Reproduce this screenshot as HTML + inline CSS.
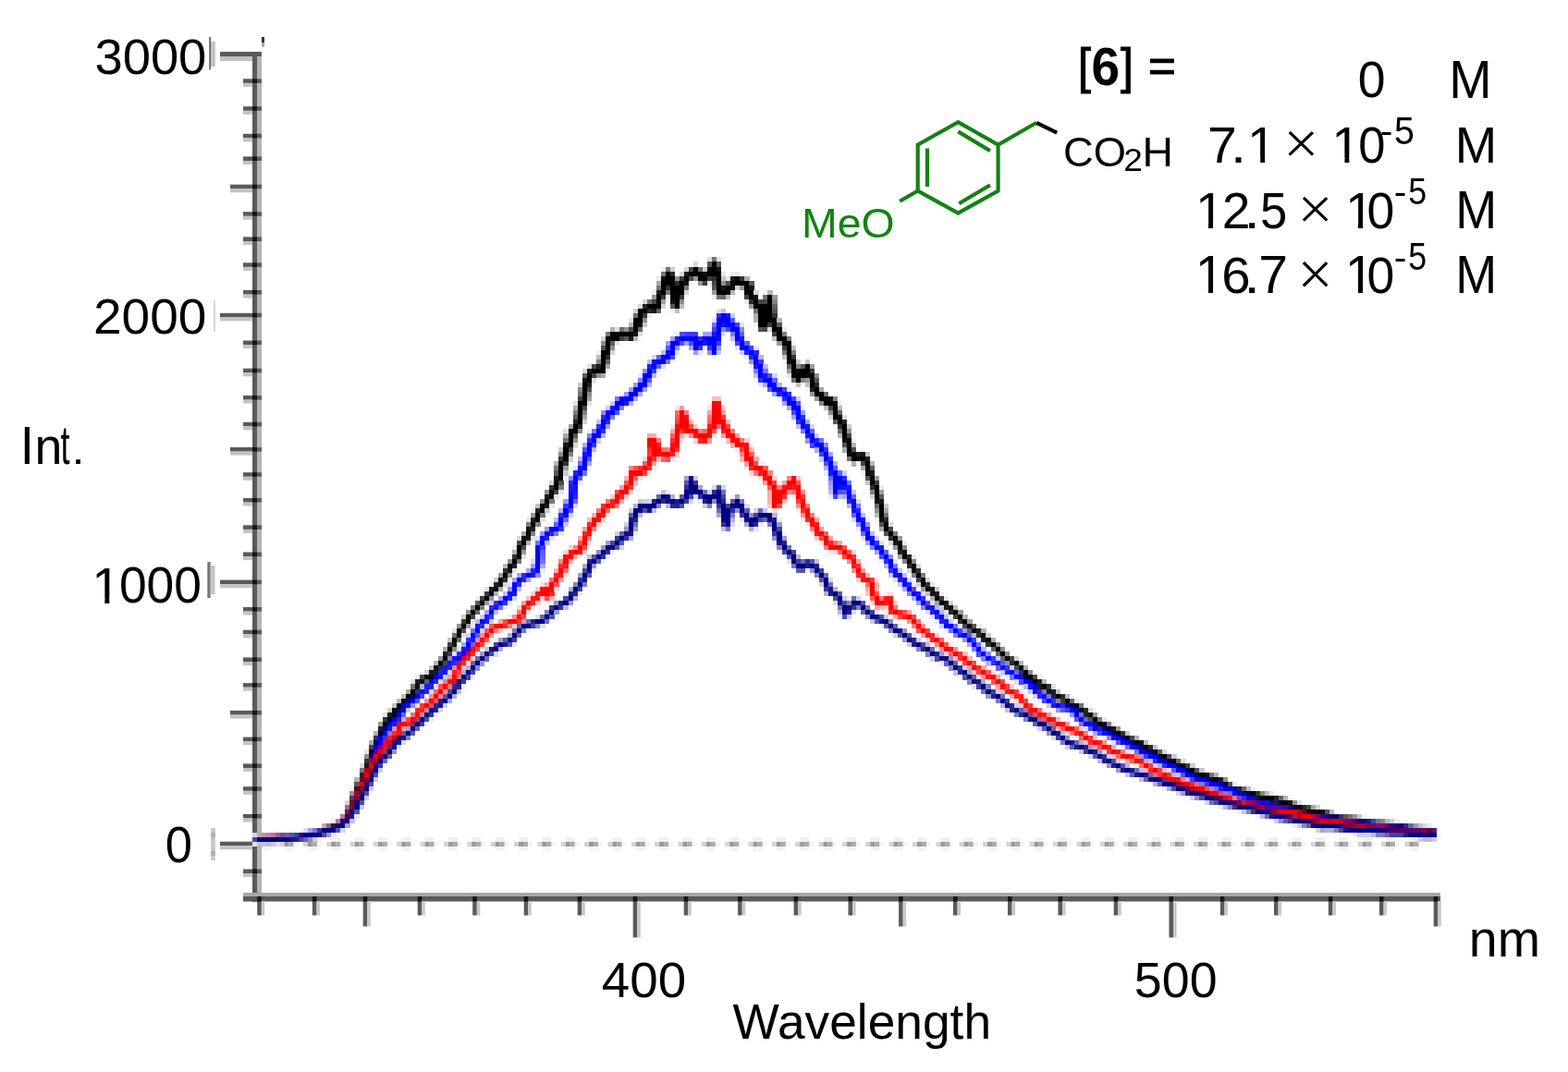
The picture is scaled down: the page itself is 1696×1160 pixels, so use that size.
<!DOCTYPE html>
<html><head><meta charset="utf-8"><style>html,body{margin:0;padding:0;background:#fff;}svg{display:block;}</style></head>
<body>
<svg width="1696" height="1160" viewBox="0 0 1696 1160" font-family="'Liberation Sans', Arial, sans-serif">
<rect width="1696" height="1160" fill="#fff"/>
<rect x="282.15" y="906" width="10" height="5" fill="#efefef"/>
<rect x="282.15" y="916" width="10" height="5" fill="#f4f4f4"/>
<rect x="277.15" y="911" width="5" height="5" fill="#d4d4d4"/>
<rect x="292.15" y="911" width="5" height="5" fill="#f5f5f5"/>
<rect x="282.15" y="911" width="5" height="5" fill="#999999"/>
<rect x="287.15" y="911" width="5" height="5" fill="#ababab"/>
<rect x="307.50" y="906" width="10" height="5" fill="#efefef"/>
<rect x="307.50" y="916" width="10" height="5" fill="#f4f4f4"/>
<rect x="302.50" y="911" width="5" height="5" fill="#d4d4d4"/>
<rect x="317.50" y="911" width="5" height="5" fill="#f5f5f5"/>
<rect x="307.50" y="911" width="5" height="5" fill="#999999"/>
<rect x="312.50" y="911" width="5" height="5" fill="#ababab"/>
<rect x="332.85" y="906" width="10" height="5" fill="#efefef"/>
<rect x="332.85" y="916" width="10" height="5" fill="#f4f4f4"/>
<rect x="327.85" y="911" width="5" height="5" fill="#d4d4d4"/>
<rect x="342.85" y="911" width="5" height="5" fill="#f5f5f5"/>
<rect x="332.85" y="911" width="5" height="5" fill="#999999"/>
<rect x="337.85" y="911" width="5" height="5" fill="#ababab"/>
<rect x="358.20" y="906" width="10" height="5" fill="#efefef"/>
<rect x="358.20" y="916" width="10" height="5" fill="#f4f4f4"/>
<rect x="353.20" y="911" width="5" height="5" fill="#d4d4d4"/>
<rect x="368.20" y="911" width="5" height="5" fill="#f5f5f5"/>
<rect x="358.20" y="911" width="5" height="5" fill="#999999"/>
<rect x="363.20" y="911" width="5" height="5" fill="#ababab"/>
<rect x="383.55" y="906" width="10" height="5" fill="#efefef"/>
<rect x="383.55" y="916" width="10" height="5" fill="#f4f4f4"/>
<rect x="378.55" y="911" width="5" height="5" fill="#d4d4d4"/>
<rect x="393.55" y="911" width="5" height="5" fill="#f5f5f5"/>
<rect x="383.55" y="911" width="5" height="5" fill="#999999"/>
<rect x="388.55" y="911" width="5" height="5" fill="#ababab"/>
<rect x="408.90" y="906" width="10" height="5" fill="#efefef"/>
<rect x="408.90" y="916" width="10" height="5" fill="#f4f4f4"/>
<rect x="403.90" y="911" width="5" height="5" fill="#d4d4d4"/>
<rect x="418.90" y="911" width="5" height="5" fill="#f5f5f5"/>
<rect x="408.90" y="911" width="5" height="5" fill="#999999"/>
<rect x="413.90" y="911" width="5" height="5" fill="#ababab"/>
<rect x="434.25" y="906" width="10" height="5" fill="#efefef"/>
<rect x="434.25" y="916" width="10" height="5" fill="#f4f4f4"/>
<rect x="429.25" y="911" width="5" height="5" fill="#d4d4d4"/>
<rect x="444.25" y="911" width="5" height="5" fill="#f5f5f5"/>
<rect x="434.25" y="911" width="5" height="5" fill="#999999"/>
<rect x="439.25" y="911" width="5" height="5" fill="#ababab"/>
<rect x="459.60" y="906" width="10" height="5" fill="#efefef"/>
<rect x="459.60" y="916" width="10" height="5" fill="#f4f4f4"/>
<rect x="454.60" y="911" width="5" height="5" fill="#d4d4d4"/>
<rect x="469.60" y="911" width="5" height="5" fill="#f5f5f5"/>
<rect x="459.60" y="911" width="5" height="5" fill="#999999"/>
<rect x="464.60" y="911" width="5" height="5" fill="#ababab"/>
<rect x="484.95" y="906" width="10" height="5" fill="#efefef"/>
<rect x="484.95" y="916" width="10" height="5" fill="#f4f4f4"/>
<rect x="479.95" y="911" width="5" height="5" fill="#d4d4d4"/>
<rect x="494.95" y="911" width="5" height="5" fill="#f5f5f5"/>
<rect x="484.95" y="911" width="5" height="5" fill="#999999"/>
<rect x="489.95" y="911" width="5" height="5" fill="#ababab"/>
<rect x="510.30" y="906" width="10" height="5" fill="#efefef"/>
<rect x="510.30" y="916" width="10" height="5" fill="#f4f4f4"/>
<rect x="505.30" y="911" width="5" height="5" fill="#d4d4d4"/>
<rect x="520.30" y="911" width="5" height="5" fill="#f5f5f5"/>
<rect x="510.30" y="911" width="5" height="5" fill="#999999"/>
<rect x="515.30" y="911" width="5" height="5" fill="#ababab"/>
<rect x="535.65" y="906" width="10" height="5" fill="#efefef"/>
<rect x="535.65" y="916" width="10" height="5" fill="#f4f4f4"/>
<rect x="530.65" y="911" width="5" height="5" fill="#d4d4d4"/>
<rect x="545.65" y="911" width="5" height="5" fill="#f5f5f5"/>
<rect x="535.65" y="911" width="5" height="5" fill="#999999"/>
<rect x="540.65" y="911" width="5" height="5" fill="#ababab"/>
<rect x="561.00" y="906" width="10" height="5" fill="#efefef"/>
<rect x="561.00" y="916" width="10" height="5" fill="#f4f4f4"/>
<rect x="556.00" y="911" width="5" height="5" fill="#d4d4d4"/>
<rect x="571.00" y="911" width="5" height="5" fill="#f5f5f5"/>
<rect x="561.00" y="911" width="5" height="5" fill="#999999"/>
<rect x="566.00" y="911" width="5" height="5" fill="#ababab"/>
<rect x="586.35" y="906" width="10" height="5" fill="#efefef"/>
<rect x="586.35" y="916" width="10" height="5" fill="#f4f4f4"/>
<rect x="581.35" y="911" width="5" height="5" fill="#d4d4d4"/>
<rect x="596.35" y="911" width="5" height="5" fill="#f5f5f5"/>
<rect x="586.35" y="911" width="5" height="5" fill="#999999"/>
<rect x="591.35" y="911" width="5" height="5" fill="#ababab"/>
<rect x="611.70" y="906" width="10" height="5" fill="#efefef"/>
<rect x="611.70" y="916" width="10" height="5" fill="#f4f4f4"/>
<rect x="606.70" y="911" width="5" height="5" fill="#d4d4d4"/>
<rect x="621.70" y="911" width="5" height="5" fill="#f5f5f5"/>
<rect x="611.70" y="911" width="5" height="5" fill="#999999"/>
<rect x="616.70" y="911" width="5" height="5" fill="#ababab"/>
<rect x="637.05" y="906" width="10" height="5" fill="#efefef"/>
<rect x="637.05" y="916" width="10" height="5" fill="#f4f4f4"/>
<rect x="632.05" y="911" width="5" height="5" fill="#d4d4d4"/>
<rect x="647.05" y="911" width="5" height="5" fill="#f5f5f5"/>
<rect x="637.05" y="911" width="5" height="5" fill="#999999"/>
<rect x="642.05" y="911" width="5" height="5" fill="#ababab"/>
<rect x="662.40" y="906" width="10" height="5" fill="#efefef"/>
<rect x="662.40" y="916" width="10" height="5" fill="#f4f4f4"/>
<rect x="657.40" y="911" width="5" height="5" fill="#d4d4d4"/>
<rect x="672.40" y="911" width="5" height="5" fill="#f5f5f5"/>
<rect x="662.40" y="911" width="5" height="5" fill="#999999"/>
<rect x="667.40" y="911" width="5" height="5" fill="#ababab"/>
<rect x="687.75" y="906" width="10" height="5" fill="#efefef"/>
<rect x="687.75" y="916" width="10" height="5" fill="#f4f4f4"/>
<rect x="682.75" y="911" width="5" height="5" fill="#d4d4d4"/>
<rect x="697.75" y="911" width="5" height="5" fill="#f5f5f5"/>
<rect x="687.75" y="911" width="5" height="5" fill="#999999"/>
<rect x="692.75" y="911" width="5" height="5" fill="#ababab"/>
<rect x="713.10" y="906" width="10" height="5" fill="#efefef"/>
<rect x="713.10" y="916" width="10" height="5" fill="#f4f4f4"/>
<rect x="708.10" y="911" width="5" height="5" fill="#d4d4d4"/>
<rect x="723.10" y="911" width="5" height="5" fill="#f5f5f5"/>
<rect x="713.10" y="911" width="5" height="5" fill="#999999"/>
<rect x="718.10" y="911" width="5" height="5" fill="#ababab"/>
<rect x="738.45" y="906" width="10" height="5" fill="#efefef"/>
<rect x="738.45" y="916" width="10" height="5" fill="#f4f4f4"/>
<rect x="733.45" y="911" width="5" height="5" fill="#d4d4d4"/>
<rect x="748.45" y="911" width="5" height="5" fill="#f5f5f5"/>
<rect x="738.45" y="911" width="5" height="5" fill="#999999"/>
<rect x="743.45" y="911" width="5" height="5" fill="#ababab"/>
<rect x="763.80" y="906" width="10" height="5" fill="#efefef"/>
<rect x="763.80" y="916" width="10" height="5" fill="#f4f4f4"/>
<rect x="758.80" y="911" width="5" height="5" fill="#d4d4d4"/>
<rect x="773.80" y="911" width="5" height="5" fill="#f5f5f5"/>
<rect x="763.80" y="911" width="5" height="5" fill="#999999"/>
<rect x="768.80" y="911" width="5" height="5" fill="#ababab"/>
<rect x="789.15" y="906" width="10" height="5" fill="#efefef"/>
<rect x="789.15" y="916" width="10" height="5" fill="#f4f4f4"/>
<rect x="784.15" y="911" width="5" height="5" fill="#d4d4d4"/>
<rect x="799.15" y="911" width="5" height="5" fill="#f5f5f5"/>
<rect x="789.15" y="911" width="5" height="5" fill="#999999"/>
<rect x="794.15" y="911" width="5" height="5" fill="#ababab"/>
<rect x="814.50" y="906" width="10" height="5" fill="#efefef"/>
<rect x="814.50" y="916" width="10" height="5" fill="#f4f4f4"/>
<rect x="809.50" y="911" width="5" height="5" fill="#d4d4d4"/>
<rect x="824.50" y="911" width="5" height="5" fill="#f5f5f5"/>
<rect x="814.50" y="911" width="5" height="5" fill="#999999"/>
<rect x="819.50" y="911" width="5" height="5" fill="#ababab"/>
<rect x="839.85" y="906" width="10" height="5" fill="#efefef"/>
<rect x="839.85" y="916" width="10" height="5" fill="#f4f4f4"/>
<rect x="834.85" y="911" width="5" height="5" fill="#d4d4d4"/>
<rect x="849.85" y="911" width="5" height="5" fill="#f5f5f5"/>
<rect x="839.85" y="911" width="5" height="5" fill="#999999"/>
<rect x="844.85" y="911" width="5" height="5" fill="#ababab"/>
<rect x="865.20" y="906" width="10" height="5" fill="#efefef"/>
<rect x="865.20" y="916" width="10" height="5" fill="#f4f4f4"/>
<rect x="860.20" y="911" width="5" height="5" fill="#d4d4d4"/>
<rect x="875.20" y="911" width="5" height="5" fill="#f5f5f5"/>
<rect x="865.20" y="911" width="5" height="5" fill="#999999"/>
<rect x="870.20" y="911" width="5" height="5" fill="#ababab"/>
<rect x="890.55" y="906" width="10" height="5" fill="#efefef"/>
<rect x="890.55" y="916" width="10" height="5" fill="#f4f4f4"/>
<rect x="885.55" y="911" width="5" height="5" fill="#d4d4d4"/>
<rect x="900.55" y="911" width="5" height="5" fill="#f5f5f5"/>
<rect x="890.55" y="911" width="5" height="5" fill="#999999"/>
<rect x="895.55" y="911" width="5" height="5" fill="#ababab"/>
<rect x="915.90" y="906" width="10" height="5" fill="#efefef"/>
<rect x="915.90" y="916" width="10" height="5" fill="#f4f4f4"/>
<rect x="910.90" y="911" width="5" height="5" fill="#d4d4d4"/>
<rect x="925.90" y="911" width="5" height="5" fill="#f5f5f5"/>
<rect x="915.90" y="911" width="5" height="5" fill="#999999"/>
<rect x="920.90" y="911" width="5" height="5" fill="#ababab"/>
<rect x="941.25" y="906" width="10" height="5" fill="#efefef"/>
<rect x="941.25" y="916" width="10" height="5" fill="#f4f4f4"/>
<rect x="936.25" y="911" width="5" height="5" fill="#d4d4d4"/>
<rect x="951.25" y="911" width="5" height="5" fill="#f5f5f5"/>
<rect x="941.25" y="911" width="5" height="5" fill="#999999"/>
<rect x="946.25" y="911" width="5" height="5" fill="#ababab"/>
<rect x="966.60" y="906" width="10" height="5" fill="#efefef"/>
<rect x="966.60" y="916" width="10" height="5" fill="#f4f4f4"/>
<rect x="961.60" y="911" width="5" height="5" fill="#d4d4d4"/>
<rect x="976.60" y="911" width="5" height="5" fill="#f5f5f5"/>
<rect x="966.60" y="911" width="5" height="5" fill="#999999"/>
<rect x="971.60" y="911" width="5" height="5" fill="#ababab"/>
<rect x="991.95" y="906" width="10" height="5" fill="#efefef"/>
<rect x="991.95" y="916" width="10" height="5" fill="#f4f4f4"/>
<rect x="986.95" y="911" width="5" height="5" fill="#d4d4d4"/>
<rect x="1001.95" y="911" width="5" height="5" fill="#f5f5f5"/>
<rect x="991.95" y="911" width="5" height="5" fill="#999999"/>
<rect x="996.95" y="911" width="5" height="5" fill="#ababab"/>
<rect x="1017.30" y="906" width="10" height="5" fill="#efefef"/>
<rect x="1017.30" y="916" width="10" height="5" fill="#f4f4f4"/>
<rect x="1012.30" y="911" width="5" height="5" fill="#d4d4d4"/>
<rect x="1027.30" y="911" width="5" height="5" fill="#f5f5f5"/>
<rect x="1017.30" y="911" width="5" height="5" fill="#999999"/>
<rect x="1022.30" y="911" width="5" height="5" fill="#ababab"/>
<rect x="1042.65" y="906" width="10" height="5" fill="#efefef"/>
<rect x="1042.65" y="916" width="10" height="5" fill="#f4f4f4"/>
<rect x="1037.65" y="911" width="5" height="5" fill="#d4d4d4"/>
<rect x="1052.65" y="911" width="5" height="5" fill="#f5f5f5"/>
<rect x="1042.65" y="911" width="5" height="5" fill="#999999"/>
<rect x="1047.65" y="911" width="5" height="5" fill="#ababab"/>
<rect x="1068.00" y="906" width="10" height="5" fill="#efefef"/>
<rect x="1068.00" y="916" width="10" height="5" fill="#f4f4f4"/>
<rect x="1063.00" y="911" width="5" height="5" fill="#d4d4d4"/>
<rect x="1078.00" y="911" width="5" height="5" fill="#f5f5f5"/>
<rect x="1068.00" y="911" width="5" height="5" fill="#999999"/>
<rect x="1073.00" y="911" width="5" height="5" fill="#ababab"/>
<rect x="1093.35" y="906" width="10" height="5" fill="#efefef"/>
<rect x="1093.35" y="916" width="10" height="5" fill="#f4f4f4"/>
<rect x="1088.35" y="911" width="5" height="5" fill="#d4d4d4"/>
<rect x="1103.35" y="911" width="5" height="5" fill="#f5f5f5"/>
<rect x="1093.35" y="911" width="5" height="5" fill="#999999"/>
<rect x="1098.35" y="911" width="5" height="5" fill="#ababab"/>
<rect x="1118.70" y="906" width="10" height="5" fill="#efefef"/>
<rect x="1118.70" y="916" width="10" height="5" fill="#f4f4f4"/>
<rect x="1113.70" y="911" width="5" height="5" fill="#d4d4d4"/>
<rect x="1128.70" y="911" width="5" height="5" fill="#f5f5f5"/>
<rect x="1118.70" y="911" width="5" height="5" fill="#999999"/>
<rect x="1123.70" y="911" width="5" height="5" fill="#ababab"/>
<rect x="1144.05" y="906" width="10" height="5" fill="#efefef"/>
<rect x="1144.05" y="916" width="10" height="5" fill="#f4f4f4"/>
<rect x="1139.05" y="911" width="5" height="5" fill="#d4d4d4"/>
<rect x="1154.05" y="911" width="5" height="5" fill="#f5f5f5"/>
<rect x="1144.05" y="911" width="5" height="5" fill="#999999"/>
<rect x="1149.05" y="911" width="5" height="5" fill="#ababab"/>
<rect x="1169.40" y="906" width="10" height="5" fill="#efefef"/>
<rect x="1169.40" y="916" width="10" height="5" fill="#f4f4f4"/>
<rect x="1164.40" y="911" width="5" height="5" fill="#d4d4d4"/>
<rect x="1179.40" y="911" width="5" height="5" fill="#f5f5f5"/>
<rect x="1169.40" y="911" width="5" height="5" fill="#999999"/>
<rect x="1174.40" y="911" width="5" height="5" fill="#ababab"/>
<rect x="1194.75" y="906" width="10" height="5" fill="#efefef"/>
<rect x="1194.75" y="916" width="10" height="5" fill="#f4f4f4"/>
<rect x="1189.75" y="911" width="5" height="5" fill="#d4d4d4"/>
<rect x="1204.75" y="911" width="5" height="5" fill="#f5f5f5"/>
<rect x="1194.75" y="911" width="5" height="5" fill="#999999"/>
<rect x="1199.75" y="911" width="5" height="5" fill="#ababab"/>
<rect x="1220.10" y="906" width="10" height="5" fill="#efefef"/>
<rect x="1220.10" y="916" width="10" height="5" fill="#f4f4f4"/>
<rect x="1215.10" y="911" width="5" height="5" fill="#d4d4d4"/>
<rect x="1230.10" y="911" width="5" height="5" fill="#f5f5f5"/>
<rect x="1220.10" y="911" width="5" height="5" fill="#999999"/>
<rect x="1225.10" y="911" width="5" height="5" fill="#ababab"/>
<rect x="1245.45" y="906" width="10" height="5" fill="#efefef"/>
<rect x="1245.45" y="916" width="10" height="5" fill="#f4f4f4"/>
<rect x="1240.45" y="911" width="5" height="5" fill="#d4d4d4"/>
<rect x="1255.45" y="911" width="5" height="5" fill="#f5f5f5"/>
<rect x="1245.45" y="911" width="5" height="5" fill="#999999"/>
<rect x="1250.45" y="911" width="5" height="5" fill="#ababab"/>
<rect x="1270.80" y="906" width="10" height="5" fill="#efefef"/>
<rect x="1270.80" y="916" width="10" height="5" fill="#f4f4f4"/>
<rect x="1265.80" y="911" width="5" height="5" fill="#d4d4d4"/>
<rect x="1280.80" y="911" width="5" height="5" fill="#f5f5f5"/>
<rect x="1270.80" y="911" width="5" height="5" fill="#999999"/>
<rect x="1275.80" y="911" width="5" height="5" fill="#ababab"/>
<rect x="1296.15" y="906" width="10" height="5" fill="#efefef"/>
<rect x="1296.15" y="916" width="10" height="5" fill="#f4f4f4"/>
<rect x="1291.15" y="911" width="5" height="5" fill="#d4d4d4"/>
<rect x="1306.15" y="911" width="5" height="5" fill="#f5f5f5"/>
<rect x="1296.15" y="911" width="5" height="5" fill="#999999"/>
<rect x="1301.15" y="911" width="5" height="5" fill="#ababab"/>
<rect x="1321.50" y="906" width="10" height="5" fill="#efefef"/>
<rect x="1321.50" y="916" width="10" height="5" fill="#f4f4f4"/>
<rect x="1316.50" y="911" width="5" height="5" fill="#d4d4d4"/>
<rect x="1331.50" y="911" width="5" height="5" fill="#f5f5f5"/>
<rect x="1321.50" y="911" width="5" height="5" fill="#999999"/>
<rect x="1326.50" y="911" width="5" height="5" fill="#ababab"/>
<rect x="1346.85" y="906" width="10" height="5" fill="#efefef"/>
<rect x="1346.85" y="916" width="10" height="5" fill="#f4f4f4"/>
<rect x="1341.85" y="911" width="5" height="5" fill="#d4d4d4"/>
<rect x="1356.85" y="911" width="5" height="5" fill="#f5f5f5"/>
<rect x="1346.85" y="911" width="5" height="5" fill="#999999"/>
<rect x="1351.85" y="911" width="5" height="5" fill="#ababab"/>
<rect x="1372.20" y="906" width="10" height="5" fill="#efefef"/>
<rect x="1372.20" y="916" width="10" height="5" fill="#f4f4f4"/>
<rect x="1367.20" y="911" width="5" height="5" fill="#d4d4d4"/>
<rect x="1382.20" y="911" width="5" height="5" fill="#f5f5f5"/>
<rect x="1372.20" y="911" width="5" height="5" fill="#999999"/>
<rect x="1377.20" y="911" width="5" height="5" fill="#ababab"/>
<rect x="1397.55" y="906" width="10" height="5" fill="#efefef"/>
<rect x="1397.55" y="916" width="10" height="5" fill="#f4f4f4"/>
<rect x="1392.55" y="911" width="5" height="5" fill="#d4d4d4"/>
<rect x="1407.55" y="911" width="5" height="5" fill="#f5f5f5"/>
<rect x="1397.55" y="911" width="5" height="5" fill="#999999"/>
<rect x="1402.55" y="911" width="5" height="5" fill="#ababab"/>
<rect x="1422.90" y="906" width="10" height="5" fill="#efefef"/>
<rect x="1422.90" y="916" width="10" height="5" fill="#f4f4f4"/>
<rect x="1417.90" y="911" width="5" height="5" fill="#d4d4d4"/>
<rect x="1432.90" y="911" width="5" height="5" fill="#f5f5f5"/>
<rect x="1422.90" y="911" width="5" height="5" fill="#999999"/>
<rect x="1427.90" y="911" width="5" height="5" fill="#ababab"/>
<rect x="1448.25" y="906" width="10" height="5" fill="#efefef"/>
<rect x="1448.25" y="916" width="10" height="5" fill="#f4f4f4"/>
<rect x="1443.25" y="911" width="5" height="5" fill="#d4d4d4"/>
<rect x="1458.25" y="911" width="5" height="5" fill="#f5f5f5"/>
<rect x="1448.25" y="911" width="5" height="5" fill="#999999"/>
<rect x="1453.25" y="911" width="5" height="5" fill="#ababab"/>
<rect x="1473.60" y="906" width="10" height="5" fill="#efefef"/>
<rect x="1473.60" y="916" width="10" height="5" fill="#f4f4f4"/>
<rect x="1468.60" y="911" width="5" height="5" fill="#d4d4d4"/>
<rect x="1483.60" y="911" width="5" height="5" fill="#f5f5f5"/>
<rect x="1473.60" y="911" width="5" height="5" fill="#999999"/>
<rect x="1478.60" y="911" width="5" height="5" fill="#ababab"/>
<rect x="1498.95" y="906" width="10" height="5" fill="#efefef"/>
<rect x="1498.95" y="916" width="10" height="5" fill="#f4f4f4"/>
<rect x="1493.95" y="911" width="5" height="5" fill="#d4d4d4"/>
<rect x="1508.95" y="911" width="5" height="5" fill="#f5f5f5"/>
<rect x="1498.95" y="911" width="5" height="5" fill="#999999"/>
<rect x="1503.95" y="911" width="5" height="5" fill="#ababab"/>
<rect x="1524.30" y="906" width="10" height="5" fill="#efefef"/>
<rect x="1524.30" y="916" width="10" height="5" fill="#f4f4f4"/>
<rect x="1519.30" y="911" width="5" height="5" fill="#d4d4d4"/>
<rect x="1534.30" y="911" width="5" height="5" fill="#f5f5f5"/>
<rect x="1524.30" y="911" width="5" height="5" fill="#999999"/>
<rect x="1529.30" y="911" width="5" height="5" fill="#ababab"/>
<rect x="273" y="56" width="5" height="920" fill="#5a5a5a"/>
<rect x="278" y="61" width="5" height="905" fill="#b4b4b4"/>
<rect x="238" y="56" width="45" height="5" fill="#5a5a5a"/>
<rect x="238" y="61" width="35" height="5" fill="#c0c0c0"/>
<rect x="283" y="40" width="3" height="6" fill="#333"/><rect x="283" y="46" width="3" height="5" fill="#aaa"/>
<rect x="263" y="85.3" width="20" height="4.6" fill="#5a5a5a"/>
<rect x="263" y="89.9" width="10" height="4" fill="#c4c4c4"/>
<rect x="273" y="85.3" width="5" height="4.6" fill="#151515"/>
<rect x="263" y="115.2" width="20" height="4.6" fill="#5a5a5a"/>
<rect x="263" y="119.8" width="10" height="4" fill="#c4c4c4"/>
<rect x="273" y="115.2" width="5" height="4.6" fill="#151515"/>
<rect x="263" y="144.8" width="20" height="4.6" fill="#5a5a5a"/>
<rect x="263" y="149.4" width="10" height="4" fill="#c4c4c4"/>
<rect x="273" y="144.8" width="5" height="4.6" fill="#151515"/>
<rect x="263" y="169.4" width="20" height="4.6" fill="#5a5a5a"/>
<rect x="263" y="174.0" width="10" height="4" fill="#c4c4c4"/>
<rect x="273" y="169.4" width="5" height="4.6" fill="#151515"/>
<rect x="249" y="199.7" width="34" height="4.6" fill="#5a5a5a"/>
<rect x="249" y="204.3" width="24" height="4" fill="#c4c4c4"/>
<rect x="273" y="199.7" width="5" height="4.6" fill="#151515"/>
<rect x="263" y="229.2" width="20" height="4.6" fill="#5a5a5a"/>
<rect x="263" y="233.8" width="10" height="4" fill="#c4c4c4"/>
<rect x="273" y="229.2" width="5" height="4.6" fill="#151515"/>
<rect x="263" y="256.4" width="20" height="4.6" fill="#5a5a5a"/>
<rect x="263" y="261.0" width="10" height="4" fill="#c4c4c4"/>
<rect x="273" y="256.4" width="5" height="4.6" fill="#151515"/>
<rect x="263" y="284.3" width="20" height="4.6" fill="#5a5a5a"/>
<rect x="263" y="288.9" width="10" height="4" fill="#c4c4c4"/>
<rect x="273" y="284.3" width="5" height="4.6" fill="#151515"/>
<rect x="263" y="314.0" width="20" height="4.6" fill="#5a5a5a"/>
<rect x="263" y="318.6" width="10" height="4" fill="#c4c4c4"/>
<rect x="273" y="314.0" width="5" height="4.6" fill="#151515"/>
<rect x="238" y="338.8" width="45" height="4.6" fill="#5a5a5a"/>
<rect x="238" y="343.4" width="35" height="4" fill="#c4c4c4"/>
<rect x="273" y="338.8" width="5" height="4.6" fill="#151515"/>
<rect x="263" y="368.5" width="20" height="4.6" fill="#5a5a5a"/>
<rect x="263" y="373.1" width="10" height="4" fill="#c4c4c4"/>
<rect x="273" y="368.5" width="5" height="4.6" fill="#151515"/>
<rect x="263" y="398.7" width="20" height="4.6" fill="#5a5a5a"/>
<rect x="263" y="403.3" width="10" height="4" fill="#c4c4c4"/>
<rect x="273" y="398.7" width="5" height="4.6" fill="#151515"/>
<rect x="263" y="428.0" width="20" height="4.6" fill="#5a5a5a"/>
<rect x="263" y="432.6" width="10" height="4" fill="#c4c4c4"/>
<rect x="273" y="428.0" width="5" height="4.6" fill="#151515"/>
<rect x="263" y="456.8" width="20" height="4.6" fill="#5a5a5a"/>
<rect x="263" y="461.4" width="10" height="4" fill="#c4c4c4"/>
<rect x="273" y="456.8" width="5" height="4.6" fill="#151515"/>
<rect x="249" y="484.0" width="34" height="4.6" fill="#5a5a5a"/>
<rect x="249" y="488.6" width="24" height="4" fill="#c4c4c4"/>
<rect x="273" y="484.0" width="5" height="4.6" fill="#151515"/>
<rect x="263" y="511.2" width="20" height="4.6" fill="#5a5a5a"/>
<rect x="263" y="515.8" width="10" height="4" fill="#c4c4c4"/>
<rect x="273" y="511.2" width="5" height="4.6" fill="#151515"/>
<rect x="263" y="539.0" width="20" height="4.6" fill="#5a5a5a"/>
<rect x="263" y="543.6" width="10" height="4" fill="#c4c4c4"/>
<rect x="273" y="539.0" width="5" height="4.6" fill="#151515"/>
<rect x="263" y="568.3" width="20" height="4.6" fill="#5a5a5a"/>
<rect x="263" y="572.9" width="10" height="4" fill="#c4c4c4"/>
<rect x="273" y="568.3" width="5" height="4.6" fill="#151515"/>
<rect x="263" y="597.5" width="20" height="4.6" fill="#5a5a5a"/>
<rect x="263" y="602.1" width="10" height="4" fill="#c4c4c4"/>
<rect x="273" y="597.5" width="5" height="4.6" fill="#151515"/>
<rect x="238" y="627.6" width="45" height="4.6" fill="#5a5a5a"/>
<rect x="238" y="632.2" width="35" height="4" fill="#c4c4c4"/>
<rect x="273" y="627.6" width="5" height="4.6" fill="#151515"/>
<rect x="263" y="657.0" width="20" height="4.6" fill="#5a5a5a"/>
<rect x="263" y="661.6" width="10" height="4" fill="#c4c4c4"/>
<rect x="273" y="657.0" width="5" height="4.6" fill="#151515"/>
<rect x="263" y="681.7" width="20" height="4.6" fill="#5a5a5a"/>
<rect x="263" y="686.3" width="10" height="4" fill="#c4c4c4"/>
<rect x="273" y="681.7" width="5" height="4.6" fill="#151515"/>
<rect x="263" y="711.4" width="20" height="4.6" fill="#5a5a5a"/>
<rect x="263" y="716.0" width="10" height="4" fill="#c4c4c4"/>
<rect x="273" y="711.4" width="5" height="4.6" fill="#151515"/>
<rect x="263" y="739.1" width="20" height="4.6" fill="#5a5a5a"/>
<rect x="263" y="743.7" width="10" height="4" fill="#c4c4c4"/>
<rect x="273" y="739.1" width="5" height="4.6" fill="#151515"/>
<rect x="249" y="768.9" width="34" height="4.6" fill="#5a5a5a"/>
<rect x="249" y="773.5" width="24" height="4" fill="#c4c4c4"/>
<rect x="273" y="768.9" width="5" height="4.6" fill="#151515"/>
<rect x="263" y="797.6" width="20" height="4.6" fill="#5a5a5a"/>
<rect x="263" y="802.2" width="10" height="4" fill="#c4c4c4"/>
<rect x="273" y="797.6" width="5" height="4.6" fill="#151515"/>
<rect x="263" y="826.4" width="20" height="4.6" fill="#5a5a5a"/>
<rect x="263" y="831.0" width="10" height="4" fill="#c4c4c4"/>
<rect x="273" y="826.4" width="5" height="4.6" fill="#151515"/>
<rect x="263" y="851.2" width="20" height="4.6" fill="#5a5a5a"/>
<rect x="263" y="855.8" width="10" height="4" fill="#c4c4c4"/>
<rect x="273" y="851.2" width="5" height="4.6" fill="#151515"/>
<rect x="263" y="880.9" width="20" height="4.6" fill="#5a5a5a"/>
<rect x="263" y="885.5" width="10" height="4" fill="#c4c4c4"/>
<rect x="273" y="880.9" width="5" height="4.6" fill="#151515"/>
<rect x="238" y="910.7" width="45" height="4.6" fill="#5a5a5a"/>
<rect x="238" y="915.3" width="35" height="4" fill="#c4c4c4"/>
<rect x="273" y="910.7" width="5" height="4.6" fill="#151515"/>
<rect x="263" y="940.5" width="20" height="4.6" fill="#5a5a5a"/>
<rect x="263" y="945.1" width="10" height="4" fill="#c4c4c4"/>
<rect x="273" y="940.5" width="5" height="4.6" fill="#151515"/>
<rect x="226.2" y="40" width="1.8" height="35.5" fill="#6a6a6a"/><rect x="228" y="45" width="4.8" height="27" fill="#c4c4c4"/>
<rect x="231.1" y="324.5" width="1.7" height="34" fill="#d0d0d0"/>
<rect x="224.3" y="608" width="3.4" height="39" fill="#777"/><rect x="227.7" y="612" width="4.8" height="31" fill="#c4c4c4"/>
<rect x="228.1" y="896" width="4.7" height="35" fill="#c8c8c8"/><rect x="228.1" y="901" width="4.7" height="5" fill="#b0b0b0"/><rect x="228.1" y="921" width="4.7" height="5" fill="#b0b0b0"/>
<rect x="263" y="966" width="1295" height="4" fill="#a8a8a8"/>
<rect x="263" y="970" width="1295" height="5.5" fill="#5a5a5a"/>
<rect x="278.2" y="970" width="4.6" height="20.5" fill="#5a5a5a"/>
<rect x="282.8" y="975" width="3.5" height="15.5" fill="#c8c8c8"/>
<rect x="278.2" y="970" width="4.6" height="5.5" fill="#151515"/>
<rect x="337.9" y="970" width="4.6" height="20.5" fill="#5a5a5a"/>
<rect x="342.5" y="975" width="3.5" height="15.5" fill="#c8c8c8"/>
<rect x="337.9" y="970" width="4.6" height="5.5" fill="#151515"/>
<rect x="392.7" y="970" width="4.6" height="32.5" fill="#5a5a5a"/>
<rect x="397.3" y="975" width="3.5" height="27.5" fill="#c8c8c8"/>
<rect x="392.7" y="970" width="4.6" height="5.5" fill="#151515"/>
<rect x="451.7" y="970" width="4.6" height="20.5" fill="#5a5a5a"/>
<rect x="456.3" y="975" width="3.5" height="15.5" fill="#c8c8c8"/>
<rect x="451.7" y="970" width="4.6" height="5.5" fill="#151515"/>
<rect x="511.2" y="970" width="4.6" height="20.5" fill="#5a5a5a"/>
<rect x="515.8" y="975" width="3.5" height="15.5" fill="#c8c8c8"/>
<rect x="511.2" y="970" width="4.6" height="5.5" fill="#151515"/>
<rect x="566.7" y="970" width="4.6" height="20.5" fill="#5a5a5a"/>
<rect x="571.3" y="975" width="3.5" height="15.5" fill="#c8c8c8"/>
<rect x="566.7" y="970" width="4.6" height="5.5" fill="#151515"/>
<rect x="624.7" y="970" width="4.6" height="20.5" fill="#5a5a5a"/>
<rect x="629.3" y="975" width="3.5" height="15.5" fill="#c8c8c8"/>
<rect x="624.7" y="970" width="4.6" height="5.5" fill="#151515"/>
<rect x="684.7" y="970" width="4.6" height="44.5" fill="#5a5a5a"/>
<rect x="689.3" y="975" width="3.5" height="39.5" fill="#c8c8c8"/>
<rect x="684.7" y="970" width="4.6" height="5.5" fill="#151515"/>
<rect x="739.7" y="970" width="4.6" height="20.5" fill="#5a5a5a"/>
<rect x="744.3" y="975" width="3.5" height="15.5" fill="#c8c8c8"/>
<rect x="739.7" y="970" width="4.6" height="5.5" fill="#151515"/>
<rect x="798.1" y="970" width="4.6" height="20.5" fill="#5a5a5a"/>
<rect x="802.7" y="975" width="3.5" height="15.5" fill="#c8c8c8"/>
<rect x="798.1" y="970" width="4.6" height="5.5" fill="#151515"/>
<rect x="858.6" y="970" width="4.6" height="20.5" fill="#5a5a5a"/>
<rect x="863.2" y="975" width="3.5" height="15.5" fill="#c8c8c8"/>
<rect x="858.6" y="970" width="4.6" height="5.5" fill="#151515"/>
<rect x="917.5" y="970" width="4.6" height="20.5" fill="#5a5a5a"/>
<rect x="922.1" y="975" width="3.5" height="15.5" fill="#c8c8c8"/>
<rect x="917.5" y="970" width="4.6" height="5.5" fill="#151515"/>
<rect x="972.1" y="970" width="4.6" height="32.5" fill="#5a5a5a"/>
<rect x="976.7" y="975" width="3.5" height="27.5" fill="#c8c8c8"/>
<rect x="972.1" y="970" width="4.6" height="5.5" fill="#151515"/>
<rect x="1031.0" y="970" width="4.6" height="20.5" fill="#5a5a5a"/>
<rect x="1035.6" y="975" width="3.5" height="15.5" fill="#c8c8c8"/>
<rect x="1031.0" y="970" width="4.6" height="5.5" fill="#151515"/>
<rect x="1090.0" y="970" width="4.6" height="20.5" fill="#5a5a5a"/>
<rect x="1094.6" y="975" width="3.5" height="15.5" fill="#c8c8c8"/>
<rect x="1090.0" y="970" width="4.6" height="5.5" fill="#151515"/>
<rect x="1144.5" y="970" width="4.6" height="20.5" fill="#5a5a5a"/>
<rect x="1149.1" y="975" width="3.5" height="15.5" fill="#c8c8c8"/>
<rect x="1144.5" y="970" width="4.6" height="5.5" fill="#151515"/>
<rect x="1204.7" y="970" width="4.6" height="20.5" fill="#5a5a5a"/>
<rect x="1209.3" y="975" width="3.5" height="15.5" fill="#c8c8c8"/>
<rect x="1204.7" y="970" width="4.6" height="5.5" fill="#151515"/>
<rect x="1264.5" y="970" width="4.6" height="44.5" fill="#5a5a5a"/>
<rect x="1269.1" y="975" width="3.5" height="39.5" fill="#c8c8c8"/>
<rect x="1264.5" y="970" width="4.6" height="5.5" fill="#151515"/>
<rect x="1319.9" y="970" width="4.6" height="20.5" fill="#5a5a5a"/>
<rect x="1324.5" y="975" width="3.5" height="15.5" fill="#c8c8c8"/>
<rect x="1319.9" y="970" width="4.6" height="5.5" fill="#151515"/>
<rect x="1378.0" y="970" width="4.6" height="20.5" fill="#5a5a5a"/>
<rect x="1382.6" y="975" width="3.5" height="15.5" fill="#c8c8c8"/>
<rect x="1378.0" y="970" width="4.6" height="5.5" fill="#151515"/>
<rect x="1436.9" y="970" width="4.6" height="20.5" fill="#5a5a5a"/>
<rect x="1441.5" y="975" width="3.5" height="15.5" fill="#c8c8c8"/>
<rect x="1436.9" y="970" width="4.6" height="5.5" fill="#151515"/>
<rect x="1492.0" y="970" width="4.6" height="20.5" fill="#5a5a5a"/>
<rect x="1496.6" y="975" width="3.5" height="15.5" fill="#c8c8c8"/>
<rect x="1492.0" y="970" width="4.6" height="5.5" fill="#151515"/>
<rect x="1550.7" y="970" width="4.6" height="32.5" fill="#5a5a5a"/>
<rect x="1555.3" y="975" width="3.5" height="27.5" fill="#c8c8c8"/>
<rect x="1550.7" y="970" width="4.6" height="5.5" fill="#151515"/>
<g shape-rendering="crispEdges">
<rect x="765.16" y="278.47" width="5.17" height="5.17" fill="#dedede"/>
<rect x="770.18" y="278.47" width="5.17" height="5.17" fill="#717171"/>
<rect x="775.20" y="278.47" width="5.17" height="5.17" fill="#e4e4e4"/>
<rect x="750.09" y="283.49" width="5.17" height="5.17" fill="#d7d7d7"/>
<rect x="765.16" y="283.49" width="5.17" height="5.17" fill="#555555"/>
<rect x="770.18" y="283.49" width="5.17" height="5.17" fill="#000000"/>
<rect x="775.20" y="283.49" width="5.17" height="5.17" fill="#5d5d5d"/>
<rect x="714.94" y="288.51" width="5.17" height="5.17" fill="#eeeeee"/>
<rect x="719.96" y="288.51" width="5.17" height="5.17" fill="#737373"/>
<rect x="724.98" y="288.51" width="5.17" height="5.17" fill="#d1d1d1"/>
<rect x="740.05" y="288.51" width="5.17" height="5.17" fill="#d7d7d7"/>
<rect x="745.07" y="288.51" width="5.17" height="5.17" fill="#474747"/>
<rect x="750.09" y="288.51" width="5.17" height="5.17" fill="#000000"/>
<rect x="755.11" y="288.51" width="5.17" height="5.17" fill="#696969"/>
<rect x="760.13" y="288.51" width="5.17" height="5.17" fill="#cecece"/>
<rect x="765.16" y="288.51" width="5.17" height="5.17" fill="#060606"/>
<rect x="770.18" y="288.51" width="5.17" height="5.17" fill="#000000"/>
<rect x="775.20" y="288.51" width="5.17" height="5.17" fill="#111111"/>
<rect x="714.94" y="293.53" width="5.17" height="5.17" fill="#787878"/>
<rect x="719.96" y="293.53" width="5.17" height="5.17" fill="#000000"/>
<rect x="724.98" y="293.53" width="5.17" height="5.17" fill="#2b2b2b"/>
<rect x="735.02" y="293.53" width="5.17" height="5.17" fill="#d7d7d7"/>
<rect x="740.05" y="293.53" width="5.17" height="5.17" fill="#1d1d1d"/>
<rect x="745.07" y="293.53" width="5.17" height="5.17" fill="#000000"/>
<rect x="750.09" y="293.53" width="5.17" height="5.17" fill="#000000"/>
<rect x="755.11" y="293.53" width="5.17" height="5.17" fill="#000000"/>
<rect x="760.13" y="293.53" width="5.17" height="5.17" fill="#0e0e0e"/>
<rect x="765.16" y="293.53" width="5.17" height="5.17" fill="#000000"/>
<rect x="770.18" y="293.53" width="5.17" height="5.17" fill="#000000"/>
<rect x="775.20" y="293.53" width="5.17" height="5.17" fill="#000000"/>
<rect x="780.22" y="293.53" width="5.17" height="5.17" fill="#e8e8e8"/>
<rect x="790.27" y="293.53" width="5.17" height="5.17" fill="#ebebeb"/>
<rect x="795.29" y="293.53" width="5.17" height="5.17" fill="#e9e9e9"/>
<rect x="709.91" y="298.56" width="5.17" height="5.17" fill="#eaeaea"/>
<rect x="714.94" y="298.56" width="5.17" height="5.17" fill="#0d0d0d"/>
<rect x="719.96" y="298.56" width="5.17" height="5.17" fill="#000000"/>
<rect x="724.98" y="298.56" width="5.17" height="5.17" fill="#000000"/>
<rect x="730.00" y="298.56" width="5.17" height="5.17" fill="#939393"/>
<rect x="735.02" y="298.56" width="5.17" height="5.17" fill="#3b3b3b"/>
<rect x="740.05" y="298.56" width="5.17" height="5.17" fill="#000000"/>
<rect x="745.07" y="298.56" width="5.17" height="5.17" fill="#4c4c4c"/>
<rect x="750.09" y="298.56" width="5.17" height="5.17" fill="#969696"/>
<rect x="755.11" y="298.56" width="5.17" height="5.17" fill="#020202"/>
<rect x="760.13" y="298.56" width="5.17" height="5.17" fill="#000000"/>
<rect x="765.16" y="298.56" width="5.17" height="5.17" fill="#3b3b3b"/>
<rect x="770.18" y="298.56" width="5.17" height="5.17" fill="#2c2c2c"/>
<rect x="775.20" y="298.56" width="5.17" height="5.17" fill="#000000"/>
<rect x="780.22" y="298.56" width="5.17" height="5.17" fill="#c7c7c7"/>
<rect x="785.24" y="298.56" width="5.17" height="5.17" fill="#e9e9e9"/>
<rect x="790.27" y="298.56" width="5.17" height="5.17" fill="#181818"/>
<rect x="795.29" y="298.56" width="5.17" height="5.17" fill="#060606"/>
<rect x="800.31" y="298.56" width="5.17" height="5.17" fill="#343434"/>
<rect x="805.33" y="298.56" width="5.17" height="5.17" fill="#afafaf"/>
<rect x="709.91" y="303.58" width="5.17" height="5.17" fill="#a7a7a7"/>
<rect x="714.94" y="303.58" width="5.17" height="5.17" fill="#000000"/>
<rect x="719.96" y="303.58" width="5.17" height="5.17" fill="#000000"/>
<rect x="724.98" y="303.58" width="5.17" height="5.17" fill="#000000"/>
<rect x="730.00" y="303.58" width="5.17" height="5.17" fill="#2b2b2b"/>
<rect x="735.02" y="303.58" width="5.17" height="5.17" fill="#000000"/>
<rect x="740.05" y="303.58" width="5.17" height="5.17" fill="#121212"/>
<rect x="745.07" y="303.58" width="5.17" height="5.17" fill="#f5f5f5"/>
<rect x="755.11" y="303.58" width="5.17" height="5.17" fill="#8f8f8f"/>
<rect x="760.13" y="303.58" width="5.17" height="5.17" fill="#3d3d3d"/>
<rect x="765.16" y="303.58" width="5.17" height="5.17" fill="#e8e8e8"/>
<rect x="770.18" y="303.58" width="5.17" height="5.17" fill="#474747"/>
<rect x="775.20" y="303.58" width="5.17" height="5.17" fill="#000000"/>
<rect x="780.22" y="303.58" width="5.17" height="5.17" fill="#8c8c8c"/>
<rect x="785.24" y="303.58" width="5.17" height="5.17" fill="#4d4d4d"/>
<rect x="790.27" y="303.58" width="5.17" height="5.17" fill="#000000"/>
<rect x="795.29" y="303.58" width="5.17" height="5.17" fill="#010101"/>
<rect x="800.31" y="303.58" width="5.17" height="5.17" fill="#000000"/>
<rect x="805.33" y="303.58" width="5.17" height="5.17" fill="#000000"/>
<rect x="810.35" y="303.58" width="5.17" height="5.17" fill="#565656"/>
<rect x="709.91" y="308.60" width="5.17" height="5.17" fill="#777777"/>
<rect x="714.94" y="308.60" width="5.17" height="5.17" fill="#000000"/>
<rect x="719.96" y="308.60" width="5.17" height="5.17" fill="#2f2f2f"/>
<rect x="724.98" y="308.60" width="5.17" height="5.17" fill="#000000"/>
<rect x="730.00" y="308.60" width="5.17" height="5.17" fill="#000000"/>
<rect x="735.02" y="308.60" width="5.17" height="5.17" fill="#000000"/>
<rect x="740.05" y="308.60" width="5.17" height="5.17" fill="#787878"/>
<rect x="770.18" y="308.60" width="5.17" height="5.17" fill="#575757"/>
<rect x="775.20" y="308.60" width="5.17" height="5.17" fill="#000000"/>
<rect x="780.22" y="308.60" width="5.17" height="5.17" fill="#161616"/>
<rect x="785.24" y="308.60" width="5.17" height="5.17" fill="#000000"/>
<rect x="790.27" y="308.60" width="5.17" height="5.17" fill="#111111"/>
<rect x="795.29" y="308.60" width="5.17" height="5.17" fill="#d5d5d5"/>
<rect x="800.31" y="308.60" width="5.17" height="5.17" fill="#979797"/>
<rect x="805.33" y="308.60" width="5.17" height="5.17" fill="#000000"/>
<rect x="810.35" y="308.60" width="5.17" height="5.17" fill="#191919"/>
<rect x="704.89" y="313.62" width="5.17" height="5.17" fill="#f0f0f0"/>
<rect x="709.91" y="313.62" width="5.17" height="5.17" fill="#1a1a1a"/>
<rect x="714.94" y="313.62" width="5.17" height="5.17" fill="#000000"/>
<rect x="719.96" y="313.62" width="5.17" height="5.17" fill="#7d7d7d"/>
<rect x="724.98" y="313.62" width="5.17" height="5.17" fill="#000000"/>
<rect x="730.00" y="313.62" width="5.17" height="5.17" fill="#000000"/>
<rect x="735.02" y="313.62" width="5.17" height="5.17" fill="#000000"/>
<rect x="740.05" y="313.62" width="5.17" height="5.17" fill="#d5d5d5"/>
<rect x="770.18" y="313.62" width="5.17" height="5.17" fill="#9b9b9b"/>
<rect x="775.20" y="313.62" width="5.17" height="5.17" fill="#000000"/>
<rect x="780.22" y="313.62" width="5.17" height="5.17" fill="#000000"/>
<rect x="785.24" y="313.62" width="5.17" height="5.17" fill="#090909"/>
<rect x="790.27" y="313.62" width="5.17" height="5.17" fill="#b7b7b7"/>
<rect x="805.33" y="313.62" width="5.17" height="5.17" fill="#0d0d0d"/>
<rect x="810.35" y="313.62" width="5.17" height="5.17" fill="#010101"/>
<rect x="815.38" y="313.62" width="5.17" height="5.17" fill="#d6d6d6"/>
<rect x="825.42" y="313.62" width="5.17" height="5.17" fill="#f3f3f3"/>
<rect x="830.44" y="313.62" width="5.17" height="5.17" fill="#b5b5b5"/>
<rect x="704.89" y="318.64" width="5.17" height="5.17" fill="#969696"/>
<rect x="709.91" y="318.64" width="5.17" height="5.17" fill="#000000"/>
<rect x="714.94" y="318.64" width="5.17" height="5.17" fill="#393939"/>
<rect x="719.96" y="318.64" width="5.17" height="5.17" fill="#eeeeee"/>
<rect x="724.98" y="318.64" width="5.17" height="5.17" fill="#000000"/>
<rect x="730.00" y="318.64" width="5.17" height="5.17" fill="#000000"/>
<rect x="735.02" y="318.64" width="5.17" height="5.17" fill="#363636"/>
<rect x="770.18" y="318.64" width="5.17" height="5.17" fill="#eeeeee"/>
<rect x="775.20" y="318.64" width="5.17" height="5.17" fill="#717171"/>
<rect x="780.22" y="318.64" width="5.17" height="5.17" fill="#666666"/>
<rect x="785.24" y="318.64" width="5.17" height="5.17" fill="#bcbcbc"/>
<rect x="805.33" y="318.64" width="5.17" height="5.17" fill="#404040"/>
<rect x="810.35" y="318.64" width="5.17" height="5.17" fill="#000000"/>
<rect x="815.38" y="318.64" width="5.17" height="5.17" fill="#141414"/>
<rect x="820.40" y="318.64" width="5.17" height="5.17" fill="#f7f7f7"/>
<rect x="825.42" y="318.64" width="5.17" height="5.17" fill="#717171"/>
<rect x="830.44" y="318.64" width="5.17" height="5.17" fill="#000000"/>
<rect x="835.46" y="318.64" width="5.17" height="5.17" fill="#9a9a9a"/>
<rect x="694.85" y="323.67" width="5.17" height="5.17" fill="#d7d7d7"/>
<rect x="699.87" y="323.67" width="5.17" height="5.17" fill="#737373"/>
<rect x="704.89" y="323.67" width="5.17" height="5.17" fill="#454545"/>
<rect x="709.91" y="323.67" width="5.17" height="5.17" fill="#000000"/>
<rect x="714.94" y="323.67" width="5.17" height="5.17" fill="#a1a1a1"/>
<rect x="724.98" y="323.67" width="5.17" height="5.17" fill="#141414"/>
<rect x="730.00" y="323.67" width="5.17" height="5.17" fill="#000000"/>
<rect x="735.02" y="323.67" width="5.17" height="5.17" fill="#8c8c8c"/>
<rect x="805.33" y="323.67" width="5.17" height="5.17" fill="#e9e9e9"/>
<rect x="810.35" y="323.67" width="5.17" height="5.17" fill="#2d2d2d"/>
<rect x="815.38" y="323.67" width="5.17" height="5.17" fill="#000000"/>
<rect x="820.40" y="323.67" width="5.17" height="5.17" fill="#474747"/>
<rect x="825.42" y="323.67" width="5.17" height="5.17" fill="#474747"/>
<rect x="830.44" y="323.67" width="5.17" height="5.17" fill="#000000"/>
<rect x="835.46" y="323.67" width="5.17" height="5.17" fill="#858585"/>
<rect x="689.83" y="328.69" width="5.17" height="5.17" fill="#dadada"/>
<rect x="694.85" y="328.69" width="5.17" height="5.17" fill="#262626"/>
<rect x="699.87" y="328.69" width="5.17" height="5.17" fill="#000000"/>
<rect x="704.89" y="328.69" width="5.17" height="5.17" fill="#000000"/>
<rect x="709.91" y="328.69" width="5.17" height="5.17" fill="#030303"/>
<rect x="714.94" y="328.69" width="5.17" height="5.17" fill="#d7d7d7"/>
<rect x="724.98" y="328.69" width="5.17" height="5.17" fill="#555555"/>
<rect x="730.00" y="328.69" width="5.17" height="5.17" fill="#000000"/>
<rect x="735.02" y="328.69" width="5.17" height="5.17" fill="#b8b8b8"/>
<rect x="810.35" y="328.69" width="5.17" height="5.17" fill="#979797"/>
<rect x="815.38" y="328.69" width="5.17" height="5.17" fill="#000000"/>
<rect x="820.40" y="328.69" width="5.17" height="5.17" fill="#000000"/>
<rect x="825.42" y="328.69" width="5.17" height="5.17" fill="#040404"/>
<rect x="830.44" y="328.69" width="5.17" height="5.17" fill="#000000"/>
<rect x="835.46" y="328.69" width="5.17" height="5.17" fill="#636363"/>
<rect x="684.80" y="333.71" width="5.17" height="5.17" fill="#cfcfcf"/>
<rect x="689.83" y="333.71" width="5.17" height="5.17" fill="#040404"/>
<rect x="694.85" y="333.71" width="5.17" height="5.17" fill="#000000"/>
<rect x="699.87" y="333.71" width="5.17" height="5.17" fill="#292929"/>
<rect x="704.89" y="333.71" width="5.17" height="5.17" fill="#141414"/>
<rect x="709.91" y="333.71" width="5.17" height="5.17" fill="#606060"/>
<rect x="724.98" y="333.71" width="5.17" height="5.17" fill="#f1f1f1"/>
<rect x="730.00" y="333.71" width="5.17" height="5.17" fill="#c2c2c2"/>
<rect x="775.20" y="333.71" width="5.17" height="5.17" fill="#e0e0ff"/>
<rect x="780.22" y="333.71" width="5.17" height="5.17" fill="#bebeff"/>
<rect x="815.38" y="333.71" width="5.17" height="5.17" fill="#717171"/>
<rect x="820.40" y="333.71" width="5.17" height="5.17" fill="#000000"/>
<rect x="825.42" y="333.71" width="5.17" height="5.17" fill="#000000"/>
<rect x="830.44" y="333.71" width="5.17" height="5.17" fill="#000000"/>
<rect x="835.46" y="333.71" width="5.17" height="5.17" fill="#555555"/>
<rect x="684.80" y="338.73" width="5.17" height="5.17" fill="#6e6e6e"/>
<rect x="689.83" y="338.73" width="5.17" height="5.17" fill="#000000"/>
<rect x="694.85" y="338.73" width="5.17" height="5.17" fill="#3b3b3b"/>
<rect x="699.87" y="338.73" width="5.17" height="5.17" fill="#eaeaea"/>
<rect x="775.20" y="338.73" width="5.17" height="5.17" fill="#2f2fff"/>
<rect x="780.22" y="338.73" width="5.17" height="5.17" fill="#0000ff"/>
<rect x="785.24" y="338.73" width="5.17" height="5.17" fill="#1414ff"/>
<rect x="790.27" y="338.73" width="5.17" height="5.17" fill="#ccccff"/>
<rect x="815.38" y="338.73" width="5.17" height="5.17" fill="#adadad"/>
<rect x="820.40" y="338.73" width="5.17" height="5.17" fill="#000000"/>
<rect x="825.42" y="338.73" width="5.17" height="5.17" fill="#000000"/>
<rect x="830.44" y="338.73" width="5.17" height="5.17" fill="#000000"/>
<rect x="835.46" y="338.73" width="5.17" height="5.17" fill="#323232"/>
<rect x="679.78" y="343.75" width="5.17" height="5.17" fill="#e6e6e6"/>
<rect x="684.80" y="343.75" width="5.17" height="5.17" fill="#010101"/>
<rect x="689.83" y="343.75" width="5.17" height="5.17" fill="#000000"/>
<rect x="694.85" y="343.75" width="5.17" height="5.17" fill="#8c8c8c"/>
<rect x="770.18" y="343.75" width="5.17" height="5.17" fill="#e3e3ff"/>
<rect x="775.20" y="343.75" width="5.17" height="5.17" fill="#0303ff"/>
<rect x="780.22" y="343.75" width="5.17" height="5.17" fill="#0000ff"/>
<rect x="785.24" y="343.75" width="5.17" height="5.17" fill="#0000ff"/>
<rect x="790.27" y="343.75" width="5.17" height="5.17" fill="#5959ff"/>
<rect x="815.38" y="343.75" width="5.17" height="5.17" fill="#b5b5b5"/>
<rect x="820.40" y="343.75" width="5.17" height="5.17" fill="#000000"/>
<rect x="825.42" y="343.75" width="5.17" height="5.17" fill="#000000"/>
<rect x="830.44" y="343.75" width="5.17" height="5.17" fill="#000000"/>
<rect x="835.46" y="343.75" width="5.17" height="5.17" fill="#000000"/>
<rect x="840.49" y="343.75" width="5.17" height="5.17" fill="#b8b8b8"/>
<rect x="679.78" y="348.78" width="5.17" height="5.17" fill="#b4b4b4"/>
<rect x="684.80" y="348.78" width="5.17" height="5.17" fill="#000000"/>
<rect x="689.83" y="348.78" width="5.17" height="5.17" fill="#0a0a0a"/>
<rect x="694.85" y="348.78" width="5.17" height="5.17" fill="#c9c9c9"/>
<rect x="770.18" y="348.78" width="5.17" height="5.17" fill="#6e6eff"/>
<rect x="775.20" y="348.78" width="5.17" height="5.17" fill="#0000ff"/>
<rect x="780.22" y="348.78" width="5.17" height="5.17" fill="#0f0fff"/>
<rect x="785.24" y="348.78" width="5.17" height="5.17" fill="#0101ff"/>
<rect x="790.27" y="348.78" width="5.17" height="5.17" fill="#0606ff"/>
<rect x="795.29" y="348.78" width="5.17" height="5.17" fill="#4040ff"/>
<rect x="800.31" y="348.78" width="5.17" height="5.17" fill="#ddddff"/>
<rect x="815.38" y="348.78" width="5.17" height="5.17" fill="#f4f4f4"/>
<rect x="820.40" y="348.78" width="5.17" height="5.17" fill="#010101"/>
<rect x="825.42" y="348.78" width="5.17" height="5.17" fill="#000000"/>
<rect x="830.44" y="348.78" width="5.17" height="5.17" fill="#3b3b3b"/>
<rect x="835.46" y="348.78" width="5.17" height="5.17" fill="#000000"/>
<rect x="840.49" y="348.78" width="5.17" height="5.17" fill="#5a5a5a"/>
<rect x="659.69" y="353.80" width="5.17" height="5.17" fill="#b1b1b1"/>
<rect x="664.72" y="353.80" width="5.17" height="5.17" fill="#e0e0e0"/>
<rect x="669.74" y="353.80" width="5.17" height="5.17" fill="#707070"/>
<rect x="674.76" y="353.80" width="5.17" height="5.17" fill="#969696"/>
<rect x="679.78" y="353.80" width="5.17" height="5.17" fill="#4b4b4b"/>
<rect x="684.80" y="353.80" width="5.17" height="5.17" fill="#000000"/>
<rect x="689.83" y="353.80" width="5.17" height="5.17" fill="#656565"/>
<rect x="770.18" y="353.80" width="5.17" height="5.17" fill="#4242ff"/>
<rect x="775.20" y="353.80" width="5.17" height="5.17" fill="#0000ff"/>
<rect x="780.22" y="353.80" width="5.17" height="5.17" fill="#8484ff"/>
<rect x="785.24" y="353.80" width="5.17" height="5.17" fill="#4545ff"/>
<rect x="790.27" y="353.80" width="5.17" height="5.17" fill="#0000ff"/>
<rect x="795.29" y="353.80" width="5.17" height="5.17" fill="#0000ff"/>
<rect x="800.31" y="353.80" width="5.17" height="5.17" fill="#8888ff"/>
<rect x="820.40" y="353.80" width="5.17" height="5.17" fill="#545454"/>
<rect x="825.42" y="353.80" width="5.17" height="5.17" fill="#4a4a4a"/>
<rect x="830.44" y="353.80" width="5.17" height="5.17" fill="#d9d9d9"/>
<rect x="835.46" y="353.80" width="5.17" height="5.17" fill="#010101"/>
<rect x="840.49" y="353.80" width="5.17" height="5.17" fill="#080808"/>
<rect x="845.51" y="353.80" width="5.17" height="5.17" fill="#eeeeee"/>
<rect x="654.67" y="358.82" width="5.17" height="5.17" fill="#737373"/>
<rect x="659.69" y="358.82" width="5.17" height="5.17" fill="#000000"/>
<rect x="664.72" y="358.82" width="5.17" height="5.17" fill="#000000"/>
<rect x="669.74" y="358.82" width="5.17" height="5.17" fill="#000000"/>
<rect x="674.76" y="358.82" width="5.17" height="5.17" fill="#000000"/>
<rect x="679.78" y="358.82" width="5.17" height="5.17" fill="#000000"/>
<rect x="684.80" y="358.82" width="5.17" height="5.17" fill="#121212"/>
<rect x="689.83" y="358.82" width="5.17" height="5.17" fill="#dcdcdc"/>
<rect x="730.00" y="358.82" width="5.17" height="5.17" fill="#ededff"/>
<rect x="735.02" y="358.82" width="5.17" height="5.17" fill="#4e4eff"/>
<rect x="740.05" y="358.82" width="5.17" height="5.17" fill="#3d3dff"/>
<rect x="745.07" y="358.82" width="5.17" height="5.17" fill="#3737ff"/>
<rect x="750.09" y="358.82" width="5.17" height="5.17" fill="#3d3dff"/>
<rect x="755.11" y="358.82" width="5.17" height="5.17" fill="#f6f6ff"/>
<rect x="760.13" y="358.82" width="5.17" height="5.17" fill="#a0a0ff"/>
<rect x="765.16" y="358.82" width="5.17" height="5.17" fill="#a0a0ff"/>
<rect x="770.18" y="358.82" width="5.17" height="5.17" fill="#1616ff"/>
<rect x="775.20" y="358.82" width="5.17" height="5.17" fill="#0000ff"/>
<rect x="780.22" y="358.82" width="5.17" height="5.17" fill="#d8d8ff"/>
<rect x="790.27" y="358.82" width="5.17" height="5.17" fill="#7c7cff"/>
<rect x="795.29" y="358.82" width="5.17" height="5.17" fill="#0000ff"/>
<rect x="800.31" y="358.82" width="5.17" height="5.17" fill="#5e5eff"/>
<rect x="835.46" y="358.82" width="5.17" height="5.17" fill="#424242"/>
<rect x="840.49" y="358.82" width="5.17" height="5.17" fill="#000000"/>
<rect x="845.51" y="358.82" width="5.17" height="5.17" fill="#7d7d7d"/>
<rect x="649.65" y="363.84" width="5.17" height="5.17" fill="#d6d6d6"/>
<rect x="654.67" y="363.84" width="5.17" height="5.17" fill="#040404"/>
<rect x="659.69" y="363.84" width="5.17" height="5.17" fill="#020202"/>
<rect x="664.72" y="363.84" width="5.17" height="5.17" fill="#000000"/>
<rect x="669.74" y="363.84" width="5.17" height="5.17" fill="#3f3f3f"/>
<rect x="674.76" y="363.84" width="5.17" height="5.17" fill="#565656"/>
<rect x="679.78" y="363.84" width="5.17" height="5.17" fill="#181818"/>
<rect x="684.80" y="363.84" width="5.17" height="5.17" fill="#b5b5b5"/>
<rect x="724.98" y="363.84" width="5.17" height="5.17" fill="#9f9fff"/>
<rect x="730.00" y="363.84" width="5.17" height="5.17" fill="#1919ff"/>
<rect x="735.02" y="363.84" width="5.17" height="5.17" fill="#0000ff"/>
<rect x="740.05" y="363.84" width="5.17" height="5.17" fill="#0000ff"/>
<rect x="745.07" y="363.84" width="5.17" height="5.17" fill="#0000ff"/>
<rect x="750.09" y="363.84" width="5.17" height="5.17" fill="#0000ff"/>
<rect x="755.11" y="363.84" width="5.17" height="5.17" fill="#2a2aff"/>
<rect x="760.13" y="363.84" width="5.17" height="5.17" fill="#0000ff"/>
<rect x="765.16" y="363.84" width="5.17" height="5.17" fill="#0000ff"/>
<rect x="770.18" y="363.84" width="5.17" height="5.17" fill="#0000ff"/>
<rect x="775.20" y="363.84" width="5.17" height="5.17" fill="#0909ff"/>
<rect x="790.27" y="363.84" width="5.17" height="5.17" fill="#bbbbff"/>
<rect x="795.29" y="363.84" width="5.17" height="5.17" fill="#0000ff"/>
<rect x="800.31" y="363.84" width="5.17" height="5.17" fill="#1717ff"/>
<rect x="805.33" y="363.84" width="5.17" height="5.17" fill="#ebebff"/>
<rect x="835.46" y="363.84" width="5.17" height="5.17" fill="#c1c1c1"/>
<rect x="840.49" y="363.84" width="5.17" height="5.17" fill="#000000"/>
<rect x="845.51" y="363.84" width="5.17" height="5.17" fill="#000000"/>
<rect x="850.53" y="363.84" width="5.17" height="5.17" fill="#787878"/>
<rect x="649.65" y="368.86" width="5.17" height="5.17" fill="#8d8d8d"/>
<rect x="654.67" y="368.86" width="5.17" height="5.17" fill="#000000"/>
<rect x="659.69" y="368.86" width="5.17" height="5.17" fill="#5e5e5e"/>
<rect x="664.72" y="368.86" width="5.17" height="5.17" fill="#e6e6e6"/>
<rect x="719.96" y="368.86" width="5.17" height="5.17" fill="#a0a0ff"/>
<rect x="724.98" y="368.86" width="5.17" height="5.17" fill="#0000ff"/>
<rect x="730.00" y="368.86" width="5.17" height="5.17" fill="#0101ff"/>
<rect x="735.02" y="368.86" width="5.17" height="5.17" fill="#4d4dff"/>
<rect x="740.05" y="368.86" width="5.17" height="5.17" fill="#a3a3ff"/>
<rect x="745.07" y="368.86" width="5.17" height="5.17" fill="#4949ff"/>
<rect x="750.09" y="368.86" width="5.17" height="5.17" fill="#0000ff"/>
<rect x="755.11" y="368.86" width="5.17" height="5.17" fill="#0000ff"/>
<rect x="760.13" y="368.86" width="5.17" height="5.17" fill="#1717ff"/>
<rect x="765.16" y="368.86" width="5.17" height="5.17" fill="#0101ff"/>
<rect x="770.18" y="368.86" width="5.17" height="5.17" fill="#0000ff"/>
<rect x="775.20" y="368.86" width="5.17" height="5.17" fill="#3c3cff"/>
<rect x="790.27" y="368.86" width="5.17" height="5.17" fill="#f6f6ff"/>
<rect x="795.29" y="368.86" width="5.17" height="5.17" fill="#3e3eff"/>
<rect x="800.31" y="368.86" width="5.17" height="5.17" fill="#0000ff"/>
<rect x="805.33" y="368.86" width="5.17" height="5.17" fill="#5a5aff"/>
<rect x="840.49" y="368.86" width="5.17" height="5.17" fill="#979797"/>
<rect x="845.51" y="368.86" width="5.17" height="5.17" fill="#050505"/>
<rect x="850.53" y="368.86" width="5.17" height="5.17" fill="#050505"/>
<rect x="855.55" y="368.86" width="5.17" height="5.17" fill="#f6f6f6"/>
<rect x="649.65" y="373.89" width="5.17" height="5.17" fill="#525252"/>
<rect x="654.67" y="373.89" width="5.17" height="5.17" fill="#000000"/>
<rect x="659.69" y="373.89" width="5.17" height="5.17" fill="#8f8f8f"/>
<rect x="719.96" y="373.89" width="5.17" height="5.17" fill="#5959ff"/>
<rect x="724.98" y="373.89" width="5.17" height="5.17" fill="#0000ff"/>
<rect x="730.00" y="373.89" width="5.17" height="5.17" fill="#8f8fff"/>
<rect x="745.07" y="373.89" width="5.17" height="5.17" fill="#a1a1ff"/>
<rect x="750.09" y="373.89" width="5.17" height="5.17" fill="#0000ff"/>
<rect x="755.11" y="373.89" width="5.17" height="5.17" fill="#2f2fff"/>
<rect x="760.13" y="373.89" width="5.17" height="5.17" fill="#e9e9ff"/>
<rect x="765.16" y="373.89" width="5.17" height="5.17" fill="#3232ff"/>
<rect x="770.18" y="373.89" width="5.17" height="5.17" fill="#0000ff"/>
<rect x="775.20" y="373.89" width="5.17" height="5.17" fill="#8b8bff"/>
<rect x="795.29" y="373.89" width="5.17" height="5.17" fill="#dedeff"/>
<rect x="800.31" y="373.89" width="5.17" height="5.17" fill="#0606ff"/>
<rect x="805.33" y="373.89" width="5.17" height="5.17" fill="#0000ff"/>
<rect x="810.35" y="373.89" width="5.17" height="5.17" fill="#3f3fff"/>
<rect x="815.38" y="373.89" width="5.17" height="5.17" fill="#e9e9ff"/>
<rect x="845.51" y="373.89" width="5.17" height="5.17" fill="#3e3e3e"/>
<rect x="850.53" y="373.89" width="5.17" height="5.17" fill="#000000"/>
<rect x="855.55" y="373.89" width="5.17" height="5.17" fill="#bfbfbf"/>
<rect x="644.63" y="378.91" width="5.17" height="5.17" fill="#f2f2f2"/>
<rect x="649.65" y="378.91" width="5.17" height="5.17" fill="#030303"/>
<rect x="654.67" y="378.91" width="5.17" height="5.17" fill="#030303"/>
<rect x="659.69" y="378.91" width="5.17" height="5.17" fill="#d3d3d3"/>
<rect x="714.94" y="378.91" width="5.17" height="5.17" fill="#b8b8ff"/>
<rect x="719.96" y="378.91" width="5.17" height="5.17" fill="#0c0cff"/>
<rect x="724.98" y="378.91" width="5.17" height="5.17" fill="#0000ff"/>
<rect x="730.00" y="378.91" width="5.17" height="5.17" fill="#dfdfff"/>
<rect x="750.09" y="378.91" width="5.17" height="5.17" fill="#9999ff"/>
<rect x="755.11" y="378.91" width="5.17" height="5.17" fill="#e6e6ff"/>
<rect x="765.16" y="378.91" width="5.17" height="5.17" fill="#8a8aff"/>
<rect x="770.18" y="378.91" width="5.17" height="5.17" fill="#0606ff"/>
<rect x="775.20" y="378.91" width="5.17" height="5.17" fill="#c4c4ff"/>
<rect x="800.31" y="378.91" width="5.17" height="5.17" fill="#cbcbff"/>
<rect x="805.33" y="378.91" width="5.17" height="5.17" fill="#1f1fff"/>
<rect x="810.35" y="378.91" width="5.17" height="5.17" fill="#0000ff"/>
<rect x="815.38" y="378.91" width="5.17" height="5.17" fill="#2323ff"/>
<rect x="845.51" y="378.91" width="5.17" height="5.17" fill="#737373"/>
<rect x="850.53" y="378.91" width="5.17" height="5.17" fill="#000000"/>
<rect x="855.55" y="378.91" width="5.17" height="5.17" fill="#7a7a7a"/>
<rect x="644.63" y="383.93" width="5.17" height="5.17" fill="#bdbdbd"/>
<rect x="649.65" y="383.93" width="5.17" height="5.17" fill="#000000"/>
<rect x="654.67" y="383.93" width="5.17" height="5.17" fill="#292929"/>
<rect x="704.89" y="383.93" width="5.17" height="5.17" fill="#d4d4ff"/>
<rect x="709.91" y="383.93" width="5.17" height="5.17" fill="#5e5eff"/>
<rect x="714.94" y="383.93" width="5.17" height="5.17" fill="#0808ff"/>
<rect x="719.96" y="383.93" width="5.17" height="5.17" fill="#0000ff"/>
<rect x="724.98" y="383.93" width="5.17" height="5.17" fill="#4545ff"/>
<rect x="805.33" y="383.93" width="5.17" height="5.17" fill="#ebebff"/>
<rect x="810.35" y="383.93" width="5.17" height="5.17" fill="#2626ff"/>
<rect x="815.38" y="383.93" width="5.17" height="5.17" fill="#0000ff"/>
<rect x="820.40" y="383.93" width="5.17" height="5.17" fill="#b2b2ff"/>
<rect x="845.51" y="383.93" width="5.17" height="5.17" fill="#c1c1c1"/>
<rect x="850.53" y="383.93" width="5.17" height="5.17" fill="#000000"/>
<rect x="855.55" y="383.93" width="5.17" height="5.17" fill="#303030"/>
<rect x="644.63" y="388.95" width="5.17" height="5.17" fill="#868686"/>
<rect x="649.65" y="388.95" width="5.17" height="5.17" fill="#000000"/>
<rect x="654.67" y="388.95" width="5.17" height="5.17" fill="#626262"/>
<rect x="699.87" y="388.95" width="5.17" height="5.17" fill="#bbbbff"/>
<rect x="704.89" y="388.95" width="5.17" height="5.17" fill="#0e0eff"/>
<rect x="709.91" y="388.95" width="5.17" height="5.17" fill="#0000ff"/>
<rect x="714.94" y="388.95" width="5.17" height="5.17" fill="#0000ff"/>
<rect x="719.96" y="388.95" width="5.17" height="5.17" fill="#7575ff"/>
<rect x="810.35" y="388.95" width="5.17" height="5.17" fill="#9191ff"/>
<rect x="815.38" y="388.95" width="5.17" height="5.17" fill="#0000ff"/>
<rect x="820.40" y="388.95" width="5.17" height="5.17" fill="#3b3bff"/>
<rect x="845.51" y="388.95" width="5.17" height="5.17" fill="#f4f4f4"/>
<rect x="850.53" y="388.95" width="5.17" height="5.17" fill="#111111"/>
<rect x="855.55" y="388.95" width="5.17" height="5.17" fill="#000000"/>
<rect x="860.57" y="388.95" width="5.17" height="5.17" fill="#cccccc"/>
<rect x="865.60" y="388.95" width="5.17" height="5.17" fill="#f7f7f7"/>
<rect x="870.62" y="388.95" width="5.17" height="5.17" fill="#c0c0c0"/>
<rect x="634.58" y="393.97" width="5.17" height="5.17" fill="#e0e0e0"/>
<rect x="639.61" y="393.97" width="5.17" height="5.17" fill="#454545"/>
<rect x="644.63" y="393.97" width="5.17" height="5.17" fill="#1b1b1b"/>
<rect x="649.65" y="393.97" width="5.17" height="5.17" fill="#000000"/>
<rect x="654.67" y="393.97" width="5.17" height="5.17" fill="#a8a8a8"/>
<rect x="699.87" y="393.97" width="5.17" height="5.17" fill="#2121ff"/>
<rect x="704.89" y="393.97" width="5.17" height="5.17" fill="#0000ff"/>
<rect x="709.91" y="393.97" width="5.17" height="5.17" fill="#5c5cff"/>
<rect x="714.94" y="393.97" width="5.17" height="5.17" fill="#dedeff"/>
<rect x="810.35" y="393.97" width="5.17" height="5.17" fill="#eeeeff"/>
<rect x="815.38" y="393.97" width="5.17" height="5.17" fill="#1818ff"/>
<rect x="820.40" y="393.97" width="5.17" height="5.17" fill="#0000ff"/>
<rect x="825.42" y="393.97" width="5.17" height="5.17" fill="#bbbbff"/>
<rect x="850.53" y="393.97" width="5.17" height="5.17" fill="#636363"/>
<rect x="855.55" y="393.97" width="5.17" height="5.17" fill="#000000"/>
<rect x="860.57" y="393.97" width="5.17" height="5.17" fill="#818181"/>
<rect x="865.60" y="393.97" width="5.17" height="5.17" fill="#525252"/>
<rect x="870.62" y="393.97" width="5.17" height="5.17" fill="#000000"/>
<rect x="875.64" y="393.97" width="5.17" height="5.17" fill="#9f9f9f"/>
<rect x="629.56" y="399.00" width="5.17" height="5.17" fill="#d7d7d7"/>
<rect x="634.58" y="399.00" width="5.17" height="5.17" fill="#1c1c1c"/>
<rect x="639.61" y="399.00" width="5.17" height="5.17" fill="#000000"/>
<rect x="644.63" y="399.00" width="5.17" height="5.17" fill="#000000"/>
<rect x="649.65" y="399.00" width="5.17" height="5.17" fill="#040404"/>
<rect x="654.67" y="399.00" width="5.17" height="5.17" fill="#f4f4f4"/>
<rect x="694.85" y="399.00" width="5.17" height="5.17" fill="#8d8dff"/>
<rect x="699.87" y="399.00" width="5.17" height="5.17" fill="#0000ff"/>
<rect x="704.89" y="399.00" width="5.17" height="5.17" fill="#3939ff"/>
<rect x="815.38" y="399.00" width="5.17" height="5.17" fill="#7e7eff"/>
<rect x="820.40" y="399.00" width="5.17" height="5.17" fill="#0000ff"/>
<rect x="825.42" y="399.00" width="5.17" height="5.17" fill="#7777ff"/>
<rect x="850.53" y="399.00" width="5.17" height="5.17" fill="#9b9b9b"/>
<rect x="855.55" y="399.00" width="5.17" height="5.17" fill="#000000"/>
<rect x="860.57" y="399.00" width="5.17" height="5.17" fill="#0b0b0b"/>
<rect x="865.60" y="399.00" width="5.17" height="5.17" fill="#000000"/>
<rect x="870.62" y="399.00" width="5.17" height="5.17" fill="#000000"/>
<rect x="875.64" y="399.00" width="5.17" height="5.17" fill="#393939"/>
<rect x="629.56" y="404.02" width="5.17" height="5.17" fill="#5c5c5c"/>
<rect x="634.58" y="404.02" width="5.17" height="5.17" fill="#000000"/>
<rect x="639.61" y="404.02" width="5.17" height="5.17" fill="#424242"/>
<rect x="644.63" y="404.02" width="5.17" height="5.17" fill="#8f8f8f"/>
<rect x="649.65" y="404.02" width="5.17" height="5.17" fill="#a9a9a9"/>
<rect x="689.83" y="404.02" width="5.17" height="5.17" fill="#e9e9ff"/>
<rect x="694.85" y="404.02" width="5.17" height="5.17" fill="#0404ff"/>
<rect x="699.87" y="404.02" width="5.17" height="5.17" fill="#0202ff"/>
<rect x="704.89" y="404.02" width="5.17" height="5.17" fill="#b8b8ff"/>
<rect x="815.38" y="404.02" width="5.17" height="5.17" fill="#bbbbff"/>
<rect x="820.40" y="404.02" width="5.17" height="5.17" fill="#0000ff"/>
<rect x="825.42" y="404.02" width="5.17" height="5.17" fill="#1111ff"/>
<rect x="830.44" y="404.02" width="5.17" height="5.17" fill="#4949ff"/>
<rect x="835.46" y="404.02" width="5.17" height="5.17" fill="#d3d3ff"/>
<rect x="850.53" y="404.02" width="5.17" height="5.17" fill="#e6e6e6"/>
<rect x="855.55" y="404.02" width="5.17" height="5.17" fill="#040404"/>
<rect x="860.57" y="404.02" width="5.17" height="5.17" fill="#000000"/>
<rect x="865.60" y="404.02" width="5.17" height="5.17" fill="#060606"/>
<rect x="870.62" y="404.02" width="5.17" height="5.17" fill="#0d0d0d"/>
<rect x="875.64" y="404.02" width="5.17" height="5.17" fill="#000000"/>
<rect x="880.66" y="404.02" width="5.17" height="5.17" fill="#8c8c8c"/>
<rect x="629.56" y="409.04" width="5.17" height="5.17" fill="#111111"/>
<rect x="634.58" y="409.04" width="5.17" height="5.17" fill="#000000"/>
<rect x="639.61" y="409.04" width="5.17" height="5.17" fill="#dfdfdf"/>
<rect x="689.83" y="409.04" width="5.17" height="5.17" fill="#8383ff"/>
<rect x="694.85" y="409.04" width="5.17" height="5.17" fill="#0000ff"/>
<rect x="699.87" y="409.04" width="5.17" height="5.17" fill="#5454ff"/>
<rect x="820.40" y="409.04" width="5.17" height="5.17" fill="#3333ff"/>
<rect x="825.42" y="409.04" width="5.17" height="5.17" fill="#0000ff"/>
<rect x="830.44" y="409.04" width="5.17" height="5.17" fill="#0000ff"/>
<rect x="835.46" y="409.04" width="5.17" height="5.17" fill="#5e5eff"/>
<rect x="855.55" y="409.04" width="5.17" height="5.17" fill="#696969"/>
<rect x="860.57" y="409.04" width="5.17" height="5.17" fill="#000000"/>
<rect x="865.60" y="409.04" width="5.17" height="5.17" fill="#868686"/>
<rect x="870.62" y="409.04" width="5.17" height="5.17" fill="#999999"/>
<rect x="875.64" y="409.04" width="5.17" height="5.17" fill="#000000"/>
<rect x="880.66" y="409.04" width="5.17" height="5.17" fill="#555555"/>
<rect x="624.54" y="414.06" width="5.17" height="5.17" fill="#cdcdcd"/>
<rect x="629.56" y="414.06" width="5.17" height="5.17" fill="#000000"/>
<rect x="634.58" y="414.06" width="5.17" height="5.17" fill="#212121"/>
<rect x="684.80" y="414.06" width="5.17" height="5.17" fill="#9696ff"/>
<rect x="689.83" y="414.06" width="5.17" height="5.17" fill="#0202ff"/>
<rect x="694.85" y="414.06" width="5.17" height="5.17" fill="#0202ff"/>
<rect x="699.87" y="414.06" width="5.17" height="5.17" fill="#b1b1ff"/>
<rect x="820.40" y="414.06" width="5.17" height="5.17" fill="#ededff"/>
<rect x="825.42" y="414.06" width="5.17" height="5.17" fill="#aaaaff"/>
<rect x="830.44" y="414.06" width="5.17" height="5.17" fill="#0000ff"/>
<rect x="835.46" y="414.06" width="5.17" height="5.17" fill="#0b0bff"/>
<rect x="840.49" y="414.06" width="5.17" height="5.17" fill="#aeaeff"/>
<rect x="855.55" y="414.06" width="5.17" height="5.17" fill="#f7f7f7"/>
<rect x="860.57" y="414.06" width="5.17" height="5.17" fill="#bebebe"/>
<rect x="870.62" y="414.06" width="5.17" height="5.17" fill="#c1c1c1"/>
<rect x="875.64" y="414.06" width="5.17" height="5.17" fill="#000000"/>
<rect x="880.66" y="414.06" width="5.17" height="5.17" fill="#2b2b2b"/>
<rect x="624.54" y="419.08" width="5.17" height="5.17" fill="#8a8a8a"/>
<rect x="629.56" y="419.08" width="5.17" height="5.17" fill="#000000"/>
<rect x="634.58" y="419.08" width="5.17" height="5.17" fill="#4a4a4a"/>
<rect x="679.78" y="419.08" width="5.17" height="5.17" fill="#9c9cff"/>
<rect x="684.80" y="419.08" width="5.17" height="5.17" fill="#0202ff"/>
<rect x="689.83" y="419.08" width="5.17" height="5.17" fill="#0202ff"/>
<rect x="694.85" y="419.08" width="5.17" height="5.17" fill="#9d9dff"/>
<rect x="830.44" y="419.08" width="5.17" height="5.17" fill="#5656ff"/>
<rect x="835.46" y="419.08" width="5.17" height="5.17" fill="#0000ff"/>
<rect x="840.49" y="419.08" width="5.17" height="5.17" fill="#0000ff"/>
<rect x="845.51" y="419.08" width="5.17" height="5.17" fill="#4242ff"/>
<rect x="850.53" y="419.08" width="5.17" height="5.17" fill="#e9e9ff"/>
<rect x="870.62" y="419.08" width="5.17" height="5.17" fill="#f3f3f3"/>
<rect x="875.64" y="419.08" width="5.17" height="5.17" fill="#1b1b1b"/>
<rect x="880.66" y="419.08" width="5.17" height="5.17" fill="#000000"/>
<rect x="885.68" y="419.08" width="5.17" height="5.17" fill="#a5a5a5"/>
<rect x="624.54" y="424.11" width="5.17" height="5.17" fill="#727272"/>
<rect x="629.56" y="424.11" width="5.17" height="5.17" fill="#000000"/>
<rect x="634.58" y="424.11" width="5.17" height="5.17" fill="#888888"/>
<rect x="669.74" y="424.11" width="5.17" height="5.17" fill="#f2f2ff"/>
<rect x="674.76" y="424.11" width="5.17" height="5.17" fill="#9393ff"/>
<rect x="679.78" y="424.11" width="5.17" height="5.17" fill="#0101ff"/>
<rect x="684.80" y="424.11" width="5.17" height="5.17" fill="#0404ff"/>
<rect x="689.83" y="424.11" width="5.17" height="5.17" fill="#a2a2ff"/>
<rect x="835.46" y="424.11" width="5.17" height="5.17" fill="#a0a0ff"/>
<rect x="840.49" y="424.11" width="5.17" height="5.17" fill="#1e1eff"/>
<rect x="845.51" y="424.11" width="5.17" height="5.17" fill="#0000ff"/>
<rect x="850.53" y="424.11" width="5.17" height="5.17" fill="#2828ff"/>
<rect x="875.64" y="424.11" width="5.17" height="5.17" fill="#949494"/>
<rect x="880.66" y="424.11" width="5.17" height="5.17" fill="#000000"/>
<rect x="885.68" y="424.11" width="5.17" height="5.17" fill="#000000"/>
<rect x="890.71" y="424.11" width="5.17" height="5.17" fill="#6d6d6d"/>
<rect x="624.54" y="429.13" width="5.17" height="5.17" fill="#404040"/>
<rect x="629.56" y="429.13" width="5.17" height="5.17" fill="#000000"/>
<rect x="634.58" y="429.13" width="5.17" height="5.17" fill="#a1a1a1"/>
<rect x="664.72" y="429.13" width="5.17" height="5.17" fill="#7575ff"/>
<rect x="669.74" y="429.13" width="5.17" height="5.17" fill="#0000ff"/>
<rect x="674.76" y="429.13" width="5.17" height="5.17" fill="#0000ff"/>
<rect x="679.78" y="429.13" width="5.17" height="5.17" fill="#0404ff"/>
<rect x="684.80" y="429.13" width="5.17" height="5.17" fill="#a8a8ff"/>
<rect x="770.18" y="429.13" width="5.17" height="5.17" fill="#ffb9b9"/>
<rect x="775.20" y="429.13" width="5.17" height="5.17" fill="#ffbfbf"/>
<rect x="840.49" y="429.13" width="5.17" height="5.17" fill="#f0f0ff"/>
<rect x="845.51" y="429.13" width="5.17" height="5.17" fill="#2727ff"/>
<rect x="850.53" y="429.13" width="5.17" height="5.17" fill="#0000ff"/>
<rect x="855.55" y="429.13" width="5.17" height="5.17" fill="#4040ff"/>
<rect x="860.57" y="429.13" width="5.17" height="5.17" fill="#cfcfff"/>
<rect x="880.66" y="429.13" width="5.17" height="5.17" fill="#979797"/>
<rect x="885.68" y="429.13" width="5.17" height="5.17" fill="#080808"/>
<rect x="890.71" y="429.13" width="5.17" height="5.17" fill="#010101"/>
<rect x="895.73" y="429.13" width="5.17" height="5.17" fill="#111111"/>
<rect x="900.75" y="429.13" width="5.17" height="5.17" fill="#858585"/>
<rect x="619.52" y="434.15" width="5.17" height="5.17" fill="#e0e0e0"/>
<rect x="624.54" y="434.15" width="5.17" height="5.17" fill="#000000"/>
<rect x="629.56" y="434.15" width="5.17" height="5.17" fill="#0a0a0a"/>
<rect x="634.58" y="434.15" width="5.17" height="5.17" fill="#e3e3e3"/>
<rect x="659.69" y="434.15" width="5.17" height="5.17" fill="#c7c7ff"/>
<rect x="664.72" y="434.15" width="5.17" height="5.17" fill="#0303ff"/>
<rect x="669.74" y="434.15" width="5.17" height="5.17" fill="#0303ff"/>
<rect x="674.76" y="434.15" width="5.17" height="5.17" fill="#1818ff"/>
<rect x="679.78" y="434.15" width="5.17" height="5.17" fill="#aaaaff"/>
<rect x="765.16" y="434.15" width="5.17" height="5.17" fill="#fff7f7"/>
<rect x="770.18" y="434.15" width="5.17" height="5.17" fill="#ff0404"/>
<rect x="775.20" y="434.15" width="5.17" height="5.17" fill="#ff0808"/>
<rect x="845.51" y="434.15" width="5.17" height="5.17" fill="#a5a5ff"/>
<rect x="850.53" y="434.15" width="5.17" height="5.17" fill="#0000ff"/>
<rect x="855.55" y="434.15" width="5.17" height="5.17" fill="#0000ff"/>
<rect x="860.57" y="434.15" width="5.17" height="5.17" fill="#5454ff"/>
<rect x="885.68" y="434.15" width="5.17" height="5.17" fill="#848484"/>
<rect x="890.71" y="434.15" width="5.17" height="5.17" fill="#000000"/>
<rect x="895.73" y="434.15" width="5.17" height="5.17" fill="#000000"/>
<rect x="900.75" y="434.15" width="5.17" height="5.17" fill="#0b0b0b"/>
<rect x="905.77" y="434.15" width="5.17" height="5.17" fill="#ededed"/>
<rect x="619.52" y="439.17" width="5.17" height="5.17" fill="#acacac"/>
<rect x="624.54" y="439.17" width="5.17" height="5.17" fill="#000000"/>
<rect x="629.56" y="439.17" width="5.17" height="5.17" fill="#4a4a4a"/>
<rect x="654.67" y="439.17" width="5.17" height="5.17" fill="#ccccff"/>
<rect x="659.69" y="439.17" width="5.17" height="5.17" fill="#1717ff"/>
<rect x="664.72" y="439.17" width="5.17" height="5.17" fill="#0000ff"/>
<rect x="669.74" y="439.17" width="5.17" height="5.17" fill="#7b7bff"/>
<rect x="730.00" y="439.17" width="5.17" height="5.17" fill="#ffe7e7"/>
<rect x="735.02" y="439.17" width="5.17" height="5.17" fill="#ff9a9a"/>
<rect x="765.16" y="439.17" width="5.17" height="5.17" fill="#ffe0e0"/>
<rect x="770.18" y="439.17" width="5.17" height="5.17" fill="#ff0000"/>
<rect x="775.20" y="439.17" width="5.17" height="5.17" fill="#ff0000"/>
<rect x="780.22" y="439.17" width="5.17" height="5.17" fill="#ffd0d0"/>
<rect x="850.53" y="439.17" width="5.17" height="5.17" fill="#a6a6ff"/>
<rect x="855.55" y="439.17" width="5.17" height="5.17" fill="#0303ff"/>
<rect x="860.57" y="439.17" width="5.17" height="5.17" fill="#0808ff"/>
<rect x="865.60" y="439.17" width="5.17" height="5.17" fill="#f4f4ff"/>
<rect x="890.71" y="439.17" width="5.17" height="5.17" fill="#c0c0c0"/>
<rect x="895.73" y="439.17" width="5.17" height="5.17" fill="#444444"/>
<rect x="900.75" y="439.17" width="5.17" height="5.17" fill="#000000"/>
<rect x="905.77" y="439.17" width="5.17" height="5.17" fill="#b8b8b8"/>
<rect x="619.52" y="444.19" width="5.17" height="5.17" fill="#7e7e7e"/>
<rect x="624.54" y="444.19" width="5.17" height="5.17" fill="#000000"/>
<rect x="629.56" y="444.19" width="5.17" height="5.17" fill="#7e7e7e"/>
<rect x="649.65" y="444.19" width="5.17" height="5.17" fill="#8c8cff"/>
<rect x="654.67" y="444.19" width="5.17" height="5.17" fill="#0404ff"/>
<rect x="659.69" y="444.19" width="5.17" height="5.17" fill="#0000ff"/>
<rect x="664.72" y="444.19" width="5.17" height="5.17" fill="#5454ff"/>
<rect x="730.00" y="444.19" width="5.17" height="5.17" fill="#ff6a6a"/>
<rect x="735.02" y="444.19" width="5.17" height="5.17" fill="#ff0000"/>
<rect x="740.05" y="444.19" width="5.17" height="5.17" fill="#ff7777"/>
<rect x="765.16" y="444.19" width="5.17" height="5.17" fill="#ff9d9d"/>
<rect x="770.18" y="444.19" width="5.17" height="5.17" fill="#ff0000"/>
<rect x="775.20" y="444.19" width="5.17" height="5.17" fill="#ff0000"/>
<rect x="780.22" y="444.19" width="5.17" height="5.17" fill="#ff9d9d"/>
<rect x="855.55" y="444.19" width="5.17" height="5.17" fill="#4848ff"/>
<rect x="860.57" y="444.19" width="5.17" height="5.17" fill="#0000ff"/>
<rect x="865.60" y="444.19" width="5.17" height="5.17" fill="#9f9fff"/>
<rect x="895.73" y="444.19" width="5.17" height="5.17" fill="#898989"/>
<rect x="900.75" y="444.19" width="5.17" height="5.17" fill="#000000"/>
<rect x="905.77" y="444.19" width="5.17" height="5.17" fill="#656565"/>
<rect x="619.52" y="449.22" width="5.17" height="5.17" fill="#575757"/>
<rect x="624.54" y="449.22" width="5.17" height="5.17" fill="#000000"/>
<rect x="629.56" y="449.22" width="5.17" height="5.17" fill="#a9a9a9"/>
<rect x="649.65" y="449.22" width="5.17" height="5.17" fill="#2525ff"/>
<rect x="654.67" y="449.22" width="5.17" height="5.17" fill="#0000ff"/>
<rect x="659.69" y="449.22" width="5.17" height="5.17" fill="#7777ff"/>
<rect x="730.00" y="449.22" width="5.17" height="5.17" fill="#ff5151"/>
<rect x="735.02" y="449.22" width="5.17" height="5.17" fill="#ff0000"/>
<rect x="740.05" y="449.22" width="5.17" height="5.17" fill="#ff1010"/>
<rect x="765.16" y="449.22" width="5.17" height="5.17" fill="#ff7171"/>
<rect x="770.18" y="449.22" width="5.17" height="5.17" fill="#ff0000"/>
<rect x="775.20" y="449.22" width="5.17" height="5.17" fill="#ff0000"/>
<rect x="780.22" y="449.22" width="5.17" height="5.17" fill="#ff3737"/>
<rect x="855.55" y="449.22" width="5.17" height="5.17" fill="#a3a3ff"/>
<rect x="860.57" y="449.22" width="5.17" height="5.17" fill="#0000ff"/>
<rect x="865.60" y="449.22" width="5.17" height="5.17" fill="#2a2aff"/>
<rect x="870.62" y="449.22" width="5.17" height="5.17" fill="#f6f6ff"/>
<rect x="895.73" y="449.22" width="5.17" height="5.17" fill="#dddddd"/>
<rect x="900.75" y="449.22" width="5.17" height="5.17" fill="#010101"/>
<rect x="905.77" y="449.22" width="5.17" height="5.17" fill="#0d0d0d"/>
<rect x="910.79" y="449.22" width="5.17" height="5.17" fill="#dedede"/>
<rect x="619.52" y="454.24" width="5.17" height="5.17" fill="#252525"/>
<rect x="624.54" y="454.24" width="5.17" height="5.17" fill="#000000"/>
<rect x="629.56" y="454.24" width="5.17" height="5.17" fill="#d2d2d2"/>
<rect x="644.63" y="454.24" width="5.17" height="5.17" fill="#c1c1ff"/>
<rect x="649.65" y="454.24" width="5.17" height="5.17" fill="#0000ff"/>
<rect x="654.67" y="454.24" width="5.17" height="5.17" fill="#2424ff"/>
<rect x="730.00" y="454.24" width="5.17" height="5.17" fill="#ff4040"/>
<rect x="735.02" y="454.24" width="5.17" height="5.17" fill="#ff0000"/>
<rect x="740.05" y="454.24" width="5.17" height="5.17" fill="#ff0000"/>
<rect x="745.07" y="454.24" width="5.17" height="5.17" fill="#ffbdbd"/>
<rect x="765.16" y="454.24" width="5.17" height="5.17" fill="#ff5f5f"/>
<rect x="770.18" y="454.24" width="5.17" height="5.17" fill="#ff0000"/>
<rect x="775.20" y="454.24" width="5.17" height="5.17" fill="#ff0303"/>
<rect x="780.22" y="454.24" width="5.17" height="5.17" fill="#ff0000"/>
<rect x="785.24" y="454.24" width="5.17" height="5.17" fill="#ffb2b2"/>
<rect x="855.55" y="454.24" width="5.17" height="5.17" fill="#f5f5ff"/>
<rect x="860.57" y="454.24" width="5.17" height="5.17" fill="#2d2dff"/>
<rect x="865.60" y="454.24" width="5.17" height="5.17" fill="#0000ff"/>
<rect x="870.62" y="454.24" width="5.17" height="5.17" fill="#a0a0ff"/>
<rect x="900.75" y="454.24" width="5.17" height="5.17" fill="#5a5a5a"/>
<rect x="905.77" y="454.24" width="5.17" height="5.17" fill="#000000"/>
<rect x="910.79" y="454.24" width="5.17" height="5.17" fill="#262626"/>
<rect x="614.50" y="459.26" width="5.17" height="5.17" fill="#a0a0a0"/>
<rect x="619.52" y="459.26" width="5.17" height="5.17" fill="#000000"/>
<rect x="624.54" y="459.26" width="5.17" height="5.17" fill="#252525"/>
<rect x="644.63" y="459.26" width="5.17" height="5.17" fill="#3030ff"/>
<rect x="649.65" y="459.26" width="5.17" height="5.17" fill="#0000ff"/>
<rect x="654.67" y="459.26" width="5.17" height="5.17" fill="#9898ff"/>
<rect x="724.98" y="459.26" width="5.17" height="5.17" fill="#ffebeb"/>
<rect x="730.00" y="459.26" width="5.17" height="5.17" fill="#ff0c0c"/>
<rect x="735.02" y="459.26" width="5.17" height="5.17" fill="#ff0000"/>
<rect x="740.05" y="459.26" width="5.17" height="5.17" fill="#ff0000"/>
<rect x="745.07" y="459.26" width="5.17" height="5.17" fill="#ff4747"/>
<rect x="750.09" y="459.26" width="5.17" height="5.17" fill="#ffc8c8"/>
<rect x="760.13" y="459.26" width="5.17" height="5.17" fill="#fff2f2"/>
<rect x="765.16" y="459.26" width="5.17" height="5.17" fill="#ff1b1b"/>
<rect x="770.18" y="459.26" width="5.17" height="5.17" fill="#ff0000"/>
<rect x="775.20" y="459.26" width="5.17" height="5.17" fill="#ff6969"/>
<rect x="780.22" y="459.26" width="5.17" height="5.17" fill="#ff0000"/>
<rect x="785.24" y="459.26" width="5.17" height="5.17" fill="#ff3f3f"/>
<rect x="860.57" y="459.26" width="5.17" height="5.17" fill="#bcbcff"/>
<rect x="865.60" y="459.26" width="5.17" height="5.17" fill="#0000ff"/>
<rect x="870.62" y="459.26" width="5.17" height="5.17" fill="#1111ff"/>
<rect x="875.64" y="459.26" width="5.17" height="5.17" fill="#d4d4ff"/>
<rect x="900.75" y="459.26" width="5.17" height="5.17" fill="#f5f5f5"/>
<rect x="905.77" y="459.26" width="5.17" height="5.17" fill="#2b2b2b"/>
<rect x="910.79" y="459.26" width="5.17" height="5.17" fill="#000000"/>
<rect x="915.82" y="459.26" width="5.17" height="5.17" fill="#cacaca"/>
<rect x="609.47" y="464.28" width="5.17" height="5.17" fill="#e2e2e2"/>
<rect x="614.50" y="464.28" width="5.17" height="5.17" fill="#040404"/>
<rect x="619.52" y="464.28" width="5.17" height="5.17" fill="#000000"/>
<rect x="624.54" y="464.28" width="5.17" height="5.17" fill="#8c8c8c"/>
<rect x="634.58" y="464.28" width="5.17" height="5.17" fill="#f3f3ff"/>
<rect x="639.61" y="464.28" width="5.17" height="5.17" fill="#7272ff"/>
<rect x="644.63" y="464.28" width="5.17" height="5.17" fill="#0000ff"/>
<rect x="649.65" y="464.28" width="5.17" height="5.17" fill="#3232ff"/>
<rect x="724.98" y="464.28" width="5.17" height="5.17" fill="#ffaaaa"/>
<rect x="730.00" y="464.28" width="5.17" height="5.17" fill="#ff0000"/>
<rect x="735.02" y="464.28" width="5.17" height="5.17" fill="#ff3737"/>
<rect x="740.05" y="464.28" width="5.17" height="5.17" fill="#ff0404"/>
<rect x="745.07" y="464.28" width="5.17" height="5.17" fill="#ff0000"/>
<rect x="750.09" y="464.28" width="5.17" height="5.17" fill="#ff0000"/>
<rect x="755.11" y="464.28" width="5.17" height="5.17" fill="#ff7474"/>
<rect x="760.13" y="464.28" width="5.17" height="5.17" fill="#ff6767"/>
<rect x="765.16" y="464.28" width="5.17" height="5.17" fill="#ff0000"/>
<rect x="770.18" y="464.28" width="5.17" height="5.17" fill="#ff4b4b"/>
<rect x="780.22" y="464.28" width="5.17" height="5.17" fill="#ff1818"/>
<rect x="785.24" y="464.28" width="5.17" height="5.17" fill="#ff0101"/>
<rect x="790.27" y="464.28" width="5.17" height="5.17" fill="#ff7777"/>
<rect x="865.60" y="464.28" width="5.17" height="5.17" fill="#7777ff"/>
<rect x="870.62" y="464.28" width="5.17" height="5.17" fill="#0000ff"/>
<rect x="875.64" y="464.28" width="5.17" height="5.17" fill="#5f5fff"/>
<rect x="905.77" y="464.28" width="5.17" height="5.17" fill="#6e6e6e"/>
<rect x="910.79" y="464.28" width="5.17" height="5.17" fill="#000000"/>
<rect x="915.82" y="464.28" width="5.17" height="5.17" fill="#939393"/>
<rect x="609.47" y="469.30" width="5.17" height="5.17" fill="#a6a6a6"/>
<rect x="614.50" y="469.30" width="5.17" height="5.17" fill="#000000"/>
<rect x="619.52" y="469.30" width="5.17" height="5.17" fill="#575757"/>
<rect x="634.58" y="469.30" width="5.17" height="5.17" fill="#8282ff"/>
<rect x="639.61" y="469.30" width="5.17" height="5.17" fill="#0000ff"/>
<rect x="644.63" y="469.30" width="5.17" height="5.17" fill="#0707ff"/>
<rect x="649.65" y="469.30" width="5.17" height="5.17" fill="#b5b5ff"/>
<rect x="699.87" y="469.30" width="5.17" height="5.17" fill="#ffa7a7"/>
<rect x="704.89" y="469.30" width="5.17" height="5.17" fill="#ffb3b3"/>
<rect x="724.98" y="469.30" width="5.17" height="5.17" fill="#ff5e5e"/>
<rect x="730.00" y="469.30" width="5.17" height="5.17" fill="#ff0000"/>
<rect x="735.02" y="469.30" width="5.17" height="5.17" fill="#ffa2a2"/>
<rect x="740.05" y="469.30" width="5.17" height="5.17" fill="#ffdddd"/>
<rect x="745.07" y="469.30" width="5.17" height="5.17" fill="#ff8d8d"/>
<rect x="750.09" y="469.30" width="5.17" height="5.17" fill="#ff1616"/>
<rect x="755.11" y="469.30" width="5.17" height="5.17" fill="#ff0000"/>
<rect x="760.13" y="469.30" width="5.17" height="5.17" fill="#ff0000"/>
<rect x="765.16" y="469.30" width="5.17" height="5.17" fill="#ff0d0d"/>
<rect x="770.18" y="469.30" width="5.17" height="5.17" fill="#ffe2e2"/>
<rect x="780.22" y="469.30" width="5.17" height="5.17" fill="#ff9a9a"/>
<rect x="785.24" y="469.30" width="5.17" height="5.17" fill="#ff0b0b"/>
<rect x="790.27" y="469.30" width="5.17" height="5.17" fill="#ff0101"/>
<rect x="795.29" y="469.30" width="5.17" height="5.17" fill="#ff9c9c"/>
<rect x="870.62" y="469.30" width="5.17" height="5.17" fill="#1919ff"/>
<rect x="875.64" y="469.30" width="5.17" height="5.17" fill="#0303ff"/>
<rect x="880.66" y="469.30" width="5.17" height="5.17" fill="#d3d3ff"/>
<rect x="905.77" y="469.30" width="5.17" height="5.17" fill="#b5b5b5"/>
<rect x="910.79" y="469.30" width="5.17" height="5.17" fill="#000000"/>
<rect x="915.82" y="469.30" width="5.17" height="5.17" fill="#474747"/>
<rect x="609.47" y="474.33" width="5.17" height="5.17" fill="#707070"/>
<rect x="614.50" y="474.33" width="5.17" height="5.17" fill="#000000"/>
<rect x="619.52" y="474.33" width="5.17" height="5.17" fill="#909090"/>
<rect x="634.58" y="474.33" width="5.17" height="5.17" fill="#2d2dff"/>
<rect x="639.61" y="474.33" width="5.17" height="5.17" fill="#0101ff"/>
<rect x="644.63" y="474.33" width="5.17" height="5.17" fill="#cacaff"/>
<rect x="699.87" y="474.33" width="5.17" height="5.17" fill="#ff0101"/>
<rect x="704.89" y="474.33" width="5.17" height="5.17" fill="#ff0000"/>
<rect x="709.91" y="474.33" width="5.17" height="5.17" fill="#ff7e7e"/>
<rect x="724.98" y="474.33" width="5.17" height="5.17" fill="#ff2d2d"/>
<rect x="730.00" y="474.33" width="5.17" height="5.17" fill="#ff0000"/>
<rect x="735.02" y="474.33" width="5.17" height="5.17" fill="#ffe2e2"/>
<rect x="750.09" y="474.33" width="5.17" height="5.17" fill="#ffcbcb"/>
<rect x="755.11" y="474.33" width="5.17" height="5.17" fill="#ff2424"/>
<rect x="760.13" y="474.33" width="5.17" height="5.17" fill="#ff1a1a"/>
<rect x="765.16" y="474.33" width="5.17" height="5.17" fill="#ff9191"/>
<rect x="785.24" y="474.33" width="5.17" height="5.17" fill="#ffbaba"/>
<rect x="790.27" y="474.33" width="5.17" height="5.17" fill="#ff0505"/>
<rect x="795.29" y="474.33" width="5.17" height="5.17" fill="#ff0404"/>
<rect x="800.31" y="474.33" width="5.17" height="5.17" fill="#ff7070"/>
<rect x="805.33" y="474.33" width="5.17" height="5.17" fill="#ffd2d2"/>
<rect x="870.62" y="474.33" width="5.17" height="5.17" fill="#9090ff"/>
<rect x="875.64" y="474.33" width="5.17" height="5.17" fill="#0000ff"/>
<rect x="880.66" y="474.33" width="5.17" height="5.17" fill="#2626ff"/>
<rect x="885.68" y="474.33" width="5.17" height="5.17" fill="#7171ff"/>
<rect x="890.71" y="474.33" width="5.17" height="5.17" fill="#f0f0ff"/>
<rect x="910.79" y="474.33" width="5.17" height="5.17" fill="#0f0f0f"/>
<rect x="915.82" y="474.33" width="5.17" height="5.17" fill="#080808"/>
<rect x="920.84" y="474.33" width="5.17" height="5.17" fill="#f6f6f6"/>
<rect x="609.47" y="479.35" width="5.17" height="5.17" fill="#181818"/>
<rect x="614.50" y="479.35" width="5.17" height="5.17" fill="#010101"/>
<rect x="619.52" y="479.35" width="5.17" height="5.17" fill="#d9d9d9"/>
<rect x="629.56" y="479.35" width="5.17" height="5.17" fill="#ababff"/>
<rect x="634.58" y="479.35" width="5.17" height="5.17" fill="#0000ff"/>
<rect x="639.61" y="479.35" width="5.17" height="5.17" fill="#2e2eff"/>
<rect x="699.87" y="479.35" width="5.17" height="5.17" fill="#ff0808"/>
<rect x="704.89" y="479.35" width="5.17" height="5.17" fill="#ff0000"/>
<rect x="709.91" y="479.35" width="5.17" height="5.17" fill="#ff1616"/>
<rect x="724.98" y="479.35" width="5.17" height="5.17" fill="#ff0d0d"/>
<rect x="730.00" y="479.35" width="5.17" height="5.17" fill="#ff0606"/>
<rect x="790.27" y="479.35" width="5.17" height="5.17" fill="#ffa1a1"/>
<rect x="795.29" y="479.35" width="5.17" height="5.17" fill="#ff0404"/>
<rect x="800.31" y="479.35" width="5.17" height="5.17" fill="#ff0000"/>
<rect x="805.33" y="479.35" width="5.17" height="5.17" fill="#ff0808"/>
<rect x="810.35" y="479.35" width="5.17" height="5.17" fill="#fff1f1"/>
<rect x="875.64" y="479.35" width="5.17" height="5.17" fill="#4444ff"/>
<rect x="880.66" y="479.35" width="5.17" height="5.17" fill="#0000ff"/>
<rect x="885.68" y="479.35" width="5.17" height="5.17" fill="#0000ff"/>
<rect x="890.71" y="479.35" width="5.17" height="5.17" fill="#8c8cff"/>
<rect x="910.79" y="479.35" width="5.17" height="5.17" fill="#515151"/>
<rect x="915.82" y="479.35" width="5.17" height="5.17" fill="#000000"/>
<rect x="920.84" y="479.35" width="5.17" height="5.17" fill="#b2b2b2"/>
<rect x="604.45" y="484.37" width="5.17" height="5.17" fill="#cdcdcd"/>
<rect x="609.47" y="484.37" width="5.17" height="5.17" fill="#000000"/>
<rect x="614.50" y="484.37" width="5.17" height="5.17" fill="#414141"/>
<rect x="629.56" y="484.37" width="5.17" height="5.17" fill="#4f4fff"/>
<rect x="634.58" y="484.37" width="5.17" height="5.17" fill="#0000ff"/>
<rect x="639.61" y="484.37" width="5.17" height="5.17" fill="#b3b3ff"/>
<rect x="699.87" y="484.37" width="5.17" height="5.17" fill="#ff2d2d"/>
<rect x="704.89" y="484.37" width="5.17" height="5.17" fill="#ff0000"/>
<rect x="709.91" y="484.37" width="5.17" height="5.17" fill="#ff0000"/>
<rect x="714.94" y="484.37" width="5.17" height="5.17" fill="#ff7070"/>
<rect x="719.96" y="484.37" width="5.17" height="5.17" fill="#ff7b7b"/>
<rect x="724.98" y="484.37" width="5.17" height="5.17" fill="#ff0000"/>
<rect x="730.00" y="484.37" width="5.17" height="5.17" fill="#ff3434"/>
<rect x="795.29" y="484.37" width="5.17" height="5.17" fill="#ffe6e6"/>
<rect x="800.31" y="484.37" width="5.17" height="5.17" fill="#ff3a3a"/>
<rect x="805.33" y="484.37" width="5.17" height="5.17" fill="#ff0000"/>
<rect x="810.35" y="484.37" width="5.17" height="5.17" fill="#ffbcbc"/>
<rect x="880.66" y="484.37" width="5.17" height="5.17" fill="#acacff"/>
<rect x="885.68" y="484.37" width="5.17" height="5.17" fill="#0000ff"/>
<rect x="890.71" y="484.37" width="5.17" height="5.17" fill="#2f2fff"/>
<rect x="910.79" y="484.37" width="5.17" height="5.17" fill="#acacac"/>
<rect x="915.82" y="484.37" width="5.17" height="5.17" fill="#000000"/>
<rect x="920.84" y="484.37" width="5.17" height="5.17" fill="#545454"/>
<rect x="930.88" y="484.37" width="5.17" height="5.17" fill="#f6f6f6"/>
<rect x="604.45" y="489.39" width="5.17" height="5.17" fill="#8d8d8d"/>
<rect x="609.47" y="489.39" width="5.17" height="5.17" fill="#000000"/>
<rect x="614.50" y="489.39" width="5.17" height="5.17" fill="#848484"/>
<rect x="624.54" y="489.39" width="5.17" height="5.17" fill="#f6f6ff"/>
<rect x="629.56" y="489.39" width="5.17" height="5.17" fill="#1111ff"/>
<rect x="634.58" y="489.39" width="5.17" height="5.17" fill="#0d0dff"/>
<rect x="639.61" y="489.39" width="5.17" height="5.17" fill="#f6f6ff"/>
<rect x="699.87" y="489.39" width="5.17" height="5.17" fill="#ff3838"/>
<rect x="704.89" y="489.39" width="5.17" height="5.17" fill="#ff0000"/>
<rect x="709.91" y="489.39" width="5.17" height="5.17" fill="#ff0b0b"/>
<rect x="714.94" y="489.39" width="5.17" height="5.17" fill="#ff0000"/>
<rect x="719.96" y="489.39" width="5.17" height="5.17" fill="#ff0000"/>
<rect x="724.98" y="489.39" width="5.17" height="5.17" fill="#ff1b1b"/>
<rect x="730.00" y="489.39" width="5.17" height="5.17" fill="#ffc5c5"/>
<rect x="800.31" y="489.39" width="5.17" height="5.17" fill="#ff8383"/>
<rect x="805.33" y="489.39" width="5.17" height="5.17" fill="#ff0000"/>
<rect x="810.35" y="489.39" width="5.17" height="5.17" fill="#ff5f5f"/>
<rect x="885.68" y="489.39" width="5.17" height="5.17" fill="#3e3eff"/>
<rect x="890.71" y="489.39" width="5.17" height="5.17" fill="#0000ff"/>
<rect x="895.73" y="489.39" width="5.17" height="5.17" fill="#a6a6ff"/>
<rect x="915.82" y="489.39" width="5.17" height="5.17" fill="#101010"/>
<rect x="920.84" y="489.39" width="5.17" height="5.17" fill="#090909"/>
<rect x="925.86" y="489.39" width="5.17" height="5.17" fill="#202020"/>
<rect x="930.88" y="489.39" width="5.17" height="5.17" fill="#161616"/>
<rect x="935.90" y="489.39" width="5.17" height="5.17" fill="#c2c2c2"/>
<rect x="604.45" y="494.41" width="5.17" height="5.17" fill="#353535"/>
<rect x="609.47" y="494.41" width="5.17" height="5.17" fill="#000000"/>
<rect x="614.50" y="494.41" width="5.17" height="5.17" fill="#d1d1d1"/>
<rect x="624.54" y="494.41" width="5.17" height="5.17" fill="#b8b8ff"/>
<rect x="629.56" y="494.41" width="5.17" height="5.17" fill="#0000ff"/>
<rect x="634.58" y="494.41" width="5.17" height="5.17" fill="#5050ff"/>
<rect x="694.85" y="494.41" width="5.17" height="5.17" fill="#ffd7d7"/>
<rect x="699.87" y="494.41" width="5.17" height="5.17" fill="#ff0101"/>
<rect x="704.89" y="494.41" width="5.17" height="5.17" fill="#ff2b2b"/>
<rect x="709.91" y="494.41" width="5.17" height="5.17" fill="#ffc9c9"/>
<rect x="714.94" y="494.41" width="5.17" height="5.17" fill="#ff6161"/>
<rect x="719.96" y="494.41" width="5.17" height="5.17" fill="#ff4a4a"/>
<rect x="724.98" y="494.41" width="5.17" height="5.17" fill="#ffe6e6"/>
<rect x="800.31" y="494.41" width="5.17" height="5.17" fill="#ffb7b7"/>
<rect x="805.33" y="494.41" width="5.17" height="5.17" fill="#ff0000"/>
<rect x="810.35" y="494.41" width="5.17" height="5.17" fill="#ff0000"/>
<rect x="815.38" y="494.41" width="5.17" height="5.17" fill="#ffa8a8"/>
<rect x="885.68" y="494.41" width="5.17" height="5.17" fill="#ccccff"/>
<rect x="890.71" y="494.41" width="5.17" height="5.17" fill="#0101ff"/>
<rect x="895.73" y="494.41" width="5.17" height="5.17" fill="#2929ff"/>
<rect x="915.82" y="494.41" width="5.17" height="5.17" fill="#717171"/>
<rect x="920.84" y="494.41" width="5.17" height="5.17" fill="#000000"/>
<rect x="925.86" y="494.41" width="5.17" height="5.17" fill="#050505"/>
<rect x="930.88" y="494.41" width="5.17" height="5.17" fill="#010101"/>
<rect x="935.90" y="494.41" width="5.17" height="5.17" fill="#1f1f1f"/>
<rect x="599.43" y="499.44" width="5.17" height="5.17" fill="#b5b5b5"/>
<rect x="604.45" y="499.44" width="5.17" height="5.17" fill="#000000"/>
<rect x="609.47" y="499.44" width="5.17" height="5.17" fill="#313131"/>
<rect x="624.54" y="499.44" width="5.17" height="5.17" fill="#6a6aff"/>
<rect x="629.56" y="499.44" width="5.17" height="5.17" fill="#0000ff"/>
<rect x="634.58" y="499.44" width="5.17" height="5.17" fill="#a2a2ff"/>
<rect x="694.85" y="499.44" width="5.17" height="5.17" fill="#ff5959"/>
<rect x="699.87" y="499.44" width="5.17" height="5.17" fill="#ff0000"/>
<rect x="704.89" y="499.44" width="5.17" height="5.17" fill="#ff9b9b"/>
<rect x="805.33" y="499.44" width="5.17" height="5.17" fill="#ff9a9a"/>
<rect x="810.35" y="499.44" width="5.17" height="5.17" fill="#ff0000"/>
<rect x="815.38" y="499.44" width="5.17" height="5.17" fill="#ff4444"/>
<rect x="820.40" y="499.44" width="5.17" height="5.17" fill="#ffeaea"/>
<rect x="890.71" y="499.44" width="5.17" height="5.17" fill="#5050ff"/>
<rect x="895.73" y="499.44" width="5.17" height="5.17" fill="#0000ff"/>
<rect x="900.75" y="499.44" width="5.17" height="5.17" fill="#b6b6ff"/>
<rect x="915.82" y="499.44" width="5.17" height="5.17" fill="#f6f6f6"/>
<rect x="920.84" y="499.44" width="5.17" height="5.17" fill="#b2b2b2"/>
<rect x="925.86" y="499.44" width="5.17" height="5.17" fill="#efefef"/>
<rect x="930.88" y="499.44" width="5.17" height="5.17" fill="#424242"/>
<rect x="935.90" y="499.44" width="5.17" height="5.17" fill="#000000"/>
<rect x="940.93" y="499.44" width="5.17" height="5.17" fill="#b6b6b6"/>
<rect x="599.43" y="504.46" width="5.17" height="5.17" fill="#767676"/>
<rect x="604.45" y="504.46" width="5.17" height="5.17" fill="#000000"/>
<rect x="609.47" y="504.46" width="5.17" height="5.17" fill="#9d9d9d"/>
<rect x="619.52" y="504.46" width="5.17" height="5.17" fill="#e4e4ff"/>
<rect x="624.54" y="504.46" width="5.17" height="5.17" fill="#1212ff"/>
<rect x="629.56" y="504.46" width="5.17" height="5.17" fill="#0606ff"/>
<rect x="634.58" y="504.46" width="5.17" height="5.17" fill="#f3f3ff"/>
<rect x="679.78" y="504.46" width="5.17" height="5.17" fill="#ff7e7e"/>
<rect x="684.80" y="504.46" width="5.17" height="5.17" fill="#ff4c4c"/>
<rect x="689.83" y="504.46" width="5.17" height="5.17" fill="#ff2d2d"/>
<rect x="694.85" y="504.46" width="5.17" height="5.17" fill="#ff0000"/>
<rect x="699.87" y="504.46" width="5.17" height="5.17" fill="#ff2c2c"/>
<rect x="704.89" y="504.46" width="5.17" height="5.17" fill="#fff0f0"/>
<rect x="810.35" y="504.46" width="5.17" height="5.17" fill="#ff2626"/>
<rect x="815.38" y="504.46" width="5.17" height="5.17" fill="#ff0000"/>
<rect x="820.40" y="504.46" width="5.17" height="5.17" fill="#ff0000"/>
<rect x="825.42" y="504.46" width="5.17" height="5.17" fill="#ff5959"/>
<rect x="890.71" y="504.46" width="5.17" height="5.17" fill="#afafff"/>
<rect x="895.73" y="504.46" width="5.17" height="5.17" fill="#0000ff"/>
<rect x="900.75" y="504.46" width="5.17" height="5.17" fill="#5959ff"/>
<rect x="930.88" y="504.46" width="5.17" height="5.17" fill="#a7a7a7"/>
<rect x="935.90" y="504.46" width="5.17" height="5.17" fill="#000000"/>
<rect x="940.93" y="504.46" width="5.17" height="5.17" fill="#5c5c5c"/>
<rect x="599.43" y="509.48" width="5.17" height="5.17" fill="#575757"/>
<rect x="604.45" y="509.48" width="5.17" height="5.17" fill="#000000"/>
<rect x="609.47" y="509.48" width="5.17" height="5.17" fill="#c9c9c9"/>
<rect x="614.50" y="509.48" width="5.17" height="5.17" fill="#f5f5ff"/>
<rect x="619.52" y="509.48" width="5.17" height="5.17" fill="#1f1fff"/>
<rect x="624.54" y="509.48" width="5.17" height="5.17" fill="#0000ff"/>
<rect x="629.56" y="509.48" width="5.17" height="5.17" fill="#7070ff"/>
<rect x="674.76" y="509.48" width="5.17" height="5.17" fill="#fff5f5"/>
<rect x="679.78" y="509.48" width="5.17" height="5.17" fill="#ff0000"/>
<rect x="684.80" y="509.48" width="5.17" height="5.17" fill="#ff0000"/>
<rect x="689.83" y="509.48" width="5.17" height="5.17" fill="#ff0000"/>
<rect x="694.85" y="509.48" width="5.17" height="5.17" fill="#ff4545"/>
<rect x="699.87" y="509.48" width="5.17" height="5.17" fill="#ffeaea"/>
<rect x="810.35" y="509.48" width="5.17" height="5.17" fill="#ffd5d5"/>
<rect x="815.38" y="509.48" width="5.17" height="5.17" fill="#ff7c7c"/>
<rect x="820.40" y="509.48" width="5.17" height="5.17" fill="#ff1f1f"/>
<rect x="825.42" y="509.48" width="5.17" height="5.17" fill="#ff0000"/>
<rect x="830.44" y="509.48" width="5.17" height="5.17" fill="#ff7e7e"/>
<rect x="890.71" y="509.48" width="5.17" height="5.17" fill="#ececff"/>
<rect x="895.73" y="509.48" width="5.17" height="5.17" fill="#1919ff"/>
<rect x="900.75" y="509.48" width="5.17" height="5.17" fill="#0000ff"/>
<rect x="905.77" y="509.48" width="5.17" height="5.17" fill="#6262ff"/>
<rect x="910.79" y="509.48" width="5.17" height="5.17" fill="#cbcbff"/>
<rect x="930.88" y="509.48" width="5.17" height="5.17" fill="#f5f5f5"/>
<rect x="935.90" y="509.48" width="5.17" height="5.17" fill="#0f0f0f"/>
<rect x="940.93" y="509.48" width="5.17" height="5.17" fill="#181818"/>
<rect x="599.43" y="514.50" width="5.17" height="5.17" fill="#1a1a1a"/>
<rect x="604.45" y="514.50" width="5.17" height="5.17" fill="#040404"/>
<rect x="609.47" y="514.50" width="5.17" height="5.17" fill="#ededed"/>
<rect x="614.50" y="514.50" width="5.17" height="5.17" fill="#8c8cff"/>
<rect x="619.52" y="514.50" width="5.17" height="5.17" fill="#0000ff"/>
<rect x="624.54" y="514.50" width="5.17" height="5.17" fill="#5656ff"/>
<rect x="674.76" y="514.50" width="5.17" height="5.17" fill="#ffb3b3"/>
<rect x="679.78" y="514.50" width="5.17" height="5.17" fill="#ff0000"/>
<rect x="684.80" y="514.50" width="5.17" height="5.17" fill="#ff5e5e"/>
<rect x="689.83" y="514.50" width="5.17" height="5.17" fill="#ffdbdb"/>
<rect x="740.05" y="514.50" width="5.17" height="5.17" fill="#9f9fcf"/>
<rect x="745.07" y="514.50" width="5.17" height="5.17" fill="#0e0e87"/>
<rect x="750.09" y="514.50" width="5.17" height="5.17" fill="#cecee7"/>
<rect x="820.40" y="514.50" width="5.17" height="5.17" fill="#ffd9d9"/>
<rect x="825.42" y="514.50" width="5.17" height="5.17" fill="#ff1111"/>
<rect x="830.44" y="514.50" width="5.17" height="5.17" fill="#ff0606"/>
<rect x="835.46" y="514.50" width="5.17" height="5.17" fill="#ffd7d7"/>
<rect x="850.53" y="514.50" width="5.17" height="5.17" fill="#ff8181"/>
<rect x="855.55" y="514.50" width="5.17" height="5.17" fill="#ff0b0b"/>
<rect x="860.57" y="514.50" width="5.17" height="5.17" fill="#ffbfbf"/>
<rect x="895.73" y="514.50" width="5.17" height="5.17" fill="#6c6cff"/>
<rect x="900.75" y="514.50" width="5.17" height="5.17" fill="#0000ff"/>
<rect x="905.77" y="514.50" width="5.17" height="5.17" fill="#0000ff"/>
<rect x="910.79" y="514.50" width="5.17" height="5.17" fill="#2929ff"/>
<rect x="915.82" y="514.50" width="5.17" height="5.17" fill="#f5f5ff"/>
<rect x="935.90" y="514.50" width="5.17" height="5.17" fill="#505050"/>
<rect x="940.93" y="514.50" width="5.17" height="5.17" fill="#000000"/>
<rect x="945.95" y="514.50" width="5.17" height="5.17" fill="#9d9d9d"/>
<rect x="594.41" y="519.52" width="5.17" height="5.17" fill="#d8d8d8"/>
<rect x="599.43" y="519.52" width="5.17" height="5.17" fill="#000000"/>
<rect x="604.45" y="519.52" width="5.17" height="5.17" fill="#4b4b4b"/>
<rect x="614.50" y="519.52" width="5.17" height="5.17" fill="#2b2bff"/>
<rect x="619.52" y="519.52" width="5.17" height="5.17" fill="#0404ff"/>
<rect x="624.54" y="519.52" width="5.17" height="5.17" fill="#e8e8ff"/>
<rect x="674.76" y="519.52" width="5.17" height="5.17" fill="#ff4e4e"/>
<rect x="679.78" y="519.52" width="5.17" height="5.17" fill="#ff0000"/>
<rect x="684.80" y="519.52" width="5.17" height="5.17" fill="#ffb4b4"/>
<rect x="740.05" y="519.52" width="5.17" height="5.17" fill="#5656ab"/>
<rect x="745.07" y="519.52" width="5.17" height="5.17" fill="#000080"/>
<rect x="750.09" y="519.52" width="5.17" height="5.17" fill="#333399"/>
<rect x="825.42" y="519.52" width="5.17" height="5.17" fill="#ff9696"/>
<rect x="830.44" y="519.52" width="5.17" height="5.17" fill="#ff0000"/>
<rect x="835.46" y="519.52" width="5.17" height="5.17" fill="#ff3434"/>
<rect x="840.49" y="519.52" width="5.17" height="5.17" fill="#ffe9e9"/>
<rect x="845.51" y="519.52" width="5.17" height="5.17" fill="#ff9f9f"/>
<rect x="850.53" y="519.52" width="5.17" height="5.17" fill="#ff0000"/>
<rect x="855.55" y="519.52" width="5.17" height="5.17" fill="#ff0000"/>
<rect x="860.57" y="519.52" width="5.17" height="5.17" fill="#ff4b4b"/>
<rect x="895.73" y="519.52" width="5.17" height="5.17" fill="#9494ff"/>
<rect x="900.75" y="519.52" width="5.17" height="5.17" fill="#0000ff"/>
<rect x="905.77" y="519.52" width="5.17" height="5.17" fill="#0000ff"/>
<rect x="910.79" y="519.52" width="5.17" height="5.17" fill="#0000ff"/>
<rect x="915.82" y="519.52" width="5.17" height="5.17" fill="#7272ff"/>
<rect x="935.90" y="519.52" width="5.17" height="5.17" fill="#c6c6c6"/>
<rect x="940.93" y="519.52" width="5.17" height="5.17" fill="#010101"/>
<rect x="945.95" y="519.52" width="5.17" height="5.17" fill="#3e3e3e"/>
<rect x="594.41" y="524.55" width="5.17" height="5.17" fill="#303030"/>
<rect x="599.43" y="524.55" width="5.17" height="5.17" fill="#000000"/>
<rect x="604.45" y="524.55" width="5.17" height="5.17" fill="#777777"/>
<rect x="614.50" y="524.55" width="5.17" height="5.17" fill="#1c1cff"/>
<rect x="619.52" y="524.55" width="5.17" height="5.17" fill="#1313ff"/>
<rect x="669.74" y="524.55" width="5.17" height="5.17" fill="#ff9999"/>
<rect x="674.76" y="524.55" width="5.17" height="5.17" fill="#ff0000"/>
<rect x="679.78" y="524.55" width="5.17" height="5.17" fill="#ff3636"/>
<rect x="740.05" y="524.55" width="5.17" height="5.17" fill="#2f2f97"/>
<rect x="745.07" y="524.55" width="5.17" height="5.17" fill="#000080"/>
<rect x="750.09" y="524.55" width="5.17" height="5.17" fill="#000080"/>
<rect x="755.11" y="524.55" width="5.17" height="5.17" fill="#9e9ecf"/>
<rect x="770.18" y="524.55" width="5.17" height="5.17" fill="#d8d8ec"/>
<rect x="775.20" y="524.55" width="5.17" height="5.17" fill="#4b4ba5"/>
<rect x="780.22" y="524.55" width="5.17" height="5.17" fill="#d4d4e9"/>
<rect x="830.44" y="524.55" width="5.17" height="5.17" fill="#ff5555"/>
<rect x="835.46" y="524.55" width="5.17" height="5.17" fill="#ff0000"/>
<rect x="840.49" y="524.55" width="5.17" height="5.17" fill="#ff7878"/>
<rect x="845.51" y="524.55" width="5.17" height="5.17" fill="#ff1111"/>
<rect x="850.53" y="524.55" width="5.17" height="5.17" fill="#ff0909"/>
<rect x="855.55" y="524.55" width="5.17" height="5.17" fill="#ff1c1c"/>
<rect x="860.57" y="524.55" width="5.17" height="5.17" fill="#ff0b0b"/>
<rect x="895.73" y="524.55" width="5.17" height="5.17" fill="#a8a8ff"/>
<rect x="900.75" y="524.55" width="5.17" height="5.17" fill="#0000ff"/>
<rect x="905.77" y="524.55" width="5.17" height="5.17" fill="#1212ff"/>
<rect x="910.79" y="524.55" width="5.17" height="5.17" fill="#1212ff"/>
<rect x="915.82" y="524.55" width="5.17" height="5.17" fill="#1818ff"/>
<rect x="940.93" y="524.55" width="5.17" height="5.17" fill="#2f2f2f"/>
<rect x="945.95" y="524.55" width="5.17" height="5.17" fill="#020202"/>
<rect x="950.97" y="524.55" width="5.17" height="5.17" fill="#eaeaea"/>
<rect x="589.39" y="529.57" width="5.17" height="5.17" fill="#919191"/>
<rect x="594.41" y="529.57" width="5.17" height="5.17" fill="#000000"/>
<rect x="599.43" y="529.57" width="5.17" height="5.17" fill="#424242"/>
<rect x="604.45" y="529.57" width="5.17" height="5.17" fill="#e6e6e6"/>
<rect x="614.50" y="529.57" width="5.17" height="5.17" fill="#1414ff"/>
<rect x="619.52" y="529.57" width="5.17" height="5.17" fill="#1b1bff"/>
<rect x="664.72" y="529.57" width="5.17" height="5.17" fill="#ff4242"/>
<rect x="669.74" y="529.57" width="5.17" height="5.17" fill="#ff0000"/>
<rect x="674.76" y="529.57" width="5.17" height="5.17" fill="#ff0d0d"/>
<rect x="679.78" y="529.57" width="5.17" height="5.17" fill="#ffcdcd"/>
<rect x="714.94" y="529.57" width="5.17" height="5.17" fill="#c6c6e3"/>
<rect x="719.96" y="529.57" width="5.17" height="5.17" fill="#f0f0f7"/>
<rect x="740.05" y="529.57" width="5.17" height="5.17" fill="#0a0a85"/>
<rect x="745.07" y="529.57" width="5.17" height="5.17" fill="#060683"/>
<rect x="750.09" y="529.57" width="5.17" height="5.17" fill="#010180"/>
<rect x="755.11" y="529.57" width="5.17" height="5.17" fill="#000080"/>
<rect x="760.13" y="529.57" width="5.17" height="5.17" fill="#6969b4"/>
<rect x="765.16" y="529.57" width="5.17" height="5.17" fill="#d1d1e8"/>
<rect x="770.18" y="529.57" width="5.17" height="5.17" fill="#282894"/>
<rect x="775.20" y="529.57" width="5.17" height="5.17" fill="#000080"/>
<rect x="780.22" y="529.57" width="5.17" height="5.17" fill="#6f6fb7"/>
<rect x="830.44" y="529.57" width="5.17" height="5.17" fill="#ffa6a6"/>
<rect x="835.46" y="529.57" width="5.17" height="5.17" fill="#ff0000"/>
<rect x="840.49" y="529.57" width="5.17" height="5.17" fill="#ff0808"/>
<rect x="845.51" y="529.57" width="5.17" height="5.17" fill="#ff0000"/>
<rect x="850.53" y="529.57" width="5.17" height="5.17" fill="#ff8888"/>
<rect x="855.55" y="529.57" width="5.17" height="5.17" fill="#ff6a6a"/>
<rect x="860.57" y="529.57" width="5.17" height="5.17" fill="#ff0000"/>
<rect x="865.60" y="529.57" width="5.17" height="5.17" fill="#ff8888"/>
<rect x="895.73" y="529.57" width="5.17" height="5.17" fill="#b6b6ff"/>
<rect x="900.75" y="529.57" width="5.17" height="5.17" fill="#0000ff"/>
<rect x="905.77" y="529.57" width="5.17" height="5.17" fill="#4f4fff"/>
<rect x="910.79" y="529.57" width="5.17" height="5.17" fill="#5555ff"/>
<rect x="915.82" y="529.57" width="5.17" height="5.17" fill="#0000ff"/>
<rect x="920.84" y="529.57" width="5.17" height="5.17" fill="#c6c6ff"/>
<rect x="940.93" y="529.57" width="5.17" height="5.17" fill="#818181"/>
<rect x="945.95" y="529.57" width="5.17" height="5.17" fill="#000000"/>
<rect x="950.97" y="529.57" width="5.17" height="5.17" fill="#9e9e9e"/>
<rect x="589.39" y="534.59" width="5.17" height="5.17" fill="#1b1b1b"/>
<rect x="594.41" y="534.59" width="5.17" height="5.17" fill="#080808"/>
<rect x="599.43" y="534.59" width="5.17" height="5.17" fill="#e4e4e4"/>
<rect x="614.50" y="534.59" width="5.17" height="5.17" fill="#0606ff"/>
<rect x="619.52" y="534.59" width="5.17" height="5.17" fill="#2828ff"/>
<rect x="659.69" y="534.59" width="5.17" height="5.17" fill="#ffc8c8"/>
<rect x="664.72" y="534.59" width="5.17" height="5.17" fill="#ff0000"/>
<rect x="669.74" y="534.59" width="5.17" height="5.17" fill="#ff2424"/>
<rect x="674.76" y="534.59" width="5.17" height="5.17" fill="#ffc6c6"/>
<rect x="704.89" y="534.59" width="5.17" height="5.17" fill="#f5f5fa"/>
<rect x="709.91" y="534.59" width="5.17" height="5.17" fill="#6464b2"/>
<rect x="714.94" y="534.59" width="5.17" height="5.17" fill="#000080"/>
<rect x="719.96" y="534.59" width="5.17" height="5.17" fill="#0a0a85"/>
<rect x="724.98" y="534.59" width="5.17" height="5.17" fill="#afafd7"/>
<rect x="735.02" y="534.59" width="5.17" height="5.17" fill="#5757ab"/>
<rect x="740.05" y="534.59" width="5.17" height="5.17" fill="#000080"/>
<rect x="745.07" y="534.59" width="5.17" height="5.17" fill="#4747a3"/>
<rect x="750.09" y="534.59" width="5.17" height="5.17" fill="#d5d5ea"/>
<rect x="755.11" y="534.59" width="5.17" height="5.17" fill="#2f2f98"/>
<rect x="760.13" y="534.59" width="5.17" height="5.17" fill="#000080"/>
<rect x="765.16" y="534.59" width="5.17" height="5.17" fill="#040482"/>
<rect x="770.18" y="534.59" width="5.17" height="5.17" fill="#000080"/>
<rect x="775.20" y="534.59" width="5.17" height="5.17" fill="#000080"/>
<rect x="780.22" y="534.59" width="5.17" height="5.17" fill="#4444a2"/>
<rect x="790.27" y="534.59" width="5.17" height="5.17" fill="#f2f2f9"/>
<rect x="795.29" y="534.59" width="5.17" height="5.17" fill="#9999cc"/>
<rect x="800.31" y="534.59" width="5.17" height="5.17" fill="#f4f4f9"/>
<rect x="830.44" y="534.59" width="5.17" height="5.17" fill="#ffa6a6"/>
<rect x="835.46" y="534.59" width="5.17" height="5.17" fill="#ff0000"/>
<rect x="840.49" y="534.59" width="5.17" height="5.17" fill="#ff0000"/>
<rect x="845.51" y="534.59" width="5.17" height="5.17" fill="#ff2c2c"/>
<rect x="855.55" y="534.59" width="5.17" height="5.17" fill="#ffe9e9"/>
<rect x="860.57" y="534.59" width="5.17" height="5.17" fill="#ff0303"/>
<rect x="865.60" y="534.59" width="5.17" height="5.17" fill="#ff3434"/>
<rect x="895.73" y="534.59" width="5.17" height="5.17" fill="#ebebff"/>
<rect x="900.75" y="534.59" width="5.17" height="5.17" fill="#4444ff"/>
<rect x="905.77" y="534.59" width="5.17" height="5.17" fill="#babaff"/>
<rect x="910.79" y="534.59" width="5.17" height="5.17" fill="#a8a8ff"/>
<rect x="915.82" y="534.59" width="5.17" height="5.17" fill="#0000ff"/>
<rect x="920.84" y="534.59" width="5.17" height="5.17" fill="#6363ff"/>
<rect x="940.93" y="534.59" width="5.17" height="5.17" fill="#cfcfcf"/>
<rect x="945.95" y="534.59" width="5.17" height="5.17" fill="#000000"/>
<rect x="950.97" y="534.59" width="5.17" height="5.17" fill="#595959"/>
<rect x="584.36" y="539.61" width="5.17" height="5.17" fill="#8e8e8e"/>
<rect x="589.39" y="539.61" width="5.17" height="5.17" fill="#000000"/>
<rect x="594.41" y="539.61" width="5.17" height="5.17" fill="#767676"/>
<rect x="609.47" y="539.61" width="5.17" height="5.17" fill="#9a9aff"/>
<rect x="614.50" y="539.61" width="5.17" height="5.17" fill="#0000ff"/>
<rect x="619.52" y="539.61" width="5.17" height="5.17" fill="#6565ff"/>
<rect x="649.65" y="539.61" width="5.17" height="5.17" fill="#fff2f2"/>
<rect x="654.67" y="539.61" width="5.17" height="5.17" fill="#ff7272"/>
<rect x="659.69" y="539.61" width="5.17" height="5.17" fill="#ff1f1f"/>
<rect x="664.72" y="539.61" width="5.17" height="5.17" fill="#ff0000"/>
<rect x="669.74" y="539.61" width="5.17" height="5.17" fill="#ffa6a6"/>
<rect x="689.83" y="539.61" width="5.17" height="5.17" fill="#c5c5e2"/>
<rect x="694.85" y="539.61" width="5.17" height="5.17" fill="#cdcde6"/>
<rect x="699.87" y="539.61" width="5.17" height="5.17" fill="#d1d1e8"/>
<rect x="704.89" y="539.61" width="5.17" height="5.17" fill="#202090"/>
<rect x="709.91" y="539.61" width="5.17" height="5.17" fill="#000080"/>
<rect x="714.94" y="539.61" width="5.17" height="5.17" fill="#292994"/>
<rect x="719.96" y="539.61" width="5.17" height="5.17" fill="#0f0f87"/>
<rect x="724.98" y="539.61" width="5.17" height="5.17" fill="#080884"/>
<rect x="730.00" y="539.61" width="5.17" height="5.17" fill="#1d1d8f"/>
<rect x="735.02" y="539.61" width="5.17" height="5.17" fill="#000080"/>
<rect x="740.05" y="539.61" width="5.17" height="5.17" fill="#3c3c9e"/>
<rect x="745.07" y="539.61" width="5.17" height="5.17" fill="#d0d0e8"/>
<rect x="755.11" y="539.61" width="5.17" height="5.17" fill="#e7e7f3"/>
<rect x="760.13" y="539.61" width="5.17" height="5.17" fill="#1c1c8e"/>
<rect x="765.16" y="539.61" width="5.17" height="5.17" fill="#000080"/>
<rect x="770.18" y="539.61" width="5.17" height="5.17" fill="#8787c3"/>
<rect x="775.20" y="539.61" width="5.17" height="5.17" fill="#070783"/>
<rect x="780.22" y="539.61" width="5.17" height="5.17" fill="#272793"/>
<rect x="790.27" y="539.61" width="5.17" height="5.17" fill="#5757ac"/>
<rect x="795.29" y="539.61" width="5.17" height="5.17" fill="#000080"/>
<rect x="800.31" y="539.61" width="5.17" height="5.17" fill="#7272b9"/>
<rect x="830.44" y="539.61" width="5.17" height="5.17" fill="#ffafaf"/>
<rect x="835.46" y="539.61" width="5.17" height="5.17" fill="#ff0000"/>
<rect x="840.49" y="539.61" width="5.17" height="5.17" fill="#ff0000"/>
<rect x="845.51" y="539.61" width="5.17" height="5.17" fill="#ffbaba"/>
<rect x="860.57" y="539.61" width="5.17" height="5.17" fill="#ff3f3f"/>
<rect x="865.60" y="539.61" width="5.17" height="5.17" fill="#ff0404"/>
<rect x="870.62" y="539.61" width="5.17" height="5.17" fill="#ffefef"/>
<rect x="910.79" y="539.61" width="5.17" height="5.17" fill="#f6f6ff"/>
<rect x="915.82" y="539.61" width="5.17" height="5.17" fill="#2121ff"/>
<rect x="920.84" y="539.61" width="5.17" height="5.17" fill="#0303ff"/>
<rect x="925.86" y="539.61" width="5.17" height="5.17" fill="#d8d8ff"/>
<rect x="945.95" y="539.61" width="5.17" height="5.17" fill="#131313"/>
<rect x="950.97" y="539.61" width="5.17" height="5.17" fill="#171717"/>
<rect x="579.34" y="544.63" width="5.17" height="5.17" fill="#c1c1c1"/>
<rect x="584.36" y="544.63" width="5.17" height="5.17" fill="#060606"/>
<rect x="589.39" y="544.63" width="5.17" height="5.17" fill="#181818"/>
<rect x="594.41" y="544.63" width="5.17" height="5.17" fill="#e7e7e7"/>
<rect x="609.47" y="544.63" width="5.17" height="5.17" fill="#3939ff"/>
<rect x="614.50" y="544.63" width="5.17" height="5.17" fill="#0a0aff"/>
<rect x="619.52" y="544.63" width="5.17" height="5.17" fill="#d6d6ff"/>
<rect x="644.63" y="544.63" width="5.17" height="5.17" fill="#ffefef"/>
<rect x="649.65" y="544.63" width="5.17" height="5.17" fill="#ff2f2f"/>
<rect x="654.67" y="544.63" width="5.17" height="5.17" fill="#ff0000"/>
<rect x="659.69" y="544.63" width="5.17" height="5.17" fill="#ff1919"/>
<rect x="664.72" y="544.63" width="5.17" height="5.17" fill="#ff8787"/>
<rect x="684.80" y="544.63" width="5.17" height="5.17" fill="#b2b2d9"/>
<rect x="689.83" y="544.63" width="5.17" height="5.17" fill="#050583"/>
<rect x="694.85" y="544.63" width="5.17" height="5.17" fill="#000080"/>
<rect x="699.87" y="544.63" width="5.17" height="5.17" fill="#040482"/>
<rect x="704.89" y="544.63" width="5.17" height="5.17" fill="#030382"/>
<rect x="709.91" y="544.63" width="5.17" height="5.17" fill="#7f7fbf"/>
<rect x="719.96" y="544.63" width="5.17" height="5.17" fill="#b7b7db"/>
<rect x="724.98" y="544.63" width="5.17" height="5.17" fill="#292995"/>
<rect x="730.00" y="544.63" width="5.17" height="5.17" fill="#262693"/>
<rect x="735.02" y="544.63" width="5.17" height="5.17" fill="#4f4fa7"/>
<rect x="740.05" y="544.63" width="5.17" height="5.17" fill="#f6f6fb"/>
<rect x="760.13" y="544.63" width="5.17" height="5.17" fill="#c9c9e4"/>
<rect x="765.16" y="544.63" width="5.17" height="5.17" fill="#7b7bbd"/>
<rect x="775.20" y="544.63" width="5.17" height="5.17" fill="#34349a"/>
<rect x="780.22" y="544.63" width="5.17" height="5.17" fill="#020281"/>
<rect x="785.24" y="544.63" width="5.17" height="5.17" fill="#4040a0"/>
<rect x="790.27" y="544.63" width="5.17" height="5.17" fill="#000080"/>
<rect x="795.29" y="544.63" width="5.17" height="5.17" fill="#000080"/>
<rect x="800.31" y="544.63" width="5.17" height="5.17" fill="#020281"/>
<rect x="805.33" y="544.63" width="5.17" height="5.17" fill="#d9d9ec"/>
<rect x="830.44" y="544.63" width="5.17" height="5.17" fill="#ffc6c6"/>
<rect x="835.46" y="544.63" width="5.17" height="5.17" fill="#ff0000"/>
<rect x="840.49" y="544.63" width="5.17" height="5.17" fill="#ff4949"/>
<rect x="860.57" y="544.63" width="5.17" height="5.17" fill="#ff8888"/>
<rect x="865.60" y="544.63" width="5.17" height="5.17" fill="#ff0000"/>
<rect x="870.62" y="544.63" width="5.17" height="5.17" fill="#ff7373"/>
<rect x="915.82" y="544.63" width="5.17" height="5.17" fill="#afafff"/>
<rect x="920.84" y="544.63" width="5.17" height="5.17" fill="#0000ff"/>
<rect x="925.86" y="544.63" width="5.17" height="5.17" fill="#7979ff"/>
<rect x="945.95" y="544.63" width="5.17" height="5.17" fill="#656565"/>
<rect x="950.97" y="544.63" width="5.17" height="5.17" fill="#000000"/>
<rect x="955.99" y="544.63" width="5.17" height="5.17" fill="#c8c8c8"/>
<rect x="574.32" y="549.66" width="5.17" height="5.17" fill="#f1f1f1"/>
<rect x="579.34" y="549.66" width="5.17" height="5.17" fill="#232323"/>
<rect x="584.36" y="549.66" width="5.17" height="5.17" fill="#040404"/>
<rect x="589.39" y="549.66" width="5.17" height="5.17" fill="#c8c8c8"/>
<rect x="604.45" y="549.66" width="5.17" height="5.17" fill="#b1b1ff"/>
<rect x="609.47" y="549.66" width="5.17" height="5.17" fill="#0000ff"/>
<rect x="614.50" y="549.66" width="5.17" height="5.17" fill="#4949ff"/>
<rect x="644.63" y="549.66" width="5.17" height="5.17" fill="#ff7070"/>
<rect x="649.65" y="549.66" width="5.17" height="5.17" fill="#ff0000"/>
<rect x="654.67" y="549.66" width="5.17" height="5.17" fill="#ff6363"/>
<rect x="679.78" y="549.66" width="5.17" height="5.17" fill="#cbcbe5"/>
<rect x="684.80" y="549.66" width="5.17" height="5.17" fill="#060683"/>
<rect x="689.83" y="549.66" width="5.17" height="5.17" fill="#0d0d87"/>
<rect x="694.85" y="549.66" width="5.17" height="5.17" fill="#4e4ea7"/>
<rect x="699.87" y="549.66" width="5.17" height="5.17" fill="#13138a"/>
<rect x="704.89" y="549.66" width="5.17" height="5.17" fill="#bbbbdd"/>
<rect x="775.20" y="549.66" width="5.17" height="5.17" fill="#6a6ab5"/>
<rect x="780.22" y="549.66" width="5.17" height="5.17" fill="#000080"/>
<rect x="785.24" y="549.66" width="5.17" height="5.17" fill="#000080"/>
<rect x="790.27" y="549.66" width="5.17" height="5.17" fill="#303098"/>
<rect x="795.29" y="549.66" width="5.17" height="5.17" fill="#9292c9"/>
<rect x="800.31" y="549.66" width="5.17" height="5.17" fill="#000080"/>
<rect x="805.33" y="549.66" width="5.17" height="5.17" fill="#5b5bad"/>
<rect x="815.38" y="549.66" width="5.17" height="5.17" fill="#d6d6ea"/>
<rect x="820.40" y="549.66" width="5.17" height="5.17" fill="#6868b4"/>
<rect x="825.42" y="549.66" width="5.17" height="5.17" fill="#c6c6e2"/>
<rect x="830.44" y="549.66" width="5.17" height="5.17" fill="#f7f7fb"/>
<rect x="835.46" y="549.66" width="5.17" height="5.17" fill="#ffdbdb"/>
<rect x="860.57" y="549.66" width="5.17" height="5.17" fill="#ffefef"/>
<rect x="865.60" y="549.66" width="5.17" height="5.17" fill="#ff2525"/>
<rect x="870.62" y="549.66" width="5.17" height="5.17" fill="#ff0808"/>
<rect x="875.64" y="549.66" width="5.17" height="5.17" fill="#fff2f2"/>
<rect x="920.84" y="549.66" width="5.17" height="5.17" fill="#0f0fff"/>
<rect x="925.86" y="549.66" width="5.17" height="5.17" fill="#2626ff"/>
<rect x="945.95" y="549.66" width="5.17" height="5.17" fill="#919191"/>
<rect x="950.97" y="549.66" width="5.17" height="5.17" fill="#000000"/>
<rect x="955.99" y="549.66" width="5.17" height="5.17" fill="#a6a6a6"/>
<rect x="574.32" y="554.68" width="5.17" height="5.17" fill="#9c9c9c"/>
<rect x="579.34" y="554.68" width="5.17" height="5.17" fill="#000000"/>
<rect x="584.36" y="554.68" width="5.17" height="5.17" fill="#757575"/>
<rect x="604.45" y="554.68" width="5.17" height="5.17" fill="#2828ff"/>
<rect x="609.47" y="554.68" width="5.17" height="5.17" fill="#0707ff"/>
<rect x="614.50" y="554.68" width="5.17" height="5.17" fill="#d4d4ff"/>
<rect x="639.61" y="554.68" width="5.17" height="5.17" fill="#ffa9a9"/>
<rect x="644.63" y="554.68" width="5.17" height="5.17" fill="#ff0404"/>
<rect x="649.65" y="554.68" width="5.17" height="5.17" fill="#ff1b1b"/>
<rect x="654.67" y="554.68" width="5.17" height="5.17" fill="#fff4f4"/>
<rect x="679.78" y="554.68" width="5.17" height="5.17" fill="#5b5bad"/>
<rect x="684.80" y="554.68" width="5.17" height="5.17" fill="#000080"/>
<rect x="689.83" y="554.68" width="5.17" height="5.17" fill="#b4b4da"/>
<rect x="775.20" y="554.68" width="5.17" height="5.17" fill="#a6a6d3"/>
<rect x="780.22" y="554.68" width="5.17" height="5.17" fill="#000080"/>
<rect x="785.24" y="554.68" width="5.17" height="5.17" fill="#000080"/>
<rect x="790.27" y="554.68" width="5.17" height="5.17" fill="#7a7abd"/>
<rect x="800.31" y="554.68" width="5.17" height="5.17" fill="#323299"/>
<rect x="805.33" y="554.68" width="5.17" height="5.17" fill="#000080"/>
<rect x="810.35" y="554.68" width="5.17" height="5.17" fill="#9090c8"/>
<rect x="815.38" y="554.68" width="5.17" height="5.17" fill="#4242a1"/>
<rect x="820.40" y="554.68" width="5.17" height="5.17" fill="#000080"/>
<rect x="825.42" y="554.68" width="5.17" height="5.17" fill="#000080"/>
<rect x="830.44" y="554.68" width="5.17" height="5.17" fill="#060683"/>
<rect x="835.46" y="554.68" width="5.17" height="5.17" fill="#b8b8db"/>
<rect x="865.60" y="554.68" width="5.17" height="5.17" fill="#ff9090"/>
<rect x="870.62" y="554.68" width="5.17" height="5.17" fill="#ff0000"/>
<rect x="875.64" y="554.68" width="5.17" height="5.17" fill="#ff7070"/>
<rect x="920.84" y="554.68" width="5.17" height="5.17" fill="#6565ff"/>
<rect x="925.86" y="554.68" width="5.17" height="5.17" fill="#0000ff"/>
<rect x="930.88" y="554.68" width="5.17" height="5.17" fill="#b6b6ff"/>
<rect x="945.95" y="554.68" width="5.17" height="5.17" fill="#b8b8b8"/>
<rect x="950.97" y="554.68" width="5.17" height="5.17" fill="#000000"/>
<rect x="955.99" y="554.68" width="5.17" height="5.17" fill="#727272"/>
<rect x="569.30" y="559.70" width="5.17" height="5.17" fill="#e5e5e5"/>
<rect x="574.32" y="559.70" width="5.17" height="5.17" fill="#1f1f1f"/>
<rect x="579.34" y="559.70" width="5.17" height="5.17" fill="#040404"/>
<rect x="584.36" y="559.70" width="5.17" height="5.17" fill="#e3e3e3"/>
<rect x="599.43" y="559.70" width="5.17" height="5.17" fill="#bdbdff"/>
<rect x="604.45" y="559.70" width="5.17" height="5.17" fill="#0000ff"/>
<rect x="609.47" y="559.70" width="5.17" height="5.17" fill="#6969ff"/>
<rect x="634.58" y="559.70" width="5.17" height="5.17" fill="#ffbbbb"/>
<rect x="639.61" y="559.70" width="5.17" height="5.17" fill="#ff0606"/>
<rect x="644.63" y="559.70" width="5.17" height="5.17" fill="#ff1212"/>
<rect x="649.65" y="559.70" width="5.17" height="5.17" fill="#ffc7c7"/>
<rect x="679.78" y="559.70" width="5.17" height="5.17" fill="#14148a"/>
<rect x="684.80" y="559.70" width="5.17" height="5.17" fill="#212191"/>
<rect x="780.22" y="559.70" width="5.17" height="5.17" fill="#030382"/>
<rect x="785.24" y="559.70" width="5.17" height="5.17" fill="#000080"/>
<rect x="790.27" y="559.70" width="5.17" height="5.17" fill="#b0b0d8"/>
<rect x="800.31" y="559.70" width="5.17" height="5.17" fill="#e7e7f3"/>
<rect x="805.33" y="559.70" width="5.17" height="5.17" fill="#101088"/>
<rect x="810.35" y="559.70" width="5.17" height="5.17" fill="#020281"/>
<rect x="815.38" y="559.70" width="5.17" height="5.17" fill="#000080"/>
<rect x="820.40" y="559.70" width="5.17" height="5.17" fill="#4747a3"/>
<rect x="825.42" y="559.70" width="5.17" height="5.17" fill="#6666b3"/>
<rect x="830.44" y="559.70" width="5.17" height="5.17" fill="#060683"/>
<rect x="835.46" y="559.70" width="5.17" height="5.17" fill="#18188c"/>
<rect x="840.49" y="559.70" width="5.17" height="5.17" fill="#f0f0f8"/>
<rect x="865.60" y="559.70" width="5.17" height="5.17" fill="#ffe7e7"/>
<rect x="870.62" y="559.70" width="5.17" height="5.17" fill="#ff2929"/>
<rect x="875.64" y="559.70" width="5.17" height="5.17" fill="#ff0000"/>
<rect x="880.66" y="559.70" width="5.17" height="5.17" fill="#ff9d9d"/>
<rect x="920.84" y="559.70" width="5.17" height="5.17" fill="#d4d4ff"/>
<rect x="925.86" y="559.70" width="5.17" height="5.17" fill="#0909ff"/>
<rect x="930.88" y="559.70" width="5.17" height="5.17" fill="#1010ff"/>
<rect x="935.90" y="559.70" width="5.17" height="5.17" fill="#eeeeff"/>
<rect x="945.95" y="559.70" width="5.17" height="5.17" fill="#f6f6f6"/>
<rect x="950.97" y="559.70" width="5.17" height="5.17" fill="#111111"/>
<rect x="955.99" y="559.70" width="5.17" height="5.17" fill="#282828"/>
<rect x="569.30" y="564.72" width="5.17" height="5.17" fill="#7c7c7c"/>
<rect x="574.32" y="564.72" width="5.17" height="5.17" fill="#000000"/>
<rect x="579.34" y="564.72" width="5.17" height="5.17" fill="#848484"/>
<rect x="594.41" y="564.72" width="5.17" height="5.17" fill="#f5f5ff"/>
<rect x="599.43" y="564.72" width="5.17" height="5.17" fill="#5c5cff"/>
<rect x="604.45" y="564.72" width="5.17" height="5.17" fill="#0000ff"/>
<rect x="609.47" y="564.72" width="5.17" height="5.17" fill="#c6c6ff"/>
<rect x="634.58" y="564.72" width="5.17" height="5.17" fill="#ff2929"/>
<rect x="639.61" y="564.72" width="5.17" height="5.17" fill="#ff0a0a"/>
<rect x="644.63" y="564.72" width="5.17" height="5.17" fill="#ffcdcd"/>
<rect x="674.76" y="564.72" width="5.17" height="5.17" fill="#cbcbe5"/>
<rect x="679.78" y="564.72" width="5.17" height="5.17" fill="#000080"/>
<rect x="684.80" y="564.72" width="5.17" height="5.17" fill="#6d6db6"/>
<rect x="780.22" y="564.72" width="5.17" height="5.17" fill="#313198"/>
<rect x="785.24" y="564.72" width="5.17" height="5.17" fill="#000080"/>
<rect x="790.27" y="564.72" width="5.17" height="5.17" fill="#d7d7eb"/>
<rect x="805.33" y="564.72" width="5.17" height="5.17" fill="#a1a1d0"/>
<rect x="810.35" y="564.72" width="5.17" height="5.17" fill="#000080"/>
<rect x="815.38" y="564.72" width="5.17" height="5.17" fill="#282894"/>
<rect x="820.40" y="564.72" width="5.17" height="5.17" fill="#ebebf5"/>
<rect x="830.44" y="564.72" width="5.17" height="5.17" fill="#7777bb"/>
<rect x="835.46" y="564.72" width="5.17" height="5.17" fill="#000080"/>
<rect x="840.49" y="564.72" width="5.17" height="5.17" fill="#9494ca"/>
<rect x="870.62" y="564.72" width="5.17" height="5.17" fill="#ffe6e6"/>
<rect x="875.64" y="564.72" width="5.17" height="5.17" fill="#ff0c0c"/>
<rect x="880.66" y="564.72" width="5.17" height="5.17" fill="#ff1919"/>
<rect x="885.68" y="564.72" width="5.17" height="5.17" fill="#fff5f5"/>
<rect x="925.86" y="564.72" width="5.17" height="5.17" fill="#8686ff"/>
<rect x="930.88" y="564.72" width="5.17" height="5.17" fill="#0000ff"/>
<rect x="935.90" y="564.72" width="5.17" height="5.17" fill="#8f8fff"/>
<rect x="950.97" y="564.72" width="5.17" height="5.17" fill="#565656"/>
<rect x="955.99" y="564.72" width="5.17" height="5.17" fill="#010101"/>
<rect x="961.01" y="564.72" width="5.17" height="5.17" fill="#dbdbdb"/>
<rect x="569.30" y="569.74" width="5.17" height="5.17" fill="#141414"/>
<rect x="574.32" y="569.74" width="5.17" height="5.17" fill="#1f1f1f"/>
<rect x="589.39" y="569.74" width="5.17" height="5.17" fill="#9898ff"/>
<rect x="594.41" y="569.74" width="5.17" height="5.17" fill="#0404ff"/>
<rect x="599.43" y="569.74" width="5.17" height="5.17" fill="#0000ff"/>
<rect x="604.45" y="569.74" width="5.17" height="5.17" fill="#3535ff"/>
<rect x="629.56" y="569.74" width="5.17" height="5.17" fill="#ff9a9a"/>
<rect x="634.58" y="569.74" width="5.17" height="5.17" fill="#ff0000"/>
<rect x="639.61" y="569.74" width="5.17" height="5.17" fill="#ff7e7e"/>
<rect x="674.76" y="569.74" width="5.17" height="5.17" fill="#9797cb"/>
<rect x="679.78" y="569.74" width="5.17" height="5.17" fill="#000080"/>
<rect x="684.80" y="569.74" width="5.17" height="5.17" fill="#9a9acd"/>
<rect x="780.22" y="569.74" width="5.17" height="5.17" fill="#bebedf"/>
<rect x="785.24" y="569.74" width="5.17" height="5.17" fill="#7575ba"/>
<rect x="810.35" y="569.74" width="5.17" height="5.17" fill="#afafd7"/>
<rect x="815.38" y="569.74" width="5.17" height="5.17" fill="#e6e6f3"/>
<rect x="830.44" y="569.74" width="5.17" height="5.17" fill="#f1f1f8"/>
<rect x="835.46" y="569.74" width="5.17" height="5.17" fill="#040482"/>
<rect x="840.49" y="569.74" width="5.17" height="5.17" fill="#4444a2"/>
<rect x="875.64" y="569.74" width="5.17" height="5.17" fill="#ff8181"/>
<rect x="880.66" y="569.74" width="5.17" height="5.17" fill="#ff0000"/>
<rect x="885.68" y="569.74" width="5.17" height="5.17" fill="#ff8e8e"/>
<rect x="925.86" y="569.74" width="5.17" height="5.17" fill="#eaeaff"/>
<rect x="930.88" y="569.74" width="5.17" height="5.17" fill="#0b0bff"/>
<rect x="935.90" y="569.74" width="5.17" height="5.17" fill="#2525ff"/>
<rect x="950.97" y="569.74" width="5.17" height="5.17" fill="#adadad"/>
<rect x="955.99" y="569.74" width="5.17" height="5.17" fill="#000000"/>
<rect x="961.01" y="569.74" width="5.17" height="5.17" fill="#474747"/>
<rect x="564.28" y="574.77" width="5.17" height="5.17" fill="#a3a3a3"/>
<rect x="569.30" y="574.77" width="5.17" height="5.17" fill="#000000"/>
<rect x="574.32" y="574.77" width="5.17" height="5.17" fill="#7e7e7e"/>
<rect x="584.36" y="574.77" width="5.17" height="5.17" fill="#9393ff"/>
<rect x="589.39" y="574.77" width="5.17" height="5.17" fill="#0000ff"/>
<rect x="594.41" y="574.77" width="5.17" height="5.17" fill="#2121ff"/>
<rect x="599.43" y="574.77" width="5.17" height="5.17" fill="#7979ff"/>
<rect x="604.45" y="574.77" width="5.17" height="5.17" fill="#e4e4ff"/>
<rect x="629.56" y="574.77" width="5.17" height="5.17" fill="#ff2020"/>
<rect x="634.58" y="574.77" width="5.17" height="5.17" fill="#ff1111"/>
<rect x="639.61" y="574.77" width="5.17" height="5.17" fill="#ffeded"/>
<rect x="664.72" y="574.77" width="5.17" height="5.17" fill="#cdcde6"/>
<rect x="669.74" y="574.77" width="5.17" height="5.17" fill="#6060b0"/>
<rect x="674.76" y="574.77" width="5.17" height="5.17" fill="#101088"/>
<rect x="679.78" y="574.77" width="5.17" height="5.17" fill="#101088"/>
<rect x="684.80" y="574.77" width="5.17" height="5.17" fill="#ededf6"/>
<rect x="835.46" y="574.77" width="5.17" height="5.17" fill="#3a3a9d"/>
<rect x="840.49" y="574.77" width="5.17" height="5.17" fill="#080884"/>
<rect x="845.51" y="574.77" width="5.17" height="5.17" fill="#f5f5fa"/>
<rect x="875.64" y="574.77" width="5.17" height="5.17" fill="#fff6f6"/>
<rect x="880.66" y="574.77" width="5.17" height="5.17" fill="#ff1111"/>
<rect x="885.68" y="574.77" width="5.17" height="5.17" fill="#ff0000"/>
<rect x="890.71" y="574.77" width="5.17" height="5.17" fill="#ff5e5e"/>
<rect x="930.88" y="574.77" width="5.17" height="5.17" fill="#6969ff"/>
<rect x="935.90" y="574.77" width="5.17" height="5.17" fill="#0000ff"/>
<rect x="940.93" y="574.77" width="5.17" height="5.17" fill="#b5b5ff"/>
<rect x="955.99" y="574.77" width="5.17" height="5.17" fill="#525252"/>
<rect x="961.01" y="574.77" width="5.17" height="5.17" fill="#000000"/>
<rect x="966.04" y="574.77" width="5.17" height="5.17" fill="#797979"/>
<rect x="559.25" y="579.79" width="5.17" height="5.17" fill="#dbdbdb"/>
<rect x="564.28" y="579.79" width="5.17" height="5.17" fill="#0d0d0d"/>
<rect x="569.30" y="579.79" width="5.17" height="5.17" fill="#161616"/>
<rect x="574.32" y="579.79" width="5.17" height="5.17" fill="#e2e2e2"/>
<rect x="579.34" y="579.79" width="5.17" height="5.17" fill="#e1e1ff"/>
<rect x="584.36" y="579.79" width="5.17" height="5.17" fill="#0b0bff"/>
<rect x="589.39" y="579.79" width="5.17" height="5.17" fill="#2020ff"/>
<rect x="594.41" y="579.79" width="5.17" height="5.17" fill="#e8e8ff"/>
<rect x="624.54" y="579.79" width="5.17" height="5.17" fill="#ffa9a9"/>
<rect x="629.56" y="579.79" width="5.17" height="5.17" fill="#ff0000"/>
<rect x="634.58" y="579.79" width="5.17" height="5.17" fill="#ff8383"/>
<rect x="664.72" y="579.79" width="5.17" height="5.17" fill="#37379b"/>
<rect x="669.74" y="579.79" width="5.17" height="5.17" fill="#010180"/>
<rect x="674.76" y="579.79" width="5.17" height="5.17" fill="#323299"/>
<rect x="679.78" y="579.79" width="5.17" height="5.17" fill="#a5a5d2"/>
<rect x="835.46" y="579.79" width="5.17" height="5.17" fill="#8c8cc6"/>
<rect x="840.49" y="579.79" width="5.17" height="5.17" fill="#000080"/>
<rect x="845.51" y="579.79" width="5.17" height="5.17" fill="#9d9dce"/>
<rect x="880.66" y="579.79" width="5.17" height="5.17" fill="#ffbfbf"/>
<rect x="885.68" y="579.79" width="5.17" height="5.17" fill="#ff4343"/>
<rect x="890.71" y="579.79" width="5.17" height="5.17" fill="#ff0000"/>
<rect x="895.73" y="579.79" width="5.17" height="5.17" fill="#ff9f9f"/>
<rect x="930.88" y="579.79" width="5.17" height="5.17" fill="#dcdcff"/>
<rect x="935.90" y="579.79" width="5.17" height="5.17" fill="#0202ff"/>
<rect x="940.93" y="579.79" width="5.17" height="5.17" fill="#1313ff"/>
<rect x="945.95" y="579.79" width="5.17" height="5.17" fill="#d6d6ff"/>
<rect x="955.99" y="579.79" width="5.17" height="5.17" fill="#f2f2f2"/>
<rect x="961.01" y="579.79" width="5.17" height="5.17" fill="#2d2d2d"/>
<rect x="966.04" y="579.79" width="5.17" height="5.17" fill="#020202"/>
<rect x="971.06" y="579.79" width="5.17" height="5.17" fill="#999999"/>
<rect x="559.25" y="584.81" width="5.17" height="5.17" fill="#474747"/>
<rect x="564.28" y="584.81" width="5.17" height="5.17" fill="#000000"/>
<rect x="569.30" y="584.81" width="5.17" height="5.17" fill="#b2b2b2"/>
<rect x="579.34" y="584.81" width="5.17" height="5.17" fill="#7070ff"/>
<rect x="584.36" y="584.81" width="5.17" height="5.17" fill="#0000ff"/>
<rect x="589.39" y="584.81" width="5.17" height="5.17" fill="#c1c1ff"/>
<rect x="624.54" y="584.81" width="5.17" height="5.17" fill="#ff4949"/>
<rect x="629.56" y="584.81" width="5.17" height="5.17" fill="#ff0101"/>
<rect x="634.58" y="584.81" width="5.17" height="5.17" fill="#ffdddd"/>
<rect x="654.67" y="584.81" width="5.17" height="5.17" fill="#9e9ecf"/>
<rect x="659.69" y="584.81" width="5.17" height="5.17" fill="#4444a2"/>
<rect x="664.72" y="584.81" width="5.17" height="5.17" fill="#000080"/>
<rect x="669.74" y="584.81" width="5.17" height="5.17" fill="#5656ab"/>
<rect x="835.46" y="584.81" width="5.17" height="5.17" fill="#f2f2f9"/>
<rect x="840.49" y="584.81" width="5.17" height="5.17" fill="#0e0e87"/>
<rect x="845.51" y="584.81" width="5.17" height="5.17" fill="#1f1f90"/>
<rect x="885.68" y="584.81" width="5.17" height="5.17" fill="#ffe7e7"/>
<rect x="890.71" y="584.81" width="5.17" height="5.17" fill="#ff0505"/>
<rect x="895.73" y="584.81" width="5.17" height="5.17" fill="#ff2525"/>
<rect x="900.75" y="584.81" width="5.17" height="5.17" fill="#ff6c6c"/>
<rect x="905.77" y="584.81" width="5.17" height="5.17" fill="#ff9d9d"/>
<rect x="935.90" y="584.81" width="5.17" height="5.17" fill="#a4a4ff"/>
<rect x="940.93" y="584.81" width="5.17" height="5.17" fill="#0202ff"/>
<rect x="945.95" y="584.81" width="5.17" height="5.17" fill="#3030ff"/>
<rect x="950.97" y="584.81" width="5.17" height="5.17" fill="#ddddff"/>
<rect x="961.01" y="584.81" width="5.17" height="5.17" fill="#d9d9d9"/>
<rect x="966.04" y="584.81" width="5.17" height="5.17" fill="#1d1d1d"/>
<rect x="971.06" y="584.81" width="5.17" height="5.17" fill="#0b0b0b"/>
<rect x="976.08" y="584.81" width="5.17" height="5.17" fill="#ededed"/>
<rect x="554.23" y="589.83" width="5.17" height="5.17" fill="#e9e9e9"/>
<rect x="559.25" y="589.83" width="5.17" height="5.17" fill="#000000"/>
<rect x="564.28" y="589.83" width="5.17" height="5.17" fill="#494949"/>
<rect x="579.34" y="589.83" width="5.17" height="5.17" fill="#0c0cff"/>
<rect x="584.36" y="589.83" width="5.17" height="5.17" fill="#3838ff"/>
<rect x="614.50" y="589.83" width="5.17" height="5.17" fill="#ffcfcf"/>
<rect x="619.52" y="589.83" width="5.17" height="5.17" fill="#ff7f7f"/>
<rect x="624.54" y="589.83" width="5.17" height="5.17" fill="#ff0101"/>
<rect x="629.56" y="589.83" width="5.17" height="5.17" fill="#ff4444"/>
<rect x="649.65" y="589.83" width="5.17" height="5.17" fill="#9292c9"/>
<rect x="654.67" y="589.83" width="5.17" height="5.17" fill="#010180"/>
<rect x="659.69" y="589.83" width="5.17" height="5.17" fill="#0b0b86"/>
<rect x="664.72" y="589.83" width="5.17" height="5.17" fill="#5252a9"/>
<rect x="669.74" y="589.83" width="5.17" height="5.17" fill="#d4d4e9"/>
<rect x="840.49" y="589.83" width="5.17" height="5.17" fill="#8585c2"/>
<rect x="845.51" y="589.83" width="5.17" height="5.17" fill="#000080"/>
<rect x="850.53" y="589.83" width="5.17" height="5.17" fill="#7070b8"/>
<rect x="890.71" y="589.83" width="5.17" height="5.17" fill="#ff8080"/>
<rect x="895.73" y="589.83" width="5.17" height="5.17" fill="#ff0303"/>
<rect x="900.75" y="589.83" width="5.17" height="5.17" fill="#ff0000"/>
<rect x="905.77" y="589.83" width="5.17" height="5.17" fill="#ff0000"/>
<rect x="910.79" y="589.83" width="5.17" height="5.17" fill="#ff4c4c"/>
<rect x="940.93" y="589.83" width="5.17" height="5.17" fill="#7c7cff"/>
<rect x="945.95" y="589.83" width="5.17" height="5.17" fill="#0000ff"/>
<rect x="950.97" y="589.83" width="5.17" height="5.17" fill="#1818ff"/>
<rect x="955.99" y="589.83" width="5.17" height="5.17" fill="#f0f0ff"/>
<rect x="966.04" y="589.83" width="5.17" height="5.17" fill="#959595"/>
<rect x="971.06" y="589.83" width="5.17" height="5.17" fill="#000000"/>
<rect x="976.08" y="589.83" width="5.17" height="5.17" fill="#8a8a8a"/>
<rect x="554.23" y="594.85" width="5.17" height="5.17" fill="#b2b2b2"/>
<rect x="559.25" y="594.85" width="5.17" height="5.17" fill="#000000"/>
<rect x="564.28" y="594.85" width="5.17" height="5.17" fill="#989898"/>
<rect x="579.34" y="594.85" width="5.17" height="5.17" fill="#0303ff"/>
<rect x="584.36" y="594.85" width="5.17" height="5.17" fill="#5b5bff"/>
<rect x="609.47" y="594.85" width="5.17" height="5.17" fill="#ffd6d6"/>
<rect x="614.50" y="594.85" width="5.17" height="5.17" fill="#ff1515"/>
<rect x="619.52" y="594.85" width="5.17" height="5.17" fill="#ff0000"/>
<rect x="624.54" y="594.85" width="5.17" height="5.17" fill="#ff0c0c"/>
<rect x="629.56" y="594.85" width="5.17" height="5.17" fill="#ffbdbd"/>
<rect x="644.63" y="594.85" width="5.17" height="5.17" fill="#8989c4"/>
<rect x="649.65" y="594.85" width="5.17" height="5.17" fill="#020281"/>
<rect x="654.67" y="594.85" width="5.17" height="5.17" fill="#2e2e97"/>
<rect x="659.69" y="594.85" width="5.17" height="5.17" fill="#e9e9f4"/>
<rect x="840.49" y="594.85" width="5.17" height="5.17" fill="#f6f6fa"/>
<rect x="845.51" y="594.85" width="5.17" height="5.17" fill="#4545a2"/>
<rect x="850.53" y="594.85" width="5.17" height="5.17" fill="#000080"/>
<rect x="855.55" y="594.85" width="5.17" height="5.17" fill="#4242a1"/>
<rect x="895.73" y="594.85" width="5.17" height="5.17" fill="#ffe0e0"/>
<rect x="900.75" y="594.85" width="5.17" height="5.17" fill="#ffdbdb"/>
<rect x="905.77" y="594.85" width="5.17" height="5.17" fill="#ff6060"/>
<rect x="910.79" y="594.85" width="5.17" height="5.17" fill="#ff0000"/>
<rect x="915.82" y="594.85" width="5.17" height="5.17" fill="#ff5151"/>
<rect x="920.84" y="594.85" width="5.17" height="5.17" fill="#ffd3d3"/>
<rect x="945.95" y="594.85" width="5.17" height="5.17" fill="#9b9bff"/>
<rect x="950.97" y="594.85" width="5.17" height="5.17" fill="#0000ff"/>
<rect x="955.99" y="594.85" width="5.17" height="5.17" fill="#6161ff"/>
<rect x="966.04" y="594.85" width="5.17" height="5.17" fill="#f2f2f2"/>
<rect x="971.06" y="594.85" width="5.17" height="5.17" fill="#1e1e1e"/>
<rect x="976.08" y="594.85" width="5.17" height="5.17" fill="#151515"/>
<rect x="981.10" y="594.85" width="5.17" height="5.17" fill="#eeeeee"/>
<rect x="549.21" y="599.88" width="5.17" height="5.17" fill="#f7f7f7"/>
<rect x="554.23" y="599.88" width="5.17" height="5.17" fill="#323232"/>
<rect x="559.25" y="599.88" width="5.17" height="5.17" fill="#010101"/>
<rect x="564.28" y="599.88" width="5.17" height="5.17" fill="#e1e1e1"/>
<rect x="574.32" y="599.88" width="5.17" height="5.17" fill="#f6f6ff"/>
<rect x="579.34" y="599.88" width="5.17" height="5.17" fill="#0000ff"/>
<rect x="584.36" y="599.88" width="5.17" height="5.17" fill="#6363ff"/>
<rect x="604.45" y="599.88" width="5.17" height="5.17" fill="#ffe4e4"/>
<rect x="609.47" y="599.88" width="5.17" height="5.17" fill="#ff0e0e"/>
<rect x="614.50" y="599.88" width="5.17" height="5.17" fill="#ff0707"/>
<rect x="619.52" y="599.88" width="5.17" height="5.17" fill="#ffb3b3"/>
<rect x="634.58" y="599.88" width="5.17" height="5.17" fill="#bfbfdf"/>
<rect x="639.61" y="599.88" width="5.17" height="5.17" fill="#5252a9"/>
<rect x="644.63" y="599.88" width="5.17" height="5.17" fill="#000080"/>
<rect x="649.65" y="599.88" width="5.17" height="5.17" fill="#313198"/>
<rect x="654.67" y="599.88" width="5.17" height="5.17" fill="#f0f0f7"/>
<rect x="845.51" y="599.88" width="5.17" height="5.17" fill="#f5f5fa"/>
<rect x="850.53" y="599.88" width="5.17" height="5.17" fill="#5757ab"/>
<rect x="855.55" y="599.88" width="5.17" height="5.17" fill="#000080"/>
<rect x="860.57" y="599.88" width="5.17" height="5.17" fill="#b6b6da"/>
<rect x="910.79" y="599.88" width="5.17" height="5.17" fill="#ff4141"/>
<rect x="915.82" y="599.88" width="5.17" height="5.17" fill="#ff0303"/>
<rect x="920.84" y="599.88" width="5.17" height="5.17" fill="#ff2f2f"/>
<rect x="950.97" y="599.88" width="5.17" height="5.17" fill="#4747ff"/>
<rect x="955.99" y="599.88" width="5.17" height="5.17" fill="#0000ff"/>
<rect x="961.01" y="599.88" width="5.17" height="5.17" fill="#8888ff"/>
<rect x="971.06" y="599.88" width="5.17" height="5.17" fill="#a1a1a1"/>
<rect x="976.08" y="599.88" width="5.17" height="5.17" fill="#000000"/>
<rect x="981.10" y="599.88" width="5.17" height="5.17" fill="#2b2b2b"/>
<rect x="986.12" y="599.88" width="5.17" height="5.17" fill="#ececec"/>
<rect x="549.21" y="604.90" width="5.17" height="5.17" fill="#919191"/>
<rect x="554.23" y="604.90" width="5.17" height="5.17" fill="#000000"/>
<rect x="559.25" y="604.90" width="5.17" height="5.17" fill="#777777"/>
<rect x="574.32" y="604.90" width="5.17" height="5.17" fill="#d9d9ff"/>
<rect x="579.34" y="604.90" width="5.17" height="5.17" fill="#0000ff"/>
<rect x="584.36" y="604.90" width="5.17" height="5.17" fill="#7575ff"/>
<rect x="604.45" y="604.90" width="5.17" height="5.17" fill="#ff8181"/>
<rect x="609.47" y="604.90" width="5.17" height="5.17" fill="#ff0000"/>
<rect x="614.50" y="604.90" width="5.17" height="5.17" fill="#ffacac"/>
<rect x="634.58" y="604.90" width="5.17" height="5.17" fill="#1e1e8f"/>
<rect x="639.61" y="604.90" width="5.17" height="5.17" fill="#050583"/>
<rect x="644.63" y="604.90" width="5.17" height="5.17" fill="#5757ab"/>
<rect x="649.65" y="604.90" width="5.17" height="5.17" fill="#f2f2f8"/>
<rect x="850.53" y="604.90" width="5.17" height="5.17" fill="#e0e0f0"/>
<rect x="855.55" y="604.90" width="5.17" height="5.17" fill="#010180"/>
<rect x="860.57" y="604.90" width="5.17" height="5.17" fill="#3e3e9f"/>
<rect x="865.60" y="604.90" width="5.17" height="5.17" fill="#6868b4"/>
<rect x="870.62" y="604.90" width="5.17" height="5.17" fill="#2a2a95"/>
<rect x="875.64" y="604.90" width="5.17" height="5.17" fill="#5454aa"/>
<rect x="880.66" y="604.90" width="5.17" height="5.17" fill="#c2c2e1"/>
<rect x="915.82" y="604.90" width="5.17" height="5.17" fill="#ff8787"/>
<rect x="920.84" y="604.90" width="5.17" height="5.17" fill="#ff0000"/>
<rect x="925.86" y="604.90" width="5.17" height="5.17" fill="#ffa2a2"/>
<rect x="950.97" y="604.90" width="5.17" height="5.17" fill="#ededff"/>
<rect x="955.99" y="604.90" width="5.17" height="5.17" fill="#2b2bff"/>
<rect x="961.01" y="604.90" width="5.17" height="5.17" fill="#0202ff"/>
<rect x="966.04" y="604.90" width="5.17" height="5.17" fill="#e4e4ff"/>
<rect x="976.08" y="604.90" width="5.17" height="5.17" fill="#838383"/>
<rect x="981.10" y="604.90" width="5.17" height="5.17" fill="#000000"/>
<rect x="986.12" y="604.90" width="5.17" height="5.17" fill="#898989"/>
<rect x="544.19" y="609.92" width="5.17" height="5.17" fill="#b6b6b6"/>
<rect x="549.21" y="609.92" width="5.17" height="5.17" fill="#060606"/>
<rect x="554.23" y="609.92" width="5.17" height="5.17" fill="#202020"/>
<rect x="559.25" y="609.92" width="5.17" height="5.17" fill="#f7f7f7"/>
<rect x="574.32" y="609.92" width="5.17" height="5.17" fill="#9e9eff"/>
<rect x="579.34" y="609.92" width="5.17" height="5.17" fill="#0000ff"/>
<rect x="584.36" y="609.92" width="5.17" height="5.17" fill="#a5a5ff"/>
<rect x="604.45" y="609.92" width="5.17" height="5.17" fill="#ff2626"/>
<rect x="609.47" y="609.92" width="5.17" height="5.17" fill="#ff1c1c"/>
<rect x="629.56" y="609.92" width="5.17" height="5.17" fill="#a3a3d1"/>
<rect x="634.58" y="609.92" width="5.17" height="5.17" fill="#000080"/>
<rect x="639.61" y="609.92" width="5.17" height="5.17" fill="#9696cb"/>
<rect x="855.55" y="609.92" width="5.17" height="5.17" fill="#7878bc"/>
<rect x="860.57" y="609.92" width="5.17" height="5.17" fill="#000080"/>
<rect x="865.60" y="609.92" width="5.17" height="5.17" fill="#000080"/>
<rect x="870.62" y="609.92" width="5.17" height="5.17" fill="#1a1a8d"/>
<rect x="875.64" y="609.92" width="5.17" height="5.17" fill="#040482"/>
<rect x="880.66" y="609.92" width="5.17" height="5.17" fill="#212191"/>
<rect x="885.68" y="609.92" width="5.17" height="5.17" fill="#f6f6fb"/>
<rect x="920.84" y="609.92" width="5.17" height="5.17" fill="#ff1a1a"/>
<rect x="925.86" y="609.92" width="5.17" height="5.17" fill="#ff2e2e"/>
<rect x="955.99" y="609.92" width="5.17" height="5.17" fill="#b2b2ff"/>
<rect x="961.01" y="609.92" width="5.17" height="5.17" fill="#0000ff"/>
<rect x="966.04" y="609.92" width="5.17" height="5.17" fill="#7b7bff"/>
<rect x="981.10" y="609.92" width="5.17" height="5.17" fill="#2f2f2f"/>
<rect x="986.12" y="609.92" width="5.17" height="5.17" fill="#0c0c0c"/>
<rect x="991.15" y="609.92" width="5.17" height="5.17" fill="#d6d6d6"/>
<rect x="544.19" y="614.94" width="5.17" height="5.17" fill="#2e2e2e"/>
<rect x="549.21" y="614.94" width="5.17" height="5.17" fill="#151515"/>
<rect x="554.23" y="614.94" width="5.17" height="5.17" fill="#e2e2e2"/>
<rect x="569.30" y="614.94" width="5.17" height="5.17" fill="#a4a4ff"/>
<rect x="574.32" y="614.94" width="5.17" height="5.17" fill="#2626ff"/>
<rect x="579.34" y="614.94" width="5.17" height="5.17" fill="#0808ff"/>
<rect x="584.36" y="614.94" width="5.17" height="5.17" fill="#efefff"/>
<rect x="599.43" y="614.94" width="5.17" height="5.17" fill="#ffb2b2"/>
<rect x="604.45" y="614.94" width="5.17" height="5.17" fill="#ff0000"/>
<rect x="609.47" y="614.94" width="5.17" height="5.17" fill="#ff7070"/>
<rect x="629.56" y="614.94" width="5.17" height="5.17" fill="#4949a5"/>
<rect x="634.58" y="614.94" width="5.17" height="5.17" fill="#080884"/>
<rect x="639.61" y="614.94" width="5.17" height="5.17" fill="#efeff7"/>
<rect x="860.57" y="614.94" width="5.17" height="5.17" fill="#5c5cae"/>
<rect x="865.60" y="614.94" width="5.17" height="5.17" fill="#5151a8"/>
<rect x="870.62" y="614.94" width="5.17" height="5.17" fill="#f6f6fb"/>
<rect x="875.64" y="614.94" width="5.17" height="5.17" fill="#9393c9"/>
<rect x="880.66" y="614.94" width="5.17" height="5.17" fill="#000080"/>
<rect x="885.68" y="614.94" width="5.17" height="5.17" fill="#4040a0"/>
<rect x="890.71" y="614.94" width="5.17" height="5.17" fill="#f7f7fb"/>
<rect x="920.84" y="614.94" width="5.17" height="5.17" fill="#ff9090"/>
<rect x="925.86" y="614.94" width="5.17" height="5.17" fill="#ff0000"/>
<rect x="930.88" y="614.94" width="5.17" height="5.17" fill="#ff9a9a"/>
<rect x="961.01" y="614.94" width="5.17" height="5.17" fill="#2e2eff"/>
<rect x="966.04" y="614.94" width="5.17" height="5.17" fill="#0808ff"/>
<rect x="971.06" y="614.94" width="5.17" height="5.17" fill="#c1c1ff"/>
<rect x="981.10" y="614.94" width="5.17" height="5.17" fill="#d5d5d5"/>
<rect x="986.12" y="614.94" width="5.17" height="5.17" fill="#090909"/>
<rect x="991.15" y="614.94" width="5.17" height="5.17" fill="#343434"/>
<rect x="539.17" y="619.96" width="5.17" height="5.17" fill="#9a9a9a"/>
<rect x="544.19" y="619.96" width="5.17" height="5.17" fill="#000000"/>
<rect x="549.21" y="619.96" width="5.17" height="5.17" fill="#8c8c8c"/>
<rect x="559.25" y="619.96" width="5.17" height="5.17" fill="#a2a2ff"/>
<rect x="564.28" y="619.96" width="5.17" height="5.17" fill="#2929ff"/>
<rect x="569.30" y="619.96" width="5.17" height="5.17" fill="#0000ff"/>
<rect x="574.32" y="619.96" width="5.17" height="5.17" fill="#1212ff"/>
<rect x="579.34" y="619.96" width="5.17" height="5.17" fill="#8d8dff"/>
<rect x="599.43" y="619.96" width="5.17" height="5.17" fill="#ff2626"/>
<rect x="604.45" y="619.96" width="5.17" height="5.17" fill="#ff1212"/>
<rect x="609.47" y="619.96" width="5.17" height="5.17" fill="#ffe6e6"/>
<rect x="624.54" y="619.96" width="5.17" height="5.17" fill="#9d9dce"/>
<rect x="629.56" y="619.96" width="5.17" height="5.17" fill="#000080"/>
<rect x="634.58" y="619.96" width="5.17" height="5.17" fill="#5959ac"/>
<rect x="880.66" y="619.96" width="5.17" height="5.17" fill="#7f7fbf"/>
<rect x="885.68" y="619.96" width="5.17" height="5.17" fill="#000080"/>
<rect x="890.71" y="619.96" width="5.17" height="5.17" fill="#6969b4"/>
<rect x="925.86" y="619.96" width="5.17" height="5.17" fill="#ff2525"/>
<rect x="930.88" y="619.96" width="5.17" height="5.17" fill="#ff1111"/>
<rect x="935.90" y="619.96" width="5.17" height="5.17" fill="#ffa9a9"/>
<rect x="961.01" y="619.96" width="5.17" height="5.17" fill="#c7c7ff"/>
<rect x="966.04" y="619.96" width="5.17" height="5.17" fill="#1212ff"/>
<rect x="971.06" y="619.96" width="5.17" height="5.17" fill="#0808ff"/>
<rect x="976.08" y="619.96" width="5.17" height="5.17" fill="#bbbbff"/>
<rect x="986.12" y="619.96" width="5.17" height="5.17" fill="#7d7d7d"/>
<rect x="991.15" y="619.96" width="5.17" height="5.17" fill="#000000"/>
<rect x="996.17" y="619.96" width="5.17" height="5.17" fill="#7e7e7e"/>
<rect x="534.14" y="624.99" width="5.17" height="5.17" fill="#cecece"/>
<rect x="539.17" y="624.99" width="5.17" height="5.17" fill="#080808"/>
<rect x="544.19" y="624.99" width="5.17" height="5.17" fill="#2b2b2b"/>
<rect x="549.21" y="624.99" width="5.17" height="5.17" fill="#f4f4f4"/>
<rect x="554.23" y="624.99" width="5.17" height="5.17" fill="#a4a4ff"/>
<rect x="559.25" y="624.99" width="5.17" height="5.17" fill="#0101ff"/>
<rect x="564.28" y="624.99" width="5.17" height="5.17" fill="#2323ff"/>
<rect x="569.30" y="624.99" width="5.17" height="5.17" fill="#9e9eff"/>
<rect x="594.41" y="624.99" width="5.17" height="5.17" fill="#ff6969"/>
<rect x="599.43" y="624.99" width="5.17" height="5.17" fill="#ff0000"/>
<rect x="604.45" y="624.99" width="5.17" height="5.17" fill="#ff9696"/>
<rect x="624.54" y="624.99" width="5.17" height="5.17" fill="#323299"/>
<rect x="629.56" y="624.99" width="5.17" height="5.17" fill="#18188c"/>
<rect x="885.68" y="624.99" width="5.17" height="5.17" fill="#5454aa"/>
<rect x="890.71" y="624.99" width="5.17" height="5.17" fill="#040482"/>
<rect x="895.73" y="624.99" width="5.17" height="5.17" fill="#d9d9ec"/>
<rect x="925.86" y="624.99" width="5.17" height="5.17" fill="#ffcbcb"/>
<rect x="930.88" y="624.99" width="5.17" height="5.17" fill="#ff1111"/>
<rect x="935.90" y="624.99" width="5.17" height="5.17" fill="#ff0000"/>
<rect x="940.93" y="624.99" width="5.17" height="5.17" fill="#ff3d3d"/>
<rect x="945.95" y="624.99" width="5.17" height="5.17" fill="#ffebeb"/>
<rect x="966.04" y="624.99" width="5.17" height="5.17" fill="#dbdbff"/>
<rect x="971.06" y="624.99" width="5.17" height="5.17" fill="#1b1bff"/>
<rect x="976.08" y="624.99" width="5.17" height="5.17" fill="#0e0eff"/>
<rect x="981.10" y="624.99" width="5.17" height="5.17" fill="#d9d9ff"/>
<rect x="986.12" y="624.99" width="5.17" height="5.17" fill="#f2f2f2"/>
<rect x="991.15" y="624.99" width="5.17" height="5.17" fill="#404040"/>
<rect x="996.17" y="624.99" width="5.17" height="5.17" fill="#010101"/>
<rect x="1001.19" y="624.99" width="5.17" height="5.17" fill="#d4d4d4"/>
<rect x="529.12" y="630.01" width="5.17" height="5.17" fill="#efefef"/>
<rect x="534.14" y="630.01" width="5.17" height="5.17" fill="#242424"/>
<rect x="539.17" y="630.01" width="5.17" height="5.17" fill="#0d0d0d"/>
<rect x="544.19" y="630.01" width="5.17" height="5.17" fill="#d6d6d6"/>
<rect x="549.21" y="630.01" width="5.17" height="5.17" fill="#e3e3ff"/>
<rect x="554.23" y="630.01" width="5.17" height="5.17" fill="#0707ff"/>
<rect x="559.25" y="630.01" width="5.17" height="5.17" fill="#2929ff"/>
<rect x="564.28" y="630.01" width="5.17" height="5.17" fill="#f0f0ff"/>
<rect x="584.36" y="630.01" width="5.17" height="5.17" fill="#ffdfdf"/>
<rect x="589.39" y="630.01" width="5.17" height="5.17" fill="#ffa7a7"/>
<rect x="594.41" y="630.01" width="5.17" height="5.17" fill="#ff0000"/>
<rect x="599.43" y="630.01" width="5.17" height="5.17" fill="#ff5555"/>
<rect x="619.52" y="630.01" width="5.17" height="5.17" fill="#8585c2"/>
<rect x="624.54" y="630.01" width="5.17" height="5.17" fill="#000080"/>
<rect x="629.56" y="630.01" width="5.17" height="5.17" fill="#7a7abd"/>
<rect x="885.68" y="630.01" width="5.17" height="5.17" fill="#d1d1e8"/>
<rect x="890.71" y="630.01" width="5.17" height="5.17" fill="#000080"/>
<rect x="895.73" y="630.01" width="5.17" height="5.17" fill="#7070b8"/>
<rect x="930.88" y="630.01" width="5.17" height="5.17" fill="#fff3f3"/>
<rect x="935.90" y="630.01" width="5.17" height="5.17" fill="#ff6e6e"/>
<rect x="940.93" y="630.01" width="5.17" height="5.17" fill="#ff0000"/>
<rect x="945.95" y="630.01" width="5.17" height="5.17" fill="#ffb2b2"/>
<rect x="971.06" y="630.01" width="5.17" height="5.17" fill="#cdcdff"/>
<rect x="976.08" y="630.01" width="5.17" height="5.17" fill="#0808ff"/>
<rect x="981.10" y="630.01" width="5.17" height="5.17" fill="#2828ff"/>
<rect x="986.12" y="630.01" width="5.17" height="5.17" fill="#ececff"/>
<rect x="991.15" y="630.01" width="5.17" height="5.17" fill="#d2d2d2"/>
<rect x="996.17" y="630.01" width="5.17" height="5.17" fill="#010101"/>
<rect x="1001.19" y="630.01" width="5.17" height="5.17" fill="#313131"/>
<rect x="1006.21" y="630.01" width="5.17" height="5.17" fill="#e3e3e3"/>
<rect x="524.10" y="635.03" width="5.17" height="5.17" fill="#e4e4e4"/>
<rect x="529.12" y="635.03" width="5.17" height="5.17" fill="#1e1e1e"/>
<rect x="534.14" y="635.03" width="5.17" height="5.17" fill="#010101"/>
<rect x="539.17" y="635.03" width="5.17" height="5.17" fill="#a7a7a7"/>
<rect x="549.21" y="635.03" width="5.17" height="5.17" fill="#9191ff"/>
<rect x="554.23" y="635.03" width="5.17" height="5.17" fill="#0000ff"/>
<rect x="559.25" y="635.03" width="5.17" height="5.17" fill="#c3c3ff"/>
<rect x="579.34" y="635.03" width="5.17" height="5.17" fill="#ffcdcd"/>
<rect x="584.36" y="635.03" width="5.17" height="5.17" fill="#ff1010"/>
<rect x="589.39" y="635.03" width="5.17" height="5.17" fill="#ff0202"/>
<rect x="594.41" y="635.03" width="5.17" height="5.17" fill="#ff0000"/>
<rect x="599.43" y="635.03" width="5.17" height="5.17" fill="#ffd7d7"/>
<rect x="614.50" y="635.03" width="5.17" height="5.17" fill="#acacd6"/>
<rect x="619.52" y="635.03" width="5.17" height="5.17" fill="#010181"/>
<rect x="624.54" y="635.03" width="5.17" height="5.17" fill="#4040a0"/>
<rect x="890.71" y="635.03" width="5.17" height="5.17" fill="#38389c"/>
<rect x="895.73" y="635.03" width="5.17" height="5.17" fill="#14148a"/>
<rect x="900.75" y="635.03" width="5.17" height="5.17" fill="#b2b2d9"/>
<rect x="935.90" y="635.03" width="5.17" height="5.17" fill="#ffaeae"/>
<rect x="940.93" y="635.03" width="5.17" height="5.17" fill="#ff0000"/>
<rect x="945.95" y="635.03" width="5.17" height="5.17" fill="#ffb2b2"/>
<rect x="976.08" y="635.03" width="5.17" height="5.17" fill="#a9a9ff"/>
<rect x="981.10" y="635.03" width="5.17" height="5.17" fill="#0101ff"/>
<rect x="986.12" y="635.03" width="5.17" height="5.17" fill="#4e4eff"/>
<rect x="996.17" y="635.03" width="5.17" height="5.17" fill="#989898"/>
<rect x="1001.19" y="635.03" width="5.17" height="5.17" fill="#040404"/>
<rect x="1006.21" y="635.03" width="5.17" height="5.17" fill="#171717"/>
<rect x="1011.23" y="635.03" width="5.17" height="5.17" fill="#c8c8c8"/>
<rect x="519.08" y="640.05" width="5.17" height="5.17" fill="#f5f5f5"/>
<rect x="524.10" y="640.05" width="5.17" height="5.17" fill="#393939"/>
<rect x="529.12" y="640.05" width="5.17" height="5.17" fill="#060606"/>
<rect x="534.14" y="640.05" width="5.17" height="5.17" fill="#b2b2b2"/>
<rect x="544.19" y="640.05" width="5.17" height="5.17" fill="#b6b6ff"/>
<rect x="549.21" y="640.05" width="5.17" height="5.17" fill="#1010ff"/>
<rect x="554.23" y="640.05" width="5.17" height="5.17" fill="#1414ff"/>
<rect x="574.32" y="640.05" width="5.17" height="5.17" fill="#ffcdcd"/>
<rect x="579.34" y="640.05" width="5.17" height="5.17" fill="#ff1111"/>
<rect x="584.36" y="640.05" width="5.17" height="5.17" fill="#ff0404"/>
<rect x="589.39" y="640.05" width="5.17" height="5.17" fill="#ff0000"/>
<rect x="594.41" y="640.05" width="5.17" height="5.17" fill="#ff2626"/>
<rect x="609.47" y="640.05" width="5.17" height="5.17" fill="#f2f2f8"/>
<rect x="614.50" y="640.05" width="5.17" height="5.17" fill="#18188c"/>
<rect x="619.52" y="640.05" width="5.17" height="5.17" fill="#242492"/>
<rect x="624.54" y="640.05" width="5.17" height="5.17" fill="#ececf5"/>
<rect x="890.71" y="640.05" width="5.17" height="5.17" fill="#b2b2d9"/>
<rect x="895.73" y="640.05" width="5.17" height="5.17" fill="#1b1b8d"/>
<rect x="900.75" y="640.05" width="5.17" height="5.17" fill="#000080"/>
<rect x="905.77" y="640.05" width="5.17" height="5.17" fill="#5757ab"/>
<rect x="935.90" y="640.05" width="5.17" height="5.17" fill="#ffbdbd"/>
<rect x="940.93" y="640.05" width="5.17" height="5.17" fill="#ff0000"/>
<rect x="945.95" y="640.05" width="5.17" height="5.17" fill="#ff5b5b"/>
<rect x="955.99" y="640.05" width="5.17" height="5.17" fill="#ffefef"/>
<rect x="961.01" y="640.05" width="5.17" height="5.17" fill="#ffdcdc"/>
<rect x="981.10" y="640.05" width="5.17" height="5.17" fill="#8383ff"/>
<rect x="986.12" y="640.05" width="5.17" height="5.17" fill="#0000ff"/>
<rect x="991.15" y="640.05" width="5.17" height="5.17" fill="#1d1dff"/>
<rect x="996.17" y="640.05" width="5.17" height="5.17" fill="#e0e0ff"/>
<rect x="1001.19" y="640.05" width="5.17" height="5.17" fill="#c0c0c0"/>
<rect x="1006.21" y="640.05" width="5.17" height="5.17" fill="#131313"/>
<rect x="1011.23" y="640.05" width="5.17" height="5.17" fill="#1e1e1e"/>
<rect x="1016.26" y="640.05" width="5.17" height="5.17" fill="#efefef"/>
<rect x="514.06" y="645.07" width="5.17" height="5.17" fill="#f0f0f0"/>
<rect x="519.08" y="645.07" width="5.17" height="5.17" fill="#3c3c3c"/>
<rect x="524.10" y="645.07" width="5.17" height="5.17" fill="#010101"/>
<rect x="529.12" y="645.07" width="5.17" height="5.17" fill="#959595"/>
<rect x="539.17" y="645.07" width="5.17" height="5.17" fill="#9d9dff"/>
<rect x="544.19" y="645.07" width="5.17" height="5.17" fill="#0303ff"/>
<rect x="549.21" y="645.07" width="5.17" height="5.17" fill="#1d1dff"/>
<rect x="554.23" y="645.07" width="5.17" height="5.17" fill="#ceceff"/>
<rect x="569.30" y="645.07" width="5.17" height="5.17" fill="#ffc1c1"/>
<rect x="574.32" y="645.07" width="5.17" height="5.17" fill="#ff1212"/>
<rect x="579.34" y="645.07" width="5.17" height="5.17" fill="#ff1212"/>
<rect x="584.36" y="645.07" width="5.17" height="5.17" fill="#ffc5c5"/>
<rect x="589.39" y="645.07" width="5.17" height="5.17" fill="#ff4b4b"/>
<rect x="594.41" y="645.07" width="5.17" height="5.17" fill="#ffb1b1"/>
<rect x="604.45" y="645.07" width="5.17" height="5.17" fill="#f2f2f8"/>
<rect x="609.47" y="645.07" width="5.17" height="5.17" fill="#4545a2"/>
<rect x="614.50" y="645.07" width="5.17" height="5.17" fill="#010180"/>
<rect x="619.52" y="645.07" width="5.17" height="5.17" fill="#b0b0d8"/>
<rect x="900.75" y="645.07" width="5.17" height="5.17" fill="#4d4da6"/>
<rect x="905.77" y="645.07" width="5.17" height="5.17" fill="#030381"/>
<rect x="910.79" y="645.07" width="5.17" height="5.17" fill="#cdcde6"/>
<rect x="915.82" y="645.07" width="5.17" height="5.17" fill="#efeff7"/>
<rect x="920.84" y="645.07" width="5.17" height="5.17" fill="#6868b4"/>
<rect x="925.86" y="645.07" width="5.17" height="5.17" fill="#cdcde6"/>
<rect x="940.93" y="645.07" width="5.17" height="5.17" fill="#ff5d5d"/>
<rect x="945.95" y="645.07" width="5.17" height="5.17" fill="#ff0000"/>
<rect x="950.97" y="645.07" width="5.17" height="5.17" fill="#ff7171"/>
<rect x="955.99" y="645.07" width="5.17" height="5.17" fill="#ff1717"/>
<rect x="961.01" y="645.07" width="5.17" height="5.17" fill="#ff1515"/>
<rect x="986.12" y="645.07" width="5.17" height="5.17" fill="#a3a3ff"/>
<rect x="991.15" y="645.07" width="5.17" height="5.17" fill="#0707ff"/>
<rect x="996.17" y="645.07" width="5.17" height="5.17" fill="#3131ff"/>
<rect x="1006.21" y="645.07" width="5.17" height="5.17" fill="#b2b2b2"/>
<rect x="1011.23" y="645.07" width="5.17" height="5.17" fill="#000000"/>
<rect x="1016.26" y="645.07" width="5.17" height="5.17" fill="#3b3b3b"/>
<rect x="1021.28" y="645.07" width="5.17" height="5.17" fill="#eaeaea"/>
<rect x="514.06" y="650.10" width="5.17" height="5.17" fill="#575757"/>
<rect x="519.08" y="650.10" width="5.17" height="5.17" fill="#000000"/>
<rect x="524.10" y="650.10" width="5.17" height="5.17" fill="#9a9a9a"/>
<rect x="529.12" y="650.10" width="5.17" height="5.17" fill="#d0d0ff"/>
<rect x="534.14" y="650.10" width="5.17" height="5.17" fill="#2b2bff"/>
<rect x="539.17" y="650.10" width="5.17" height="5.17" fill="#0202ff"/>
<rect x="544.19" y="650.10" width="5.17" height="5.17" fill="#3030ff"/>
<rect x="549.21" y="650.10" width="5.17" height="5.17" fill="#e7e7ff"/>
<rect x="564.28" y="650.10" width="5.17" height="5.17" fill="#ff9d9d"/>
<rect x="569.30" y="650.10" width="5.17" height="5.17" fill="#ff0101"/>
<rect x="574.32" y="650.10" width="5.17" height="5.17" fill="#ff2222"/>
<rect x="579.34" y="650.10" width="5.17" height="5.17" fill="#ffcfcf"/>
<rect x="594.41" y="650.10" width="5.17" height="5.17" fill="#efeff7"/>
<rect x="599.43" y="650.10" width="5.17" height="5.17" fill="#9393c9"/>
<rect x="604.45" y="650.10" width="5.17" height="5.17" fill="#1e1e8f"/>
<rect x="609.47" y="650.10" width="5.17" height="5.17" fill="#010180"/>
<rect x="614.50" y="650.10" width="5.17" height="5.17" fill="#9393c9"/>
<rect x="900.75" y="650.10" width="5.17" height="5.17" fill="#d6d6ea"/>
<rect x="905.77" y="650.10" width="5.17" height="5.17" fill="#0f0f87"/>
<rect x="910.79" y="650.10" width="5.17" height="5.17" fill="#4747a4"/>
<rect x="915.82" y="650.10" width="5.17" height="5.17" fill="#8686c3"/>
<rect x="920.84" y="650.10" width="5.17" height="5.17" fill="#000080"/>
<rect x="925.86" y="650.10" width="5.17" height="5.17" fill="#010181"/>
<rect x="930.88" y="650.10" width="5.17" height="5.17" fill="#5252a9"/>
<rect x="940.93" y="650.10" width="5.17" height="5.17" fill="#ffe3e3"/>
<rect x="945.95" y="650.10" width="5.17" height="5.17" fill="#ff0404"/>
<rect x="950.97" y="650.10" width="5.17" height="5.17" fill="#ff0000"/>
<rect x="955.99" y="650.10" width="5.17" height="5.17" fill="#ff1818"/>
<rect x="961.01" y="650.10" width="5.17" height="5.17" fill="#ff0000"/>
<rect x="966.04" y="650.10" width="5.17" height="5.17" fill="#ffcbcb"/>
<rect x="991.15" y="650.10" width="5.17" height="5.17" fill="#a5a5ff"/>
<rect x="996.17" y="650.10" width="5.17" height="5.17" fill="#0000ff"/>
<rect x="1001.19" y="650.10" width="5.17" height="5.17" fill="#4545ff"/>
<rect x="1006.21" y="650.10" width="5.17" height="5.17" fill="#dedeff"/>
<rect x="1011.23" y="650.10" width="5.17" height="5.17" fill="#9f9f9f"/>
<rect x="1016.26" y="650.10" width="5.17" height="5.17" fill="#050505"/>
<rect x="1021.28" y="650.10" width="5.17" height="5.17" fill="#181818"/>
<rect x="1026.30" y="650.10" width="5.17" height="5.17" fill="#d2d2d2"/>
<rect x="509.03" y="655.12" width="5.17" height="5.17" fill="#787878"/>
<rect x="514.06" y="655.12" width="5.17" height="5.17" fill="#000000"/>
<rect x="519.08" y="655.12" width="5.17" height="5.17" fill="#7c7c7c"/>
<rect x="524.10" y="655.12" width="5.17" height="5.17" fill="#f5f5ff"/>
<rect x="529.12" y="655.12" width="5.17" height="5.17" fill="#2b2bff"/>
<rect x="534.14" y="655.12" width="5.17" height="5.17" fill="#1515ff"/>
<rect x="539.17" y="655.12" width="5.17" height="5.17" fill="#6a6aff"/>
<rect x="544.19" y="655.12" width="5.17" height="5.17" fill="#ededff"/>
<rect x="559.25" y="655.12" width="5.17" height="5.17" fill="#ffd5d5"/>
<rect x="564.28" y="655.12" width="5.17" height="5.17" fill="#ff0101"/>
<rect x="569.30" y="655.12" width="5.17" height="5.17" fill="#ff4444"/>
<rect x="574.32" y="655.12" width="5.17" height="5.17" fill="#ffeded"/>
<rect x="594.41" y="655.12" width="5.17" height="5.17" fill="#35359a"/>
<rect x="599.43" y="655.12" width="5.17" height="5.17" fill="#010180"/>
<rect x="604.45" y="655.12" width="5.17" height="5.17" fill="#35359b"/>
<rect x="609.47" y="655.12" width="5.17" height="5.17" fill="#bcbcde"/>
<rect x="905.77" y="655.12" width="5.17" height="5.17" fill="#7272b9"/>
<rect x="910.79" y="655.12" width="5.17" height="5.17" fill="#040482"/>
<rect x="915.82" y="655.12" width="5.17" height="5.17" fill="#0c0c86"/>
<rect x="920.84" y="655.12" width="5.17" height="5.17" fill="#333399"/>
<rect x="925.86" y="655.12" width="5.17" height="5.17" fill="#7f7fbf"/>
<rect x="930.88" y="655.12" width="5.17" height="5.17" fill="#000080"/>
<rect x="935.90" y="655.12" width="5.17" height="5.17" fill="#6d6db6"/>
<rect x="945.95" y="655.12" width="5.17" height="5.17" fill="#ffa4a4"/>
<rect x="950.97" y="655.12" width="5.17" height="5.17" fill="#ffbcbc"/>
<rect x="955.99" y="655.12" width="5.17" height="5.17" fill="#ffcccc"/>
<rect x="961.01" y="655.12" width="5.17" height="5.17" fill="#ff0000"/>
<rect x="966.04" y="655.12" width="5.17" height="5.17" fill="#ff7676"/>
<rect x="996.17" y="655.12" width="5.17" height="5.17" fill="#8484ff"/>
<rect x="1001.19" y="655.12" width="5.17" height="5.17" fill="#0d0dff"/>
<rect x="1006.21" y="655.12" width="5.17" height="5.17" fill="#1515ff"/>
<rect x="1011.23" y="655.12" width="5.17" height="5.17" fill="#babaff"/>
<rect x="1016.26" y="655.12" width="5.17" height="5.17" fill="#cbcbcb"/>
<rect x="1021.28" y="655.12" width="5.17" height="5.17" fill="#1d1d1d"/>
<rect x="1026.30" y="655.12" width="5.17" height="5.17" fill="#0f0f0f"/>
<rect x="1031.32" y="655.12" width="5.17" height="5.17" fill="#bebebe"/>
<rect x="504.01" y="660.14" width="5.17" height="5.17" fill="#8c8c8c"/>
<rect x="509.03" y="660.14" width="5.17" height="5.17" fill="#000000"/>
<rect x="514.06" y="660.14" width="5.17" height="5.17" fill="#656565"/>
<rect x="524.10" y="660.14" width="5.17" height="5.17" fill="#9f9fff"/>
<rect x="529.12" y="660.14" width="5.17" height="5.17" fill="#0000ff"/>
<rect x="534.14" y="660.14" width="5.17" height="5.17" fill="#b6b6ff"/>
<rect x="559.25" y="660.14" width="5.17" height="5.17" fill="#ff7070"/>
<rect x="564.28" y="660.14" width="5.17" height="5.17" fill="#ff0202"/>
<rect x="569.30" y="660.14" width="5.17" height="5.17" fill="#ffe2e2"/>
<rect x="589.39" y="660.14" width="5.17" height="5.17" fill="#7e7ebf"/>
<rect x="594.41" y="660.14" width="5.17" height="5.17" fill="#000080"/>
<rect x="599.43" y="660.14" width="5.17" height="5.17" fill="#9a9acd"/>
<rect x="905.77" y="660.14" width="5.17" height="5.17" fill="#bbbbdd"/>
<rect x="910.79" y="660.14" width="5.17" height="5.17" fill="#000080"/>
<rect x="915.82" y="660.14" width="5.17" height="5.17" fill="#1b1b8e"/>
<rect x="920.84" y="660.14" width="5.17" height="5.17" fill="#dcdcee"/>
<rect x="930.88" y="660.14" width="5.17" height="5.17" fill="#6262b1"/>
<rect x="935.90" y="660.14" width="5.17" height="5.17" fill="#000080"/>
<rect x="940.93" y="660.14" width="5.17" height="5.17" fill="#3b3b9d"/>
<rect x="945.95" y="660.14" width="5.17" height="5.17" fill="#e5e5f2"/>
<rect x="955.99" y="660.14" width="5.17" height="5.17" fill="#fff5f5"/>
<rect x="961.01" y="660.14" width="5.17" height="5.17" fill="#ff2a2a"/>
<rect x="966.04" y="660.14" width="5.17" height="5.17" fill="#ff0000"/>
<rect x="971.06" y="660.14" width="5.17" height="5.17" fill="#ff1d1d"/>
<rect x="976.08" y="660.14" width="5.17" height="5.17" fill="#ff4d4d"/>
<rect x="981.10" y="660.14" width="5.17" height="5.17" fill="#ff9d9d"/>
<rect x="986.12" y="660.14" width="5.17" height="5.17" fill="#fff6f6"/>
<rect x="1001.19" y="660.14" width="5.17" height="5.17" fill="#dcdcff"/>
<rect x="1006.21" y="660.14" width="5.17" height="5.17" fill="#2121ff"/>
<rect x="1011.23" y="660.14" width="5.17" height="5.17" fill="#0606ff"/>
<rect x="1016.26" y="660.14" width="5.17" height="5.17" fill="#b3b3ff"/>
<rect x="1021.28" y="660.14" width="5.17" height="5.17" fill="#e0e0e0"/>
<rect x="1026.30" y="660.14" width="5.17" height="5.17" fill="#292929"/>
<rect x="1031.32" y="660.14" width="5.17" height="5.17" fill="#020202"/>
<rect x="1036.34" y="660.14" width="5.17" height="5.17" fill="#989898"/>
<rect x="498.99" y="665.16" width="5.17" height="5.17" fill="#cecece"/>
<rect x="504.01" y="665.16" width="5.17" height="5.17" fill="#060606"/>
<rect x="509.03" y="665.16" width="5.17" height="5.17" fill="#454545"/>
<rect x="519.08" y="665.16" width="5.17" height="5.17" fill="#cbcbff"/>
<rect x="524.10" y="665.16" width="5.17" height="5.17" fill="#1a1aff"/>
<rect x="529.12" y="665.16" width="5.17" height="5.17" fill="#3d3dff"/>
<rect x="549.21" y="665.16" width="5.17" height="5.17" fill="#ffe7e7"/>
<rect x="554.23" y="665.16" width="5.17" height="5.17" fill="#ff8c8c"/>
<rect x="559.25" y="665.16" width="5.17" height="5.17" fill="#ff1111"/>
<rect x="564.28" y="665.16" width="5.17" height="5.17" fill="#ff4343"/>
<rect x="579.34" y="665.16" width="5.17" height="5.17" fill="#ddddee"/>
<rect x="584.36" y="665.16" width="5.17" height="5.17" fill="#6969b4"/>
<rect x="589.39" y="665.16" width="5.17" height="5.17" fill="#010180"/>
<rect x="594.41" y="665.16" width="5.17" height="5.17" fill="#5252a9"/>
<rect x="905.77" y="665.16" width="5.17" height="5.17" fill="#f5f5fa"/>
<rect x="910.79" y="665.16" width="5.17" height="5.17" fill="#5252a9"/>
<rect x="915.82" y="665.16" width="5.17" height="5.17" fill="#c7c7e3"/>
<rect x="935.90" y="665.16" width="5.17" height="5.17" fill="#9393c9"/>
<rect x="940.93" y="665.16" width="5.17" height="5.17" fill="#0a0a85"/>
<rect x="945.95" y="665.16" width="5.17" height="5.17" fill="#0f0f88"/>
<rect x="950.97" y="665.16" width="5.17" height="5.17" fill="#4e4ea7"/>
<rect x="955.99" y="665.16" width="5.17" height="5.17" fill="#cccce6"/>
<rect x="966.04" y="665.16" width="5.17" height="5.17" fill="#ffafaf"/>
<rect x="971.06" y="665.16" width="5.17" height="5.17" fill="#ff4444"/>
<rect x="976.08" y="665.16" width="5.17" height="5.17" fill="#ff2020"/>
<rect x="981.10" y="665.16" width="5.17" height="5.17" fill="#ff0000"/>
<rect x="986.12" y="665.16" width="5.17" height="5.17" fill="#ff4040"/>
<rect x="991.15" y="665.16" width="5.17" height="5.17" fill="#fff5f5"/>
<rect x="1006.21" y="665.16" width="5.17" height="5.17" fill="#e2e2ff"/>
<rect x="1011.23" y="665.16" width="5.17" height="5.17" fill="#2323ff"/>
<rect x="1016.26" y="665.16" width="5.17" height="5.17" fill="#0a0aff"/>
<rect x="1021.28" y="665.16" width="5.17" height="5.17" fill="#bdbdff"/>
<rect x="1026.30" y="665.16" width="5.17" height="5.17" fill="#ededed"/>
<rect x="1031.32" y="665.16" width="5.17" height="5.17" fill="#434343"/>
<rect x="1036.34" y="665.16" width="5.17" height="5.17" fill="#000000"/>
<rect x="1041.37" y="665.16" width="5.17" height="5.17" fill="#b7b7b7"/>
<rect x="498.99" y="670.18" width="5.17" height="5.17" fill="#3b3b3b"/>
<rect x="504.01" y="670.18" width="5.17" height="5.17" fill="#0c0c0c"/>
<rect x="509.03" y="670.18" width="5.17" height="5.17" fill="#e5e5e5"/>
<rect x="514.06" y="670.18" width="5.17" height="5.17" fill="#b8b8ff"/>
<rect x="519.08" y="670.18" width="5.17" height="5.17" fill="#0707ff"/>
<rect x="524.10" y="670.18" width="5.17" height="5.17" fill="#1b1bff"/>
<rect x="529.12" y="670.18" width="5.17" height="5.17" fill="#cdcdff"/>
<rect x="534.14" y="670.18" width="5.17" height="5.17" fill="#fff1f1"/>
<rect x="539.17" y="670.18" width="5.17" height="5.17" fill="#ff9e9e"/>
<rect x="544.19" y="670.18" width="5.17" height="5.17" fill="#ff4545"/>
<rect x="549.21" y="670.18" width="5.17" height="5.17" fill="#ff0202"/>
<rect x="554.23" y="670.18" width="5.17" height="5.17" fill="#ff0000"/>
<rect x="559.25" y="670.18" width="5.17" height="5.17" fill="#ff3636"/>
<rect x="564.28" y="670.18" width="5.17" height="5.17" fill="#d6a3b7"/>
<rect x="569.30" y="670.18" width="5.17" height="5.17" fill="#6a6ab5"/>
<rect x="574.32" y="670.18" width="5.17" height="5.17" fill="#222291"/>
<rect x="579.34" y="670.18" width="5.17" height="5.17" fill="#000080"/>
<rect x="584.36" y="670.18" width="5.17" height="5.17" fill="#070784"/>
<rect x="589.39" y="670.18" width="5.17" height="5.17" fill="#6969b4"/>
<rect x="594.41" y="670.18" width="5.17" height="5.17" fill="#f4f4fa"/>
<rect x="940.93" y="670.18" width="5.17" height="5.17" fill="#c9c9e4"/>
<rect x="945.95" y="670.18" width="5.17" height="5.17" fill="#5353a9"/>
<rect x="950.97" y="670.18" width="5.17" height="5.17" fill="#13138a"/>
<rect x="955.99" y="670.18" width="5.17" height="5.17" fill="#020281"/>
<rect x="961.01" y="670.18" width="5.17" height="5.17" fill="#8a8ac5"/>
<rect x="981.10" y="670.18" width="5.17" height="5.17" fill="#ff8f8f"/>
<rect x="986.12" y="670.18" width="5.17" height="5.17" fill="#ff0101"/>
<rect x="991.15" y="670.18" width="5.17" height="5.17" fill="#ff6767"/>
<rect x="1011.23" y="670.18" width="5.17" height="5.17" fill="#e4e4ff"/>
<rect x="1016.26" y="670.18" width="5.17" height="5.17" fill="#2121ff"/>
<rect x="1021.28" y="670.18" width="5.17" height="5.17" fill="#1616ff"/>
<rect x="1026.30" y="670.18" width="5.17" height="5.17" fill="#c8c8ff"/>
<rect x="1036.34" y="670.18" width="5.17" height="5.17" fill="#2e2e2e"/>
<rect x="1041.37" y="670.18" width="5.17" height="5.17" fill="#080808"/>
<rect x="1046.39" y="670.18" width="5.17" height="5.17" fill="#9d9d9d"/>
<rect x="493.97" y="675.21" width="5.17" height="5.17" fill="#8f8f8f"/>
<rect x="498.99" y="675.21" width="5.17" height="5.17" fill="#000000"/>
<rect x="504.01" y="675.21" width="5.17" height="5.17" fill="#9a9a9a"/>
<rect x="509.03" y="675.21" width="5.17" height="5.17" fill="#e6e6ff"/>
<rect x="514.06" y="675.21" width="5.17" height="5.17" fill="#1616ff"/>
<rect x="519.08" y="675.21" width="5.17" height="5.17" fill="#2f2fff"/>
<rect x="524.10" y="675.21" width="5.17" height="5.17" fill="#e9dbf2"/>
<rect x="529.12" y="675.21" width="5.17" height="5.17" fill="#ff5050"/>
<rect x="534.14" y="675.21" width="5.17" height="5.17" fill="#ff0b0b"/>
<rect x="539.17" y="675.21" width="5.17" height="5.17" fill="#ff0000"/>
<rect x="544.19" y="675.21" width="5.17" height="5.17" fill="#ff2727"/>
<rect x="549.21" y="675.21" width="5.17" height="5.17" fill="#ff7878"/>
<rect x="554.23" y="675.21" width="5.17" height="5.17" fill="#fcced0"/>
<rect x="559.25" y="675.21" width="5.17" height="5.17" fill="#6160b0"/>
<rect x="564.28" y="675.21" width="5.17" height="5.17" fill="#030381"/>
<rect x="569.30" y="675.21" width="5.17" height="5.17" fill="#0a0a85"/>
<rect x="574.32" y="675.21" width="5.17" height="5.17" fill="#4242a1"/>
<rect x="579.34" y="675.21" width="5.17" height="5.17" fill="#8585c2"/>
<rect x="584.36" y="675.21" width="5.17" height="5.17" fill="#dfdfef"/>
<rect x="950.97" y="675.21" width="5.17" height="5.17" fill="#f1f1f8"/>
<rect x="955.99" y="675.21" width="5.17" height="5.17" fill="#5959ac"/>
<rect x="961.01" y="675.21" width="5.17" height="5.17" fill="#000080"/>
<rect x="966.04" y="675.21" width="5.17" height="5.17" fill="#6161b0"/>
<rect x="971.06" y="675.21" width="5.17" height="5.17" fill="#eeeef6"/>
<rect x="986.12" y="675.21" width="5.17" height="5.17" fill="#ff7979"/>
<rect x="991.15" y="675.21" width="5.17" height="5.17" fill="#ff0101"/>
<rect x="996.17" y="675.21" width="5.17" height="5.17" fill="#ff9898"/>
<rect x="1016.26" y="675.21" width="5.17" height="5.17" fill="#cbcbff"/>
<rect x="1021.28" y="675.21" width="5.17" height="5.17" fill="#0a0aff"/>
<rect x="1026.30" y="675.21" width="5.17" height="5.17" fill="#0000ff"/>
<rect x="1031.32" y="675.21" width="5.17" height="5.17" fill="#7070ff"/>
<rect x="1036.34" y="675.21" width="5.17" height="5.17" fill="#e4e4e4"/>
<rect x="1041.37" y="675.21" width="5.17" height="5.17" fill="#464646"/>
<rect x="1046.39" y="675.21" width="5.17" height="5.17" fill="#060606"/>
<rect x="1051.41" y="675.21" width="5.17" height="5.17" fill="#575757"/>
<rect x="1056.43" y="675.21" width="5.17" height="5.17" fill="#ececec"/>
<rect x="488.95" y="680.23" width="5.17" height="5.17" fill="#e4e4e4"/>
<rect x="493.97" y="680.23" width="5.17" height="5.17" fill="#090909"/>
<rect x="498.99" y="680.23" width="5.17" height="5.17" fill="#4b4b4b"/>
<rect x="509.03" y="680.23" width="5.17" height="5.17" fill="#6f6fff"/>
<rect x="514.06" y="680.23" width="5.17" height="5.17" fill="#0404ff"/>
<rect x="519.08" y="680.23" width="5.17" height="5.17" fill="#d7d5fd"/>
<rect x="524.10" y="680.23" width="5.17" height="5.17" fill="#ff5252"/>
<rect x="529.12" y="680.23" width="5.17" height="5.17" fill="#ff0707"/>
<rect x="534.14" y="680.23" width="5.17" height="5.17" fill="#ff7c7c"/>
<rect x="539.17" y="680.23" width="5.17" height="5.17" fill="#ffcbcb"/>
<rect x="554.23" y="680.23" width="5.17" height="5.17" fill="#7676bb"/>
<rect x="559.25" y="680.23" width="5.17" height="5.17" fill="#000080"/>
<rect x="564.28" y="680.23" width="5.17" height="5.17" fill="#7777bb"/>
<rect x="569.30" y="680.23" width="5.17" height="5.17" fill="#efeff7"/>
<rect x="961.01" y="680.23" width="5.17" height="5.17" fill="#7e7ebf"/>
<rect x="966.04" y="680.23" width="5.17" height="5.17" fill="#010180"/>
<rect x="971.06" y="680.23" width="5.17" height="5.17" fill="#0c0c86"/>
<rect x="976.08" y="680.23" width="5.17" height="5.17" fill="#9292c9"/>
<rect x="986.12" y="680.23" width="5.17" height="5.17" fill="#fff6f6"/>
<rect x="991.15" y="680.23" width="5.17" height="5.17" fill="#ff4949"/>
<rect x="996.17" y="680.23" width="5.17" height="5.17" fill="#ff0000"/>
<rect x="1001.19" y="680.23" width="5.17" height="5.17" fill="#ff4343"/>
<rect x="1006.21" y="680.23" width="5.17" height="5.17" fill="#ffebeb"/>
<rect x="1021.28" y="680.23" width="5.17" height="5.17" fill="#f2f2ff"/>
<rect x="1026.30" y="680.23" width="5.17" height="5.17" fill="#6e6eff"/>
<rect x="1031.32" y="680.23" width="5.17" height="5.17" fill="#0000ff"/>
<rect x="1036.34" y="680.23" width="5.17" height="5.17" fill="#4343ff"/>
<rect x="1041.37" y="680.23" width="5.17" height="5.17" fill="#9b9bf3"/>
<rect x="1046.39" y="680.23" width="5.17" height="5.17" fill="#5c5c5e"/>
<rect x="1051.41" y="680.23" width="5.17" height="5.17" fill="#0a0a0a"/>
<rect x="1056.43" y="680.23" width="5.17" height="5.17" fill="#232323"/>
<rect x="1061.45" y="680.23" width="5.17" height="5.17" fill="#afafaf"/>
<rect x="488.95" y="685.25" width="5.17" height="5.17" fill="#6c6c6c"/>
<rect x="493.97" y="685.25" width="5.17" height="5.17" fill="#060606"/>
<rect x="498.99" y="685.25" width="5.17" height="5.17" fill="#dedede"/>
<rect x="504.01" y="685.25" width="5.17" height="5.17" fill="#ceceff"/>
<rect x="509.03" y="685.25" width="5.17" height="5.17" fill="#0a0aff"/>
<rect x="514.06" y="685.25" width="5.17" height="5.17" fill="#5b5bff"/>
<rect x="519.08" y="685.25" width="5.17" height="5.17" fill="#ff8787"/>
<rect x="524.10" y="685.25" width="5.17" height="5.17" fill="#ff0000"/>
<rect x="529.12" y="685.25" width="5.17" height="5.17" fill="#ff9292"/>
<rect x="549.21" y="685.25" width="5.17" height="5.17" fill="#acacd6"/>
<rect x="554.23" y="685.25" width="5.17" height="5.17" fill="#000080"/>
<rect x="559.25" y="685.25" width="5.17" height="5.17" fill="#6767b3"/>
<rect x="966.04" y="685.25" width="5.17" height="5.17" fill="#cecee7"/>
<rect x="971.06" y="685.25" width="5.17" height="5.17" fill="#4f4fa7"/>
<rect x="976.08" y="685.25" width="5.17" height="5.17" fill="#000080"/>
<rect x="981.10" y="685.25" width="5.17" height="5.17" fill="#4f4fa7"/>
<rect x="986.12" y="685.25" width="5.17" height="5.17" fill="#eaeaf4"/>
<rect x="996.17" y="685.25" width="5.17" height="5.17" fill="#ff9999"/>
<rect x="1001.19" y="685.25" width="5.17" height="5.17" fill="#ff0b0b"/>
<rect x="1006.21" y="685.25" width="5.17" height="5.17" fill="#ff2424"/>
<rect x="1011.23" y="685.25" width="5.17" height="5.17" fill="#ffcdcd"/>
<rect x="1031.32" y="685.25" width="5.17" height="5.17" fill="#7e7eff"/>
<rect x="1036.34" y="685.25" width="5.17" height="5.17" fill="#1d1dff"/>
<rect x="1041.37" y="685.25" width="5.17" height="5.17" fill="#0000ff"/>
<rect x="1046.39" y="685.25" width="5.17" height="5.17" fill="#5454ff"/>
<rect x="1051.41" y="685.25" width="5.17" height="5.17" fill="#b9b9c6"/>
<rect x="1056.43" y="685.25" width="5.17" height="5.17" fill="#2a2a2a"/>
<rect x="1061.45" y="685.25" width="5.17" height="5.17" fill="#080808"/>
<rect x="1066.48" y="685.25" width="5.17" height="5.17" fill="#c9c9c9"/>
<rect x="483.92" y="690.27" width="5.17" height="5.17" fill="#c5c5c5"/>
<rect x="488.95" y="690.27" width="5.17" height="5.17" fill="#030303"/>
<rect x="493.97" y="690.27" width="5.17" height="5.17" fill="#6e6e6e"/>
<rect x="504.01" y="690.27" width="5.17" height="5.17" fill="#3737ff"/>
<rect x="509.03" y="690.27" width="5.17" height="5.17" fill="#1a1aff"/>
<rect x="514.06" y="690.27" width="5.17" height="5.17" fill="#e08aa8"/>
<rect x="519.08" y="690.27" width="5.17" height="5.17" fill="#ff0404"/>
<rect x="524.10" y="690.27" width="5.17" height="5.17" fill="#ff5757"/>
<rect x="534.14" y="690.27" width="5.17" height="5.17" fill="#f2f2f9"/>
<rect x="539.17" y="690.27" width="5.17" height="5.17" fill="#9a9acd"/>
<rect x="544.19" y="690.27" width="5.17" height="5.17" fill="#5959ac"/>
<rect x="549.21" y="690.27" width="5.17" height="5.17" fill="#0c0c86"/>
<rect x="554.23" y="690.27" width="5.17" height="5.17" fill="#3a3a9d"/>
<rect x="976.08" y="690.27" width="5.17" height="5.17" fill="#9696cb"/>
<rect x="981.10" y="690.27" width="5.17" height="5.17" fill="#0a0a85"/>
<rect x="986.12" y="690.27" width="5.17" height="5.17" fill="#262693"/>
<rect x="991.15" y="690.27" width="5.17" height="5.17" fill="#cbcbe5"/>
<rect x="1001.19" y="690.27" width="5.17" height="5.17" fill="#ffcdcd"/>
<rect x="1006.21" y="690.27" width="5.17" height="5.17" fill="#ff2323"/>
<rect x="1011.23" y="690.27" width="5.17" height="5.17" fill="#ff0505"/>
<rect x="1016.26" y="690.27" width="5.17" height="5.17" fill="#ff6464"/>
<rect x="1021.28" y="690.27" width="5.17" height="5.17" fill="#fff4f4"/>
<rect x="1041.37" y="690.27" width="5.17" height="5.17" fill="#9090ff"/>
<rect x="1046.39" y="690.27" width="5.17" height="5.17" fill="#0404ff"/>
<rect x="1051.41" y="690.27" width="5.17" height="5.17" fill="#4040ff"/>
<rect x="1056.43" y="690.27" width="5.17" height="5.17" fill="#e9e9f0"/>
<rect x="1061.45" y="690.27" width="5.17" height="5.17" fill="#212121"/>
<rect x="1066.48" y="690.27" width="5.17" height="5.17" fill="#0b0b0b"/>
<rect x="1071.50" y="690.27" width="5.17" height="5.17" fill="#afafaf"/>
<rect x="483.92" y="695.29" width="5.17" height="5.17" fill="#444444"/>
<rect x="488.95" y="695.29" width="5.17" height="5.17" fill="#171717"/>
<rect x="493.97" y="695.29" width="5.17" height="5.17" fill="#f4f4f4"/>
<rect x="498.99" y="695.29" width="5.17" height="5.17" fill="#a2a2ff"/>
<rect x="504.01" y="695.29" width="5.17" height="5.17" fill="#0000ff"/>
<rect x="509.03" y="695.29" width="5.17" height="5.17" fill="#9f52b2"/>
<rect x="514.06" y="695.29" width="5.17" height="5.17" fill="#ff0404"/>
<rect x="519.08" y="695.29" width="5.17" height="5.17" fill="#ff3a3a"/>
<rect x="524.10" y="695.29" width="5.17" height="5.17" fill="#fff2f2"/>
<rect x="529.12" y="695.29" width="5.17" height="5.17" fill="#f0f0f8"/>
<rect x="534.14" y="695.29" width="5.17" height="5.17" fill="#3e3e9f"/>
<rect x="539.17" y="695.29" width="5.17" height="5.17" fill="#000080"/>
<rect x="544.19" y="695.29" width="5.17" height="5.17" fill="#1b1b8e"/>
<rect x="549.21" y="695.29" width="5.17" height="5.17" fill="#5656ab"/>
<rect x="554.23" y="695.29" width="5.17" height="5.17" fill="#e5e5f2"/>
<rect x="981.10" y="695.29" width="5.17" height="5.17" fill="#cdcde6"/>
<rect x="986.12" y="695.29" width="5.17" height="5.17" fill="#202090"/>
<rect x="991.15" y="695.29" width="5.17" height="5.17" fill="#010181"/>
<rect x="996.17" y="695.29" width="5.17" height="5.17" fill="#4848a4"/>
<rect x="1001.19" y="695.29" width="5.17" height="5.17" fill="#bcbcde"/>
<rect x="1006.21" y="695.29" width="5.17" height="5.17" fill="#fff2f2"/>
<rect x="1011.23" y="695.29" width="5.17" height="5.17" fill="#ff7c7c"/>
<rect x="1016.26" y="695.29" width="5.17" height="5.17" fill="#ff0404"/>
<rect x="1021.28" y="695.29" width="5.17" height="5.17" fill="#ff5050"/>
<rect x="1026.30" y="695.29" width="5.17" height="5.17" fill="#ffe8e8"/>
<rect x="1046.39" y="695.29" width="5.17" height="5.17" fill="#a6a6ff"/>
<rect x="1051.41" y="695.29" width="5.17" height="5.17" fill="#0101ff"/>
<rect x="1056.43" y="695.29" width="5.17" height="5.17" fill="#7171ff"/>
<rect x="1061.45" y="695.29" width="5.17" height="5.17" fill="#e8e8e8"/>
<rect x="1066.48" y="695.29" width="5.17" height="5.17" fill="#353535"/>
<rect x="1071.50" y="695.29" width="5.17" height="5.17" fill="#010101"/>
<rect x="1076.52" y="695.29" width="5.17" height="5.17" fill="#8e8e8e"/>
<rect x="478.90" y="700.32" width="5.17" height="5.17" fill="#adadad"/>
<rect x="483.92" y="700.32" width="5.17" height="5.17" fill="#000000"/>
<rect x="488.95" y="700.32" width="5.17" height="5.17" fill="#878787"/>
<rect x="493.97" y="700.32" width="5.17" height="5.17" fill="#e1e1ff"/>
<rect x="498.99" y="700.32" width="5.17" height="5.17" fill="#1414ff"/>
<rect x="504.01" y="700.32" width="5.17" height="5.17" fill="#3b0cd0"/>
<rect x="509.03" y="700.32" width="5.17" height="5.17" fill="#fe080a"/>
<rect x="514.06" y="700.32" width="5.17" height="5.17" fill="#ff3939"/>
<rect x="519.08" y="700.32" width="5.17" height="5.17" fill="#fff4f4"/>
<rect x="524.10" y="700.32" width="5.17" height="5.17" fill="#c6c6e2"/>
<rect x="529.12" y="700.32" width="5.17" height="5.17" fill="#111188"/>
<rect x="534.14" y="700.32" width="5.17" height="5.17" fill="#020281"/>
<rect x="539.17" y="700.32" width="5.17" height="5.17" fill="#aaaad4"/>
<rect x="986.12" y="700.32" width="5.17" height="5.17" fill="#f3f3f9"/>
<rect x="991.15" y="700.32" width="5.17" height="5.17" fill="#8383c1"/>
<rect x="996.17" y="700.32" width="5.17" height="5.17" fill="#222291"/>
<rect x="1001.19" y="700.32" width="5.17" height="5.17" fill="#010181"/>
<rect x="1006.21" y="700.32" width="5.17" height="5.17" fill="#6565b2"/>
<rect x="1011.23" y="700.32" width="5.17" height="5.17" fill="#f2f2f8"/>
<rect x="1016.26" y="700.32" width="5.17" height="5.17" fill="#ff8c8c"/>
<rect x="1021.28" y="700.32" width="5.17" height="5.17" fill="#ff0101"/>
<rect x="1026.30" y="700.32" width="5.17" height="5.17" fill="#ff1010"/>
<rect x="1031.32" y="700.32" width="5.17" height="5.17" fill="#ff8888"/>
<rect x="1051.41" y="700.32" width="5.17" height="5.17" fill="#7b7bff"/>
<rect x="1056.43" y="700.32" width="5.17" height="5.17" fill="#0202ff"/>
<rect x="1061.45" y="700.32" width="5.17" height="5.17" fill="#b1b1ff"/>
<rect x="1071.50" y="700.32" width="5.17" height="5.17" fill="#656565"/>
<rect x="1076.52" y="700.32" width="5.17" height="5.17" fill="#000000"/>
<rect x="1081.54" y="700.32" width="5.17" height="5.17" fill="#8c8c8c"/>
<rect x="478.90" y="705.34" width="5.17" height="5.17" fill="#212121"/>
<rect x="483.92" y="705.34" width="5.17" height="5.17" fill="#404040"/>
<rect x="488.95" y="705.34" width="5.17" height="5.17" fill="#dedefb"/>
<rect x="493.97" y="705.34" width="5.17" height="5.17" fill="#2828ff"/>
<rect x="498.99" y="705.34" width="5.17" height="5.17" fill="#1900e6"/>
<rect x="504.01" y="705.34" width="5.17" height="5.17" fill="#df0020"/>
<rect x="509.03" y="705.34" width="5.17" height="5.17" fill="#ff2424"/>
<rect x="514.06" y="705.34" width="5.17" height="5.17" fill="#feecec"/>
<rect x="519.08" y="705.34" width="5.17" height="5.17" fill="#9898cc"/>
<rect x="524.10" y="705.34" width="5.17" height="5.17" fill="#080884"/>
<rect x="529.12" y="705.34" width="5.17" height="5.17" fill="#4242a1"/>
<rect x="534.14" y="705.34" width="5.17" height="5.17" fill="#d7d7eb"/>
<rect x="1001.19" y="705.34" width="5.17" height="5.17" fill="#7e7ebf"/>
<rect x="1006.21" y="705.34" width="5.17" height="5.17" fill="#050583"/>
<rect x="1011.23" y="705.34" width="5.17" height="5.17" fill="#1f1f8f"/>
<rect x="1016.26" y="705.34" width="5.17" height="5.17" fill="#9d9dce"/>
<rect x="1021.28" y="705.34" width="5.17" height="5.17" fill="#edcdd6"/>
<rect x="1026.30" y="705.34" width="5.17" height="5.17" fill="#ff5f5f"/>
<rect x="1031.32" y="705.34" width="5.17" height="5.17" fill="#ff0101"/>
<rect x="1036.34" y="705.34" width="5.17" height="5.17" fill="#ff3232"/>
<rect x="1041.37" y="705.34" width="5.17" height="5.17" fill="#ffbfbf"/>
<rect x="1056.43" y="705.34" width="5.17" height="5.17" fill="#4a4aff"/>
<rect x="1061.45" y="705.34" width="5.17" height="5.17" fill="#0404ff"/>
<rect x="1066.48" y="705.34" width="5.17" height="5.17" fill="#8383ff"/>
<rect x="1076.52" y="705.34" width="5.17" height="5.17" fill="#666666"/>
<rect x="1081.54" y="705.34" width="5.17" height="5.17" fill="#000000"/>
<rect x="1086.56" y="705.34" width="5.17" height="5.17" fill="#8f8f8f"/>
<rect x="473.88" y="710.36" width="5.17" height="5.17" fill="#949494"/>
<rect x="478.90" y="710.36" width="5.17" height="5.17" fill="#000000"/>
<rect x="483.92" y="710.36" width="5.17" height="5.17" fill="#8989be"/>
<rect x="488.95" y="710.36" width="5.17" height="5.17" fill="#1616ff"/>
<rect x="493.97" y="710.36" width="5.17" height="5.17" fill="#1c00e3"/>
<rect x="498.99" y="710.36" width="5.17" height="5.17" fill="#df0020"/>
<rect x="504.01" y="710.36" width="5.17" height="5.17" fill="#ff1f1f"/>
<rect x="509.03" y="710.36" width="5.17" height="5.17" fill="#fdd5d6"/>
<rect x="514.06" y="710.36" width="5.17" height="5.17" fill="#6868b4"/>
<rect x="519.08" y="710.36" width="5.17" height="5.17" fill="#010180"/>
<rect x="524.10" y="710.36" width="5.17" height="5.17" fill="#6868b4"/>
<rect x="529.12" y="710.36" width="5.17" height="5.17" fill="#f4f4fa"/>
<rect x="1006.21" y="710.36" width="5.17" height="5.17" fill="#d1d1e8"/>
<rect x="1011.23" y="710.36" width="5.17" height="5.17" fill="#4f4fa7"/>
<rect x="1016.26" y="710.36" width="5.17" height="5.17" fill="#030382"/>
<rect x="1021.28" y="710.36" width="5.17" height="5.17" fill="#060683"/>
<rect x="1026.30" y="710.36" width="5.17" height="5.17" fill="#9494ca"/>
<rect x="1031.32" y="710.36" width="5.17" height="5.17" fill="#ffb9b9"/>
<rect x="1036.34" y="710.36" width="5.17" height="5.17" fill="#ff2f2f"/>
<rect x="1041.37" y="710.36" width="5.17" height="5.17" fill="#ff0505"/>
<rect x="1046.39" y="710.36" width="5.17" height="5.17" fill="#ffb6b6"/>
<rect x="1061.45" y="710.36" width="5.17" height="5.17" fill="#8181ff"/>
<rect x="1066.48" y="710.36" width="5.17" height="5.17" fill="#0202ff"/>
<rect x="1071.50" y="710.36" width="5.17" height="5.17" fill="#3838ff"/>
<rect x="1076.52" y="710.36" width="5.17" height="5.17" fill="#cacafd"/>
<rect x="1081.54" y="710.36" width="5.17" height="5.17" fill="#686868"/>
<rect x="1086.56" y="710.36" width="5.17" height="5.17" fill="#010101"/>
<rect x="1091.59" y="710.36" width="5.17" height="5.17" fill="#424242"/>
<rect x="1096.61" y="710.36" width="5.17" height="5.17" fill="#d5d5d5"/>
<rect x="468.86" y="715.38" width="5.17" height="5.17" fill="#b6b6b6"/>
<rect x="473.88" y="715.38" width="5.17" height="5.17" fill="#060606"/>
<rect x="478.90" y="715.38" width="5.17" height="5.17" fill="#44446c"/>
<rect x="483.92" y="715.38" width="5.17" height="5.17" fill="#1212ff"/>
<rect x="488.95" y="715.38" width="5.17" height="5.17" fill="#2f2bfb"/>
<rect x="493.97" y="715.38" width="5.17" height="5.17" fill="#e60a22"/>
<rect x="498.99" y="715.38" width="5.17" height="5.17" fill="#ff2222"/>
<rect x="504.01" y="715.38" width="5.17" height="5.17" fill="#ffe3e3"/>
<rect x="509.03" y="715.38" width="5.17" height="5.17" fill="#6363b2"/>
<rect x="514.06" y="715.38" width="5.17" height="5.17" fill="#010180"/>
<rect x="519.08" y="715.38" width="5.17" height="5.17" fill="#9292c9"/>
<rect x="1016.26" y="715.38" width="5.17" height="5.17" fill="#ededf6"/>
<rect x="1021.28" y="715.38" width="5.17" height="5.17" fill="#6363b2"/>
<rect x="1026.30" y="715.38" width="5.17" height="5.17" fill="#000080"/>
<rect x="1031.32" y="715.38" width="5.17" height="5.17" fill="#6262b1"/>
<rect x="1036.34" y="715.38" width="5.17" height="5.17" fill="#faf5f8"/>
<rect x="1041.37" y="715.38" width="5.17" height="5.17" fill="#ff3f3f"/>
<rect x="1046.39" y="715.38" width="5.17" height="5.17" fill="#ff0000"/>
<rect x="1051.41" y="715.38" width="5.17" height="5.17" fill="#ff4545"/>
<rect x="1056.43" y="715.38" width="5.17" height="5.17" fill="#fff5f5"/>
<rect x="1066.48" y="715.38" width="5.17" height="5.17" fill="#b4b4ff"/>
<rect x="1071.50" y="715.38" width="5.17" height="5.17" fill="#2d2dff"/>
<rect x="1076.52" y="715.38" width="5.17" height="5.17" fill="#0f0fff"/>
<rect x="1081.54" y="715.38" width="5.17" height="5.17" fill="#5b5bfe"/>
<rect x="1086.56" y="715.38" width="5.17" height="5.17" fill="#8f8f9f"/>
<rect x="1091.59" y="715.38" width="5.17" height="5.17" fill="#292929"/>
<rect x="1096.61" y="715.38" width="5.17" height="5.17" fill="#080808"/>
<rect x="1101.63" y="715.38" width="5.17" height="5.17" fill="#afafaf"/>
<rect x="463.84" y="720.40" width="5.17" height="5.17" fill="#c7c7c7"/>
<rect x="468.86" y="720.40" width="5.17" height="5.17" fill="#090909"/>
<rect x="473.88" y="720.40" width="5.17" height="5.17" fill="#292943"/>
<rect x="478.90" y="720.40" width="5.17" height="5.17" fill="#1818f6"/>
<rect x="483.92" y="720.40" width="5.17" height="5.17" fill="#1f1fff"/>
<rect x="488.95" y="720.40" width="5.17" height="5.17" fill="#e7829a"/>
<rect x="493.97" y="720.40" width="5.17" height="5.17" fill="#ff0101"/>
<rect x="498.99" y="720.40" width="5.17" height="5.17" fill="#ffc5c5"/>
<rect x="504.01" y="720.40" width="5.17" height="5.17" fill="#b1b1d8"/>
<rect x="509.03" y="720.40" width="5.17" height="5.17" fill="#000080"/>
<rect x="514.06" y="720.40" width="5.17" height="5.17" fill="#8b8bc5"/>
<rect x="1026.30" y="720.40" width="5.17" height="5.17" fill="#8d8dc6"/>
<rect x="1031.32" y="720.40" width="5.17" height="5.17" fill="#020281"/>
<rect x="1036.34" y="720.40" width="5.17" height="5.17" fill="#36369b"/>
<rect x="1041.37" y="720.40" width="5.17" height="5.17" fill="#d4cee3"/>
<rect x="1046.39" y="720.40" width="5.17" height="5.17" fill="#ff9f9f"/>
<rect x="1051.41" y="720.40" width="5.17" height="5.17" fill="#ff0606"/>
<rect x="1056.43" y="720.40" width="5.17" height="5.17" fill="#ff2b2b"/>
<rect x="1061.45" y="720.40" width="5.17" height="5.17" fill="#ffa4a4"/>
<rect x="1071.50" y="720.40" width="5.17" height="5.17" fill="#f0f0ff"/>
<rect x="1076.52" y="720.40" width="5.17" height="5.17" fill="#6363ff"/>
<rect x="1081.54" y="720.40" width="5.17" height="5.17" fill="#1111ff"/>
<rect x="1086.56" y="720.40" width="5.17" height="5.17" fill="#3636ff"/>
<rect x="1091.59" y="720.40" width="5.17" height="5.17" fill="#d0d0f7"/>
<rect x="1096.61" y="720.40" width="5.17" height="5.17" fill="#494949"/>
<rect x="1101.63" y="720.40" width="5.17" height="5.17" fill="#060606"/>
<rect x="1106.65" y="720.40" width="5.17" height="5.17" fill="#afafaf"/>
<rect x="458.81" y="725.43" width="5.17" height="5.17" fill="#d2d2d2"/>
<rect x="463.84" y="725.43" width="5.17" height="5.17" fill="#1a1a1a"/>
<rect x="468.86" y="725.43" width="5.17" height="5.17" fill="#181831"/>
<rect x="473.88" y="725.43" width="5.17" height="5.17" fill="#2020f5"/>
<rect x="478.90" y="725.43" width="5.17" height="5.17" fill="#1212ff"/>
<rect x="483.92" y="725.43" width="5.17" height="5.17" fill="#d3d1fd"/>
<rect x="488.95" y="725.43" width="5.17" height="5.17" fill="#ff2121"/>
<rect x="493.97" y="725.43" width="5.17" height="5.17" fill="#ff4949"/>
<rect x="498.99" y="725.43" width="5.17" height="5.17" fill="#a8a8d4"/>
<rect x="504.01" y="725.43" width="5.17" height="5.17" fill="#0f0f88"/>
<rect x="509.03" y="725.43" width="5.17" height="5.17" fill="#4545a3"/>
<rect x="1031.32" y="725.43" width="5.17" height="5.17" fill="#bbbbdd"/>
<rect x="1036.34" y="725.43" width="5.17" height="5.17" fill="#242492"/>
<rect x="1041.37" y="725.43" width="5.17" height="5.17" fill="#0a0a85"/>
<rect x="1046.39" y="725.43" width="5.17" height="5.17" fill="#a3a3d1"/>
<rect x="1051.41" y="725.43" width="5.17" height="5.17" fill="#ffbebe"/>
<rect x="1056.43" y="725.43" width="5.17" height="5.17" fill="#ff4242"/>
<rect x="1061.45" y="725.43" width="5.17" height="5.17" fill="#ff0000"/>
<rect x="1066.48" y="725.43" width="5.17" height="5.17" fill="#ff5858"/>
<rect x="1071.50" y="725.43" width="5.17" height="5.17" fill="#ffd9d9"/>
<rect x="1081.54" y="725.43" width="5.17" height="5.17" fill="#c8c8ff"/>
<rect x="1086.56" y="725.43" width="5.17" height="5.17" fill="#1c1cff"/>
<rect x="1091.59" y="725.43" width="5.17" height="5.17" fill="#0606ff"/>
<rect x="1096.61" y="725.43" width="5.17" height="5.17" fill="#6a6af6"/>
<rect x="1101.63" y="725.43" width="5.17" height="5.17" fill="#303043"/>
<rect x="1106.65" y="725.43" width="5.17" height="5.17" fill="#060606"/>
<rect x="1111.67" y="725.43" width="5.17" height="5.17" fill="#8c8c8c"/>
<rect x="448.77" y="730.45" width="5.17" height="5.17" fill="#eaeaea"/>
<rect x="453.79" y="730.45" width="5.17" height="5.17" fill="#474747"/>
<rect x="458.81" y="730.45" width="5.17" height="5.17" fill="#080808"/>
<rect x="463.84" y="730.45" width="5.17" height="5.17" fill="#00002a"/>
<rect x="468.86" y="730.45" width="5.17" height="5.17" fill="#0101e1"/>
<rect x="473.88" y="730.45" width="5.17" height="5.17" fill="#1414ff"/>
<rect x="478.90" y="730.45" width="5.17" height="5.17" fill="#cdcdff"/>
<rect x="483.92" y="730.45" width="5.17" height="5.17" fill="#ff9999"/>
<rect x="488.95" y="730.45" width="5.17" height="5.17" fill="#ff0000"/>
<rect x="493.97" y="730.45" width="5.17" height="5.17" fill="#bf7a9a"/>
<rect x="498.99" y="730.45" width="5.17" height="5.17" fill="#040482"/>
<rect x="504.01" y="730.45" width="5.17" height="5.17" fill="#4545a3"/>
<rect x="509.03" y="730.45" width="5.17" height="5.17" fill="#f0f0f7"/>
<rect x="1036.34" y="730.45" width="5.17" height="5.17" fill="#f5f5fa"/>
<rect x="1041.37" y="730.45" width="5.17" height="5.17" fill="#5454aa"/>
<rect x="1046.39" y="730.45" width="5.17" height="5.17" fill="#020281"/>
<rect x="1051.41" y="730.45" width="5.17" height="5.17" fill="#5959ac"/>
<rect x="1056.43" y="730.45" width="5.17" height="5.17" fill="#e4e4f1"/>
<rect x="1061.45" y="730.45" width="5.17" height="5.17" fill="#ff8e8e"/>
<rect x="1066.48" y="730.45" width="5.17" height="5.17" fill="#ff1212"/>
<rect x="1071.50" y="730.45" width="5.17" height="5.17" fill="#ff0909"/>
<rect x="1076.52" y="730.45" width="5.17" height="5.17" fill="#ff9a9a"/>
<rect x="1086.56" y="730.45" width="5.17" height="5.17" fill="#f2f2ff"/>
<rect x="1091.59" y="730.45" width="5.17" height="5.17" fill="#7a7aff"/>
<rect x="1096.61" y="730.45" width="5.17" height="5.17" fill="#0707ff"/>
<rect x="1101.63" y="730.45" width="5.17" height="5.17" fill="#0d0df5"/>
<rect x="1106.65" y="730.45" width="5.17" height="5.17" fill="#04045e"/>
<rect x="1111.67" y="730.45" width="5.17" height="5.17" fill="#000003"/>
<rect x="1116.70" y="730.45" width="5.17" height="5.17" fill="#4c4c4c"/>
<rect x="1121.72" y="730.45" width="5.17" height="5.17" fill="#f1f1f1"/>
<rect x="443.75" y="735.47" width="5.17" height="5.17" fill="#e4e4e4"/>
<rect x="448.77" y="735.47" width="5.17" height="5.17" fill="#1f1f1f"/>
<rect x="453.79" y="735.47" width="5.17" height="5.17" fill="#0f0f0f"/>
<rect x="458.81" y="735.47" width="5.17" height="5.17" fill="#5b5b81"/>
<rect x="463.84" y="735.47" width="5.17" height="5.17" fill="#0606ed"/>
<rect x="468.86" y="735.47" width="5.17" height="5.17" fill="#2525ff"/>
<rect x="473.88" y="735.47" width="5.17" height="5.17" fill="#dcdafd"/>
<rect x="478.90" y="735.47" width="5.17" height="5.17" fill="#ff7777"/>
<rect x="483.92" y="735.47" width="5.17" height="5.17" fill="#ff0101"/>
<rect x="488.95" y="735.47" width="5.17" height="5.17" fill="#c81732"/>
<rect x="493.97" y="735.47" width="5.17" height="5.17" fill="#0d0c85"/>
<rect x="498.99" y="735.47" width="5.17" height="5.17" fill="#38389c"/>
<rect x="1046.39" y="735.47" width="5.17" height="5.17" fill="#8282c1"/>
<rect x="1051.41" y="735.47" width="5.17" height="5.17" fill="#111189"/>
<rect x="1056.43" y="735.47" width="5.17" height="5.17" fill="#18188c"/>
<rect x="1061.45" y="735.47" width="5.17" height="5.17" fill="#acacd6"/>
<rect x="1066.48" y="735.47" width="5.17" height="5.17" fill="#feeeef"/>
<rect x="1071.50" y="735.47" width="5.17" height="5.17" fill="#ff5252"/>
<rect x="1076.52" y="735.47" width="5.17" height="5.17" fill="#ff0000"/>
<rect x="1081.54" y="735.47" width="5.17" height="5.17" fill="#ff4747"/>
<rect x="1086.56" y="735.47" width="5.17" height="5.17" fill="#fff5f5"/>
<rect x="1096.61" y="735.47" width="5.17" height="5.17" fill="#dedeff"/>
<rect x="1101.63" y="735.47" width="5.17" height="5.17" fill="#4a4aff"/>
<rect x="1106.65" y="735.47" width="5.17" height="5.17" fill="#0000ff"/>
<rect x="1111.67" y="735.47" width="5.17" height="5.17" fill="#0000d0"/>
<rect x="1116.70" y="735.47" width="5.17" height="5.17" fill="#000014"/>
<rect x="1121.72" y="735.47" width="5.17" height="5.17" fill="#212121"/>
<rect x="1126.74" y="735.47" width="5.17" height="5.17" fill="#b8b8b8"/>
<rect x="443.75" y="740.49" width="5.17" height="5.17" fill="#6e6e6e"/>
<rect x="448.77" y="740.49" width="5.17" height="5.17" fill="#0d0d0d"/>
<rect x="453.79" y="740.49" width="5.17" height="5.17" fill="#adadd5"/>
<rect x="458.81" y="740.49" width="5.17" height="5.17" fill="#1c1cff"/>
<rect x="463.84" y="740.49" width="5.17" height="5.17" fill="#1d1dff"/>
<rect x="468.86" y="740.49" width="5.17" height="5.17" fill="#e2dbf7"/>
<rect x="473.88" y="740.49" width="5.17" height="5.17" fill="#ff4f4f"/>
<rect x="478.90" y="740.49" width="5.17" height="5.17" fill="#ff0101"/>
<rect x="483.92" y="740.49" width="5.17" height="5.17" fill="#f87175"/>
<rect x="488.95" y="740.49" width="5.17" height="5.17" fill="#2c2a94"/>
<rect x="493.97" y="740.49" width="5.17" height="5.17" fill="#212191"/>
<rect x="498.99" y="740.49" width="5.17" height="5.17" fill="#ededf6"/>
<rect x="1051.41" y="740.49" width="5.17" height="5.17" fill="#e0e0f0"/>
<rect x="1056.43" y="740.49" width="5.17" height="5.17" fill="#4141a0"/>
<rect x="1061.45" y="740.49" width="5.17" height="5.17" fill="#000080"/>
<rect x="1066.48" y="740.49" width="5.17" height="5.17" fill="#7b7bbd"/>
<rect x="1076.52" y="740.49" width="5.17" height="5.17" fill="#ff9c9c"/>
<rect x="1081.54" y="740.49" width="5.17" height="5.17" fill="#ff0606"/>
<rect x="1086.56" y="740.49" width="5.17" height="5.17" fill="#ff3b3b"/>
<rect x="1091.59" y="740.49" width="5.17" height="5.17" fill="#ffcbcb"/>
<rect x="1106.65" y="740.49" width="5.17" height="5.17" fill="#b6b6ff"/>
<rect x="1111.67" y="740.49" width="5.17" height="5.17" fill="#0f0fff"/>
<rect x="1116.70" y="740.49" width="5.17" height="5.17" fill="#0404d5"/>
<rect x="1121.72" y="740.49" width="5.17" height="5.17" fill="#1a1a2c"/>
<rect x="1126.74" y="740.49" width="5.17" height="5.17" fill="#000000"/>
<rect x="1131.76" y="740.49" width="5.17" height="5.17" fill="#303030"/>
<rect x="1136.78" y="740.49" width="5.17" height="5.17" fill="#e2e2e2"/>
<rect x="438.73" y="745.51" width="5.17" height="5.17" fill="#a6a6a6"/>
<rect x="443.75" y="745.51" width="5.17" height="5.17" fill="#010101"/>
<rect x="448.77" y="745.51" width="5.17" height="5.17" fill="#30307e"/>
<rect x="453.79" y="745.51" width="5.17" height="5.17" fill="#0f0fff"/>
<rect x="458.81" y="745.51" width="5.17" height="5.17" fill="#2121ff"/>
<rect x="463.84" y="745.51" width="5.17" height="5.17" fill="#dcdcff"/>
<rect x="468.86" y="745.51" width="5.17" height="5.17" fill="#ff6565"/>
<rect x="473.88" y="745.51" width="5.17" height="5.17" fill="#ff0404"/>
<rect x="478.90" y="745.51" width="5.17" height="5.17" fill="#fa9c9f"/>
<rect x="483.92" y="745.51" width="5.17" height="5.17" fill="#4747a3"/>
<rect x="488.95" y="745.51" width="5.17" height="5.17" fill="#030382"/>
<rect x="493.97" y="745.51" width="5.17" height="5.17" fill="#bbbbdd"/>
<rect x="1061.45" y="745.51" width="5.17" height="5.17" fill="#7373b9"/>
<rect x="1066.48" y="745.51" width="5.17" height="5.17" fill="#010180"/>
<rect x="1071.50" y="745.51" width="5.17" height="5.17" fill="#4040a0"/>
<rect x="1076.52" y="745.51" width="5.17" height="5.17" fill="#cdcde6"/>
<rect x="1081.54" y="745.51" width="5.17" height="5.17" fill="#ffb6b6"/>
<rect x="1086.56" y="745.51" width="5.17" height="5.17" fill="#ff1b1b"/>
<rect x="1091.59" y="745.51" width="5.17" height="5.17" fill="#ff0000"/>
<rect x="1096.61" y="745.51" width="5.17" height="5.17" fill="#ff3e3e"/>
<rect x="1101.63" y="745.51" width="5.17" height="5.17" fill="#ffe1e1"/>
<rect x="1111.67" y="745.51" width="5.17" height="5.17" fill="#c5c5ff"/>
<rect x="1116.70" y="745.51" width="5.17" height="5.17" fill="#0d0dff"/>
<rect x="1121.72" y="745.51" width="5.17" height="5.17" fill="#2424f7"/>
<rect x="1126.74" y="745.51" width="5.17" height="5.17" fill="#7d7daa"/>
<rect x="1131.76" y="745.51" width="5.17" height="5.17" fill="#181818"/>
<rect x="1136.78" y="745.51" width="5.17" height="5.17" fill="#1d1d1d"/>
<rect x="1141.81" y="745.51" width="5.17" height="5.17" fill="#c1c1c1"/>
<rect x="433.70" y="750.54" width="5.17" height="5.17" fill="#bcbcbc"/>
<rect x="438.73" y="750.54" width="5.17" height="5.17" fill="#080808"/>
<rect x="443.75" y="750.54" width="5.17" height="5.17" fill="#000062"/>
<rect x="448.77" y="750.54" width="5.17" height="5.17" fill="#0000fb"/>
<rect x="453.79" y="750.54" width="5.17" height="5.17" fill="#4444ff"/>
<rect x="458.81" y="750.54" width="5.17" height="5.17" fill="#f1f1ff"/>
<rect x="463.84" y="750.54" width="5.17" height="5.17" fill="#ff8686"/>
<rect x="468.86" y="750.54" width="5.17" height="5.17" fill="#ff0000"/>
<rect x="473.88" y="750.54" width="5.17" height="5.17" fill="#f2838a"/>
<rect x="478.90" y="750.54" width="5.17" height="5.17" fill="#5555aa"/>
<rect x="483.92" y="750.54" width="5.17" height="5.17" fill="#060683"/>
<rect x="488.95" y="750.54" width="5.17" height="5.17" fill="#afafd7"/>
<rect x="1066.48" y="750.54" width="5.17" height="5.17" fill="#9595ca"/>
<rect x="1071.50" y="750.54" width="5.17" height="5.17" fill="#232391"/>
<rect x="1076.52" y="750.54" width="5.17" height="5.17" fill="#020281"/>
<rect x="1081.54" y="750.54" width="5.17" height="5.17" fill="#6c6cb6"/>
<rect x="1086.56" y="750.54" width="5.17" height="5.17" fill="#f9eef1"/>
<rect x="1091.59" y="750.54" width="5.17" height="5.17" fill="#ffa3a3"/>
<rect x="1096.61" y="750.54" width="5.17" height="5.17" fill="#ff1b1b"/>
<rect x="1101.63" y="750.54" width="5.17" height="5.17" fill="#ff1a1a"/>
<rect x="1106.65" y="750.54" width="5.17" height="5.17" fill="#ffe2e2"/>
<rect x="1116.70" y="750.54" width="5.17" height="5.17" fill="#cdcdff"/>
<rect x="1121.72" y="750.54" width="5.17" height="5.17" fill="#2626ff"/>
<rect x="1126.74" y="750.54" width="5.17" height="5.17" fill="#1212ff"/>
<rect x="1131.76" y="750.54" width="5.17" height="5.17" fill="#7676da"/>
<rect x="1136.78" y="750.54" width="5.17" height="5.17" fill="#26262e"/>
<rect x="1141.81" y="750.54" width="5.17" height="5.17" fill="#000000"/>
<rect x="1146.83" y="750.54" width="5.17" height="5.17" fill="#2b2b2b"/>
<rect x="1151.85" y="750.54" width="5.17" height="5.17" fill="#bbbbbb"/>
<rect x="428.68" y="755.56" width="5.17" height="5.17" fill="#bcbcbc"/>
<rect x="433.70" y="755.56" width="5.17" height="5.17" fill="#0a0a1d"/>
<rect x="438.73" y="755.56" width="5.17" height="5.17" fill="#0000a3"/>
<rect x="443.75" y="755.56" width="5.17" height="5.17" fill="#0000ff"/>
<rect x="448.77" y="755.56" width="5.17" height="5.17" fill="#5454ff"/>
<rect x="458.81" y="755.56" width="5.17" height="5.17" fill="#ff8585"/>
<rect x="463.84" y="755.56" width="5.17" height="5.17" fill="#ff0000"/>
<rect x="468.86" y="755.56" width="5.17" height="5.17" fill="#e45765"/>
<rect x="473.88" y="755.56" width="5.17" height="5.17" fill="#242492"/>
<rect x="478.90" y="755.56" width="5.17" height="5.17" fill="#050583"/>
<rect x="483.92" y="755.56" width="5.17" height="5.17" fill="#a5a5d2"/>
<rect x="1076.52" y="755.56" width="5.17" height="5.17" fill="#7878bc"/>
<rect x="1081.54" y="755.56" width="5.17" height="5.17" fill="#030382"/>
<rect x="1086.56" y="755.56" width="5.17" height="5.17" fill="#37379b"/>
<rect x="1091.59" y="755.56" width="5.17" height="5.17" fill="#f1f1f8"/>
<rect x="1096.61" y="755.56" width="5.17" height="5.17" fill="#ffe0e0"/>
<rect x="1101.63" y="755.56" width="5.17" height="5.17" fill="#ff1b1b"/>
<rect x="1106.65" y="755.56" width="5.17" height="5.17" fill="#ff3b3b"/>
<rect x="1111.67" y="755.56" width="5.17" height="5.17" fill="#fff5f5"/>
<rect x="1121.72" y="755.56" width="5.17" height="5.17" fill="#f1f1ff"/>
<rect x="1126.74" y="755.56" width="5.17" height="5.17" fill="#4343ff"/>
<rect x="1131.76" y="755.56" width="5.17" height="5.17" fill="#0101ff"/>
<rect x="1136.78" y="755.56" width="5.17" height="5.17" fill="#3131fe"/>
<rect x="1141.81" y="755.56" width="5.17" height="5.17" fill="#8585af"/>
<rect x="1146.83" y="755.56" width="5.17" height="5.17" fill="#3d3d3d"/>
<rect x="1151.85" y="755.56" width="5.17" height="5.17" fill="#030303"/>
<rect x="1156.87" y="755.56" width="5.17" height="5.17" fill="#6b6b6b"/>
<rect x="1161.89" y="755.56" width="5.17" height="5.17" fill="#e6e6e6"/>
<rect x="423.66" y="760.58" width="5.17" height="5.17" fill="#c1c1c1"/>
<rect x="428.68" y="760.58" width="5.17" height="5.17" fill="#0a0a1a"/>
<rect x="433.70" y="760.58" width="5.17" height="5.17" fill="#0000d4"/>
<rect x="438.73" y="760.58" width="5.17" height="5.17" fill="#0d0dff"/>
<rect x="443.75" y="760.58" width="5.17" height="5.17" fill="#8d8dff"/>
<rect x="448.77" y="760.58" width="5.17" height="5.17" fill="#fed4d5"/>
<rect x="453.79" y="760.58" width="5.17" height="5.17" fill="#ff3636"/>
<rect x="458.81" y="760.58" width="5.17" height="5.17" fill="#ff0000"/>
<rect x="463.84" y="760.58" width="5.17" height="5.17" fill="#e3515f"/>
<rect x="468.86" y="760.58" width="5.17" height="5.17" fill="#272592"/>
<rect x="473.88" y="760.58" width="5.17" height="5.17" fill="#17178b"/>
<rect x="478.90" y="760.58" width="5.17" height="5.17" fill="#cdcde6"/>
<rect x="1081.54" y="760.58" width="5.17" height="5.17" fill="#b8b8db"/>
<rect x="1086.56" y="760.58" width="5.17" height="5.17" fill="#0a0a85"/>
<rect x="1091.59" y="760.58" width="5.17" height="5.17" fill="#282894"/>
<rect x="1096.61" y="760.58" width="5.17" height="5.17" fill="#cecee7"/>
<rect x="1101.63" y="760.58" width="5.17" height="5.17" fill="#ffbebe"/>
<rect x="1106.65" y="760.58" width="5.17" height="5.17" fill="#ff0707"/>
<rect x="1111.67" y="760.58" width="5.17" height="5.17" fill="#ff3737"/>
<rect x="1116.70" y="760.58" width="5.17" height="5.17" fill="#ffe7e7"/>
<rect x="1131.76" y="760.58" width="5.17" height="5.17" fill="#c0c0ff"/>
<rect x="1136.78" y="760.58" width="5.17" height="5.17" fill="#1c1cff"/>
<rect x="1141.81" y="760.58" width="5.17" height="5.17" fill="#0000ff"/>
<rect x="1146.83" y="760.58" width="5.17" height="5.17" fill="#2626fc"/>
<rect x="1151.85" y="760.58" width="5.17" height="5.17" fill="#0202b4"/>
<rect x="1156.87" y="760.58" width="5.17" height="5.17" fill="#000068"/>
<rect x="1161.89" y="760.58" width="5.17" height="5.17" fill="#070710"/>
<rect x="1166.92" y="760.58" width="5.17" height="5.17" fill="#737373"/>
<rect x="1171.94" y="760.58" width="5.17" height="5.17" fill="#f0f0f0"/>
<rect x="418.64" y="765.60" width="5.17" height="5.17" fill="#cfcfcf"/>
<rect x="423.66" y="765.60" width="5.17" height="5.17" fill="#0b0b0b"/>
<rect x="428.68" y="765.60" width="5.17" height="5.17" fill="#000080"/>
<rect x="433.70" y="765.60" width="5.17" height="5.17" fill="#0404ff"/>
<rect x="438.73" y="765.60" width="5.17" height="5.17" fill="#c9c9ff"/>
<rect x="443.75" y="765.60" width="5.17" height="5.17" fill="#ffefef"/>
<rect x="448.77" y="765.60" width="5.17" height="5.17" fill="#ff2424"/>
<rect x="453.79" y="765.60" width="5.17" height="5.17" fill="#ff2424"/>
<rect x="458.81" y="765.60" width="5.17" height="5.17" fill="#c8849f"/>
<rect x="463.84" y="765.60" width="5.17" height="5.17" fill="#111189"/>
<rect x="468.86" y="765.60" width="5.17" height="5.17" fill="#202090"/>
<rect x="473.88" y="765.60" width="5.17" height="5.17" fill="#d5d5ea"/>
<rect x="1086.56" y="765.60" width="5.17" height="5.17" fill="#c6c6e3"/>
<rect x="1091.59" y="765.60" width="5.17" height="5.17" fill="#232391"/>
<rect x="1096.61" y="765.60" width="5.17" height="5.17" fill="#060683"/>
<rect x="1101.63" y="765.60" width="5.17" height="5.17" fill="#6262b1"/>
<rect x="1106.65" y="765.60" width="5.17" height="5.17" fill="#b77196"/>
<rect x="1111.67" y="765.60" width="5.17" height="5.17" fill="#ff1010"/>
<rect x="1116.70" y="765.60" width="5.17" height="5.17" fill="#ff0f0f"/>
<rect x="1121.72" y="765.60" width="5.17" height="5.17" fill="#ff6464"/>
<rect x="1126.74" y="765.60" width="5.17" height="5.17" fill="#ffeeee"/>
<rect x="1136.78" y="765.60" width="5.17" height="5.17" fill="#f4f4ff"/>
<rect x="1141.81" y="765.60" width="5.17" height="5.17" fill="#9696ff"/>
<rect x="1146.83" y="765.60" width="5.17" height="5.17" fill="#5858ff"/>
<rect x="1151.85" y="765.60" width="5.17" height="5.17" fill="#3a3aff"/>
<rect x="1156.87" y="765.60" width="5.17" height="5.17" fill="#0303ff"/>
<rect x="1161.89" y="765.60" width="5.17" height="5.17" fill="#0707af"/>
<rect x="1166.92" y="765.60" width="5.17" height="5.17" fill="#080808"/>
<rect x="1171.94" y="765.60" width="5.17" height="5.17" fill="#262626"/>
<rect x="1176.96" y="765.60" width="5.17" height="5.17" fill="#dbdbdb"/>
<rect x="413.62" y="770.62" width="5.17" height="5.17" fill="#e4e4e4"/>
<rect x="418.64" y="770.62" width="5.17" height="5.17" fill="#1d1d1d"/>
<rect x="423.66" y="770.62" width="5.17" height="5.17" fill="#020229"/>
<rect x="428.68" y="770.62" width="5.17" height="5.17" fill="#0101f1"/>
<rect x="433.70" y="770.62" width="5.17" height="5.17" fill="#6262ff"/>
<rect x="443.75" y="770.62" width="5.17" height="5.17" fill="#ff6565"/>
<rect x="448.77" y="770.62" width="5.17" height="5.17" fill="#ff0909"/>
<rect x="453.79" y="770.62" width="5.17" height="5.17" fill="#b28db4"/>
<rect x="458.81" y="770.62" width="5.17" height="5.17" fill="#0f0f88"/>
<rect x="463.84" y="770.62" width="5.17" height="5.17" fill="#34349a"/>
<rect x="468.86" y="770.62" width="5.17" height="5.17" fill="#ececf5"/>
<rect x="1091.59" y="770.62" width="5.17" height="5.17" fill="#f6f6fb"/>
<rect x="1096.61" y="770.62" width="5.17" height="5.17" fill="#7c7cbe"/>
<rect x="1101.63" y="770.62" width="5.17" height="5.17" fill="#262693"/>
<rect x="1106.65" y="770.62" width="5.17" height="5.17" fill="#010180"/>
<rect x="1111.67" y="770.62" width="5.17" height="5.17" fill="#674894"/>
<rect x="1116.70" y="770.62" width="5.17" height="5.17" fill="#d3556b"/>
<rect x="1121.72" y="770.62" width="5.17" height="5.17" fill="#ff0c0c"/>
<rect x="1126.74" y="770.62" width="5.17" height="5.17" fill="#ff1919"/>
<rect x="1131.76" y="770.62" width="5.17" height="5.17" fill="#ff9090"/>
<rect x="1136.78" y="770.62" width="5.17" height="5.17" fill="#fff2f2"/>
<rect x="1156.87" y="770.62" width="5.17" height="5.17" fill="#9494ff"/>
<rect x="1161.89" y="770.62" width="5.17" height="5.17" fill="#0000ff"/>
<rect x="1166.92" y="770.62" width="5.17" height="5.17" fill="#7373d3"/>
<rect x="1171.94" y="770.62" width="5.17" height="5.17" fill="#212121"/>
<rect x="1176.96" y="770.62" width="5.17" height="5.17" fill="#0f0f0f"/>
<rect x="1181.98" y="770.62" width="5.17" height="5.17" fill="#989898"/>
<rect x="413.62" y="775.65" width="5.17" height="5.17" fill="#363636"/>
<rect x="418.64" y="775.65" width="5.17" height="5.17" fill="#000024"/>
<rect x="423.66" y="775.65" width="5.17" height="5.17" fill="#0000df"/>
<rect x="428.68" y="775.65" width="5.17" height="5.17" fill="#2120fe"/>
<rect x="433.70" y="775.65" width="5.17" height="5.17" fill="#e8a4bb"/>
<rect x="438.73" y="775.65" width="5.17" height="5.17" fill="#ff4545"/>
<rect x="443.75" y="775.65" width="5.17" height="5.17" fill="#ff0000"/>
<rect x="448.77" y="775.65" width="5.17" height="5.17" fill="#b03b63"/>
<rect x="453.79" y="775.65" width="5.17" height="5.17" fill="#040482"/>
<rect x="458.81" y="775.65" width="5.17" height="5.17" fill="#4949a5"/>
<rect x="463.84" y="775.65" width="5.17" height="5.17" fill="#eeeef6"/>
<rect x="1106.65" y="775.65" width="5.17" height="5.17" fill="#8383c1"/>
<rect x="1111.67" y="775.65" width="5.17" height="5.17" fill="#111189"/>
<rect x="1116.70" y="775.65" width="5.17" height="5.17" fill="#030381"/>
<rect x="1121.72" y="775.65" width="5.17" height="5.17" fill="#8a67a2"/>
<rect x="1126.74" y="775.65" width="5.17" height="5.17" fill="#fa5254"/>
<rect x="1131.76" y="775.65" width="5.17" height="5.17" fill="#ff0202"/>
<rect x="1136.78" y="775.65" width="5.17" height="5.17" fill="#ff1414"/>
<rect x="1141.81" y="775.65" width="5.17" height="5.17" fill="#ffacac"/>
<rect x="1161.89" y="775.65" width="5.17" height="5.17" fill="#5454ff"/>
<rect x="1166.92" y="775.65" width="5.17" height="5.17" fill="#0606ff"/>
<rect x="1171.94" y="775.65" width="5.17" height="5.17" fill="#6060e8"/>
<rect x="1176.96" y="775.65" width="5.17" height="5.17" fill="#4a4a60"/>
<rect x="1181.98" y="775.65" width="5.17" height="5.17" fill="#000000"/>
<rect x="1187.00" y="775.65" width="5.17" height="5.17" fill="#7a7a7a"/>
<rect x="1192.03" y="775.65" width="5.17" height="5.17" fill="#ebebeb"/>
<rect x="408.59" y="780.67" width="5.17" height="5.17" fill="#989898"/>
<rect x="413.62" y="780.67" width="5.17" height="5.17" fill="#00001a"/>
<rect x="418.64" y="780.67" width="5.17" height="5.17" fill="#0000eb"/>
<rect x="423.66" y="780.67" width="5.17" height="5.17" fill="#1d15f7"/>
<rect x="428.68" y="780.67" width="5.17" height="5.17" fill="#db092d"/>
<rect x="433.70" y="780.67" width="5.17" height="5.17" fill="#ff0000"/>
<rect x="438.73" y="780.67" width="5.17" height="5.17" fill="#ff1b1b"/>
<rect x="443.75" y="780.67" width="5.17" height="5.17" fill="#872b68"/>
<rect x="448.77" y="780.67" width="5.17" height="5.17" fill="#000080"/>
<rect x="453.79" y="780.67" width="5.17" height="5.17" fill="#39399c"/>
<rect x="458.81" y="780.67" width="5.17" height="5.17" fill="#f7f7fb"/>
<rect x="1116.70" y="780.67" width="5.17" height="5.17" fill="#6565b2"/>
<rect x="1121.72" y="780.67" width="5.17" height="5.17" fill="#000080"/>
<rect x="1126.74" y="780.67" width="5.17" height="5.17" fill="#0d0d86"/>
<rect x="1131.76" y="780.67" width="5.17" height="5.17" fill="#9b75a7"/>
<rect x="1136.78" y="780.67" width="5.17" height="5.17" fill="#fe494a"/>
<rect x="1141.81" y="780.67" width="5.17" height="5.17" fill="#ff0000"/>
<rect x="1146.83" y="780.67" width="5.17" height="5.17" fill="#ff0f0f"/>
<rect x="1151.85" y="780.67" width="5.17" height="5.17" fill="#ff9191"/>
<rect x="1161.89" y="780.67" width="5.17" height="5.17" fill="#f4f4ff"/>
<rect x="1166.92" y="780.67" width="5.17" height="5.17" fill="#7171ff"/>
<rect x="1171.94" y="780.67" width="5.17" height="5.17" fill="#0303ff"/>
<rect x="1176.96" y="780.67" width="5.17" height="5.17" fill="#0d0dfe"/>
<rect x="1181.98" y="780.67" width="5.17" height="5.17" fill="#14146d"/>
<rect x="1187.00" y="780.67" width="5.17" height="5.17" fill="#030303"/>
<rect x="1192.03" y="780.67" width="5.17" height="5.17" fill="#0f0f0f"/>
<rect x="1197.05" y="780.67" width="5.17" height="5.17" fill="#808080"/>
<rect x="1202.07" y="780.67" width="5.17" height="5.17" fill="#f1f1f1"/>
<rect x="408.59" y="785.69" width="5.17" height="5.17" fill="#1e1e1e"/>
<rect x="413.62" y="785.69" width="5.17" height="5.17" fill="#0000a5"/>
<rect x="418.64" y="785.69" width="5.17" height="5.17" fill="#1111ff"/>
<rect x="423.66" y="785.69" width="5.17" height="5.17" fill="#e38fab"/>
<rect x="428.68" y="785.69" width="5.17" height="5.17" fill="#ff0000"/>
<rect x="433.70" y="785.69" width="5.17" height="5.17" fill="#ffa6a6"/>
<rect x="438.73" y="785.69" width="5.17" height="5.17" fill="#9d9acb"/>
<rect x="443.75" y="785.69" width="5.17" height="5.17" fill="#010181"/>
<rect x="448.77" y="785.69" width="5.17" height="5.17" fill="#6565b2"/>
<rect x="1121.72" y="785.69" width="5.17" height="5.17" fill="#d0d0e8"/>
<rect x="1126.74" y="785.69" width="5.17" height="5.17" fill="#5c5cae"/>
<rect x="1131.76" y="785.69" width="5.17" height="5.17" fill="#000080"/>
<rect x="1136.78" y="785.69" width="5.17" height="5.17" fill="#6361af"/>
<rect x="1141.81" y="785.69" width="5.17" height="5.17" fill="#f4afb5"/>
<rect x="1146.83" y="785.69" width="5.17" height="5.17" fill="#ff5d5d"/>
<rect x="1151.85" y="785.69" width="5.17" height="5.17" fill="#ff0101"/>
<rect x="1156.87" y="785.69" width="5.17" height="5.17" fill="#ff0808"/>
<rect x="1161.89" y="785.69" width="5.17" height="5.17" fill="#ff5757"/>
<rect x="1166.92" y="785.69" width="5.17" height="5.17" fill="#ffc9c9"/>
<rect x="1171.94" y="785.69" width="5.17" height="5.17" fill="#e1e1ff"/>
<rect x="1176.96" y="785.69" width="5.17" height="5.17" fill="#4747ff"/>
<rect x="1181.98" y="785.69" width="5.17" height="5.17" fill="#0000ff"/>
<rect x="1187.00" y="785.69" width="5.17" height="5.17" fill="#1818db"/>
<rect x="1192.03" y="785.69" width="5.17" height="5.17" fill="#000091"/>
<rect x="1197.05" y="785.69" width="5.17" height="5.17" fill="#000025"/>
<rect x="1202.07" y="785.69" width="5.17" height="5.17" fill="#131313"/>
<rect x="1207.09" y="785.69" width="5.17" height="5.17" fill="#969696"/>
<rect x="403.57" y="790.71" width="5.17" height="5.17" fill="#b0b0b0"/>
<rect x="408.59" y="790.71" width="5.17" height="5.17" fill="#000059"/>
<rect x="413.62" y="790.71" width="5.17" height="5.17" fill="#0000ff"/>
<rect x="418.64" y="790.71" width="5.17" height="5.17" fill="#9174e2"/>
<rect x="423.66" y="790.71" width="5.17" height="5.17" fill="#ff2929"/>
<rect x="428.68" y="790.71" width="5.17" height="5.17" fill="#ed141e"/>
<rect x="433.70" y="790.71" width="5.17" height="5.17" fill="#5858ac"/>
<rect x="438.73" y="790.71" width="5.17" height="5.17" fill="#020281"/>
<rect x="443.75" y="790.71" width="5.17" height="5.17" fill="#5757ab"/>
<rect x="1131.76" y="790.71" width="5.17" height="5.17" fill="#8c8cc6"/>
<rect x="1136.78" y="790.71" width="5.17" height="5.17" fill="#020281"/>
<rect x="1141.81" y="790.71" width="5.17" height="5.17" fill="#17178b"/>
<rect x="1146.83" y="790.71" width="5.17" height="5.17" fill="#b9b9dc"/>
<rect x="1151.85" y="790.71" width="5.17" height="5.17" fill="#ffd6d6"/>
<rect x="1156.87" y="790.71" width="5.17" height="5.17" fill="#ff8181"/>
<rect x="1161.89" y="790.71" width="5.17" height="5.17" fill="#ff1f1f"/>
<rect x="1166.92" y="790.71" width="5.17" height="5.17" fill="#ff0a0a"/>
<rect x="1171.94" y="790.71" width="5.17" height="5.17" fill="#ff7c7c"/>
<rect x="1176.96" y="790.71" width="5.17" height="5.17" fill="#fef1f2"/>
<rect x="1181.98" y="790.71" width="5.17" height="5.17" fill="#a7a7ff"/>
<rect x="1187.00" y="790.71" width="5.17" height="5.17" fill="#4141ff"/>
<rect x="1192.03" y="790.71" width="5.17" height="5.17" fill="#1414ff"/>
<rect x="1197.05" y="790.71" width="5.17" height="5.17" fill="#0000fc"/>
<rect x="1202.07" y="790.71" width="5.17" height="5.17" fill="#000090"/>
<rect x="1207.09" y="790.71" width="5.17" height="5.17" fill="#00001a"/>
<rect x="1212.11" y="790.71" width="5.17" height="5.17" fill="#323232"/>
<rect x="1217.14" y="790.71" width="5.17" height="5.17" fill="#c4c4c4"/>
<rect x="403.57" y="795.73" width="5.17" height="5.17" fill="#36364c"/>
<rect x="408.59" y="795.73" width="5.17" height="5.17" fill="#0000f5"/>
<rect x="413.62" y="795.73" width="5.17" height="5.17" fill="#5027d7"/>
<rect x="418.64" y="795.73" width="5.17" height="5.17" fill="#fe1f1f"/>
<rect x="423.66" y="795.73" width="5.17" height="5.17" fill="#e2000e"/>
<rect x="428.68" y="795.73" width="5.17" height="5.17" fill="#22006f"/>
<rect x="433.70" y="795.73" width="5.17" height="5.17" fill="#14148a"/>
<rect x="438.73" y="795.73" width="5.17" height="5.17" fill="#8383c1"/>
<rect x="1136.78" y="795.73" width="5.17" height="5.17" fill="#dbdbed"/>
<rect x="1141.81" y="795.73" width="5.17" height="5.17" fill="#3a3a9d"/>
<rect x="1146.83" y="795.73" width="5.17" height="5.17" fill="#020281"/>
<rect x="1151.85" y="795.73" width="5.17" height="5.17" fill="#8585c2"/>
<rect x="1161.89" y="795.73" width="5.17" height="5.17" fill="#fff0f0"/>
<rect x="1166.92" y="795.73" width="5.17" height="5.17" fill="#ff6060"/>
<rect x="1171.94" y="795.73" width="5.17" height="5.17" fill="#ff0606"/>
<rect x="1176.96" y="795.73" width="5.17" height="5.17" fill="#ff2b2b"/>
<rect x="1181.98" y="795.73" width="5.17" height="5.17" fill="#ffc2c2"/>
<rect x="1192.03" y="795.73" width="5.17" height="5.17" fill="#f4f4ff"/>
<rect x="1197.05" y="795.73" width="5.17" height="5.17" fill="#8383ff"/>
<rect x="1202.07" y="795.73" width="5.17" height="5.17" fill="#0e0eff"/>
<rect x="1207.09" y="795.73" width="5.17" height="5.17" fill="#0000ee"/>
<rect x="1212.11" y="795.73" width="5.17" height="5.17" fill="#00007b"/>
<rect x="1217.14" y="795.73" width="5.17" height="5.17" fill="#000018"/>
<rect x="1222.16" y="795.73" width="5.17" height="5.17" fill="#444444"/>
<rect x="1227.18" y="795.73" width="5.17" height="5.17" fill="#b2b2b2"/>
<rect x="398.55" y="800.76" width="5.17" height="5.17" fill="#afafaf"/>
<rect x="403.57" y="800.76" width="5.17" height="5.17" fill="#000080"/>
<rect x="408.59" y="800.76" width="5.17" height="5.17" fill="#0d00f2"/>
<rect x="413.62" y="800.76" width="5.17" height="5.17" fill="#e20a27"/>
<rect x="418.64" y="800.76" width="5.17" height="5.17" fill="#df0313"/>
<rect x="423.66" y="800.76" width="5.17" height="5.17" fill="#1d0072"/>
<rect x="428.68" y="800.76" width="5.17" height="5.17" fill="#18188c"/>
<rect x="433.70" y="800.76" width="5.17" height="5.17" fill="#d7d7eb"/>
<rect x="1146.83" y="800.76" width="5.17" height="5.17" fill="#7a7abd"/>
<rect x="1151.85" y="800.76" width="5.17" height="5.17" fill="#020281"/>
<rect x="1156.87" y="800.76" width="5.17" height="5.17" fill="#18188c"/>
<rect x="1161.89" y="800.76" width="5.17" height="5.17" fill="#6666b3"/>
<rect x="1166.92" y="800.76" width="5.17" height="5.17" fill="#b1b1d8"/>
<rect x="1171.94" y="800.76" width="5.17" height="5.17" fill="#f4bbc1"/>
<rect x="1176.96" y="800.76" width="5.17" height="5.17" fill="#ff2828"/>
<rect x="1181.98" y="800.76" width="5.17" height="5.17" fill="#ff0000"/>
<rect x="1187.00" y="800.76" width="5.17" height="5.17" fill="#ff1a1a"/>
<rect x="1192.03" y="800.76" width="5.17" height="5.17" fill="#ff8b8b"/>
<rect x="1197.05" y="800.76" width="5.17" height="5.17" fill="#ffeeee"/>
<rect x="1202.07" y="800.76" width="5.17" height="5.17" fill="#e0e0ff"/>
<rect x="1207.09" y="800.76" width="5.17" height="5.17" fill="#5050ff"/>
<rect x="1212.11" y="800.76" width="5.17" height="5.17" fill="#0b0bff"/>
<rect x="1217.14" y="800.76" width="5.17" height="5.17" fill="#0000f5"/>
<rect x="1222.16" y="800.76" width="5.17" height="5.17" fill="#00008e"/>
<rect x="1227.18" y="800.76" width="5.17" height="5.17" fill="#00001f"/>
<rect x="1232.20" y="800.76" width="5.17" height="5.17" fill="#121212"/>
<rect x="1237.22" y="800.76" width="5.17" height="5.17" fill="#b8b8b8"/>
<rect x="398.55" y="805.78" width="5.17" height="5.17" fill="#474748"/>
<rect x="403.57" y="805.78" width="5.17" height="5.17" fill="#0000e6"/>
<rect x="408.59" y="805.78" width="5.17" height="5.17" fill="#980067"/>
<rect x="413.62" y="805.78" width="5.17" height="5.17" fill="#ff0d0d"/>
<rect x="418.64" y="805.78" width="5.17" height="5.17" fill="#55297f"/>
<rect x="423.66" y="805.78" width="5.17" height="5.17" fill="#111189"/>
<rect x="428.68" y="805.78" width="5.17" height="5.17" fill="#dcdcee"/>
<rect x="1151.85" y="805.78" width="5.17" height="5.17" fill="#cbcbe5"/>
<rect x="1156.87" y="805.78" width="5.17" height="5.17" fill="#5e5eaf"/>
<rect x="1161.89" y="805.78" width="5.17" height="5.17" fill="#1b1b8e"/>
<rect x="1166.92" y="805.78" width="5.17" height="5.17" fill="#000080"/>
<rect x="1171.94" y="805.78" width="5.17" height="5.17" fill="#212191"/>
<rect x="1176.96" y="805.78" width="5.17" height="5.17" fill="#9e98c8"/>
<rect x="1181.98" y="805.78" width="5.17" height="5.17" fill="#f1a3aa"/>
<rect x="1187.00" y="805.78" width="5.17" height="5.17" fill="#ff5151"/>
<rect x="1192.03" y="805.78" width="5.17" height="5.17" fill="#ff0101"/>
<rect x="1197.05" y="805.78" width="5.17" height="5.17" fill="#ff1818"/>
<rect x="1202.07" y="805.78" width="5.17" height="5.17" fill="#ffa8a8"/>
<rect x="1212.11" y="805.78" width="5.17" height="5.17" fill="#e9e9ff"/>
<rect x="1217.14" y="805.78" width="5.17" height="5.17" fill="#6c6cff"/>
<rect x="1222.16" y="805.78" width="5.17" height="5.17" fill="#0909ff"/>
<rect x="1227.18" y="805.78" width="5.17" height="5.17" fill="#0000fe"/>
<rect x="1232.20" y="805.78" width="5.17" height="5.17" fill="#000073"/>
<rect x="1237.22" y="805.78" width="5.17" height="5.17" fill="#000000"/>
<rect x="1242.25" y="805.78" width="5.17" height="5.17" fill="#2d2d2d"/>
<rect x="1247.27" y="805.78" width="5.17" height="5.17" fill="#c3c3c3"/>
<rect x="393.53" y="810.80" width="5.17" height="5.17" fill="#e6e6e6"/>
<rect x="398.55" y="810.80" width="5.17" height="5.17" fill="#030340"/>
<rect x="403.57" y="810.80" width="5.17" height="5.17" fill="#5400ab"/>
<rect x="408.59" y="810.80" width="5.17" height="5.17" fill="#fd0002"/>
<rect x="413.62" y="810.80" width="5.17" height="5.17" fill="#9e2e5e"/>
<rect x="418.64" y="810.80" width="5.17" height="5.17" fill="#000080"/>
<rect x="423.66" y="810.80" width="5.17" height="5.17" fill="#9191c8"/>
<rect x="1166.92" y="810.80" width="5.17" height="5.17" fill="#c7c7e3"/>
<rect x="1171.94" y="810.80" width="5.17" height="5.17" fill="#3d3d9e"/>
<rect x="1176.96" y="810.80" width="5.17" height="5.17" fill="#010180"/>
<rect x="1181.98" y="810.80" width="5.17" height="5.17" fill="#18188c"/>
<rect x="1187.00" y="810.80" width="5.17" height="5.17" fill="#9797cb"/>
<rect x="1192.03" y="810.80" width="5.17" height="5.17" fill="#fcd0d1"/>
<rect x="1197.05" y="810.80" width="5.17" height="5.17" fill="#ff3737"/>
<rect x="1202.07" y="810.80" width="5.17" height="5.17" fill="#ff0000"/>
<rect x="1207.09" y="810.80" width="5.17" height="5.17" fill="#ff1a1a"/>
<rect x="1212.11" y="810.80" width="5.17" height="5.17" fill="#ff7c7c"/>
<rect x="1217.14" y="810.80" width="5.17" height="5.17" fill="#ffdbdb"/>
<rect x="1222.16" y="810.80" width="5.17" height="5.17" fill="#ededff"/>
<rect x="1227.18" y="810.80" width="5.17" height="5.17" fill="#6e6eff"/>
<rect x="1232.20" y="810.80" width="5.17" height="5.17" fill="#0000ff"/>
<rect x="1237.22" y="810.80" width="5.17" height="5.17" fill="#0000cb"/>
<rect x="1242.25" y="810.80" width="5.17" height="5.17" fill="#000060"/>
<rect x="1247.27" y="810.80" width="5.17" height="5.17" fill="#03030b"/>
<rect x="1252.29" y="810.80" width="5.17" height="5.17" fill="#5e5e5e"/>
<rect x="1257.31" y="810.80" width="5.17" height="5.17" fill="#d7d7d7"/>
<rect x="393.53" y="815.82" width="5.17" height="5.17" fill="#919191"/>
<rect x="398.55" y="815.82" width="5.17" height="5.17" fill="#250076"/>
<rect x="403.57" y="815.82" width="5.17" height="5.17" fill="#fc0003"/>
<rect x="408.59" y="815.82" width="5.17" height="5.17" fill="#85003d"/>
<rect x="413.62" y="815.82" width="5.17" height="5.17" fill="#02007f"/>
<rect x="418.64" y="815.82" width="5.17" height="5.17" fill="#5757ab"/>
<rect x="1176.96" y="815.82" width="5.17" height="5.17" fill="#d7d7eb"/>
<rect x="1181.98" y="815.82" width="5.17" height="5.17" fill="#5454aa"/>
<rect x="1187.00" y="815.82" width="5.17" height="5.17" fill="#010180"/>
<rect x="1192.03" y="815.82" width="5.17" height="5.17" fill="#303098"/>
<rect x="1197.05" y="815.82" width="5.17" height="5.17" fill="#cdcde6"/>
<rect x="1202.07" y="815.82" width="5.17" height="5.17" fill="#ffc4c4"/>
<rect x="1207.09" y="815.82" width="5.17" height="5.17" fill="#ff6262"/>
<rect x="1212.11" y="815.82" width="5.17" height="5.17" fill="#ff0b0b"/>
<rect x="1217.14" y="815.82" width="5.17" height="5.17" fill="#ff0000"/>
<rect x="1222.16" y="815.82" width="5.17" height="5.17" fill="#ff1919"/>
<rect x="1227.18" y="815.82" width="5.17" height="5.17" fill="#fe7575"/>
<rect x="1232.20" y="815.82" width="5.17" height="5.17" fill="#a38ee9"/>
<rect x="1237.22" y="815.82" width="5.17" height="5.17" fill="#3a3aff"/>
<rect x="1242.25" y="815.82" width="5.17" height="5.17" fill="#0101ff"/>
<rect x="1247.27" y="815.82" width="5.17" height="5.17" fill="#0000d8"/>
<rect x="1252.29" y="815.82" width="5.17" height="5.17" fill="#000049"/>
<rect x="1257.31" y="815.82" width="5.17" height="5.17" fill="#010103"/>
<rect x="1262.33" y="815.82" width="5.17" height="5.17" fill="#4d4d4d"/>
<rect x="1267.36" y="815.82" width="5.17" height="5.17" fill="#c9c9c9"/>
<rect x="393.53" y="820.84" width="5.17" height="5.17" fill="#35353a"/>
<rect x="398.55" y="820.84" width="5.17" height="5.17" fill="#b40031"/>
<rect x="403.57" y="820.84" width="5.17" height="5.17" fill="#ae0029"/>
<rect x="408.59" y="820.84" width="5.17" height="5.17" fill="#000080"/>
<rect x="413.62" y="820.84" width="5.17" height="5.17" fill="#6767b3"/>
<rect x="1187.00" y="820.84" width="5.17" height="5.17" fill="#bbbbdd"/>
<rect x="1192.03" y="820.84" width="5.17" height="5.17" fill="#1f1f8f"/>
<rect x="1197.05" y="820.84" width="5.17" height="5.17" fill="#010180"/>
<rect x="1202.07" y="820.84" width="5.17" height="5.17" fill="#4b4ba5"/>
<rect x="1207.09" y="820.84" width="5.17" height="5.17" fill="#cccce6"/>
<rect x="1212.11" y="820.84" width="5.17" height="5.17" fill="#ffefef"/>
<rect x="1217.14" y="820.84" width="5.17" height="5.17" fill="#ffa3a3"/>
<rect x="1222.16" y="820.84" width="5.17" height="5.17" fill="#ff6060"/>
<rect x="1227.18" y="820.84" width="5.17" height="5.17" fill="#ff0808"/>
<rect x="1232.20" y="820.84" width="5.17" height="5.17" fill="#ff1010"/>
<rect x="1237.22" y="820.84" width="5.17" height="5.17" fill="#ff9595"/>
<rect x="1242.25" y="820.84" width="5.17" height="5.17" fill="#c4c4fe"/>
<rect x="1247.27" y="820.84" width="5.17" height="5.17" fill="#2828ff"/>
<rect x="1252.29" y="820.84" width="5.17" height="5.17" fill="#0000ff"/>
<rect x="1257.31" y="820.84" width="5.17" height="5.17" fill="#0000c2"/>
<rect x="1262.33" y="820.84" width="5.17" height="5.17" fill="#000057"/>
<rect x="1267.36" y="820.84" width="5.17" height="5.17" fill="#01010d"/>
<rect x="1272.38" y="820.84" width="5.17" height="5.17" fill="#656565"/>
<rect x="1277.40" y="820.84" width="5.17" height="5.17" fill="#dadada"/>
<rect x="388.51" y="825.87" width="5.17" height="5.17" fill="#dddddd"/>
<rect x="393.53" y="825.87" width="5.17" height="5.17" fill="#3d0226"/>
<rect x="398.55" y="825.87" width="5.17" height="5.17" fill="#f70004"/>
<rect x="403.57" y="825.87" width="5.17" height="5.17" fill="#1a0073"/>
<rect x="408.59" y="825.87" width="5.17" height="5.17" fill="#3a3a9d"/>
<rect x="1192.03" y="825.87" width="5.17" height="5.17" fill="#f3f3f9"/>
<rect x="1197.05" y="825.87" width="5.17" height="5.17" fill="#9494c9"/>
<rect x="1202.07" y="825.87" width="5.17" height="5.17" fill="#232391"/>
<rect x="1207.09" y="825.87" width="5.17" height="5.17" fill="#020281"/>
<rect x="1212.11" y="825.87" width="5.17" height="5.17" fill="#5656ab"/>
<rect x="1217.14" y="825.87" width="5.17" height="5.17" fill="#b8b8dc"/>
<rect x="1227.18" y="825.87" width="5.17" height="5.17" fill="#ffe6e6"/>
<rect x="1232.20" y="825.87" width="5.17" height="5.17" fill="#ff6868"/>
<rect x="1237.22" y="825.87" width="5.17" height="5.17" fill="#ff0202"/>
<rect x="1242.25" y="825.87" width="5.17" height="5.17" fill="#ff4444"/>
<rect x="1247.27" y="825.87" width="5.17" height="5.17" fill="#fdcbce"/>
<rect x="1252.29" y="825.87" width="5.17" height="5.17" fill="#afafff"/>
<rect x="1257.31" y="825.87" width="5.17" height="5.17" fill="#2b2bff"/>
<rect x="1262.33" y="825.87" width="5.17" height="5.17" fill="#0000ff"/>
<rect x="1267.36" y="825.87" width="5.17" height="5.17" fill="#0000e4"/>
<rect x="1272.38" y="825.87" width="5.17" height="5.17" fill="#000072"/>
<rect x="1277.40" y="825.87" width="5.17" height="5.17" fill="#01010a"/>
<rect x="1282.42" y="825.87" width="5.17" height="5.17" fill="#3f3f3f"/>
<rect x="1287.44" y="825.87" width="5.17" height="5.17" fill="#cbcbcb"/>
<rect x="388.51" y="830.89" width="5.17" height="5.17" fill="#757575"/>
<rect x="393.53" y="830.89" width="5.17" height="5.17" fill="#b6001a"/>
<rect x="398.55" y="830.89" width="5.17" height="5.17" fill="#8e0039"/>
<rect x="403.57" y="830.89" width="5.17" height="5.17" fill="#010180"/>
<rect x="408.59" y="830.89" width="5.17" height="5.17" fill="#cbcbe5"/>
<rect x="1207.09" y="830.89" width="5.17" height="5.17" fill="#9999cc"/>
<rect x="1212.11" y="830.89" width="5.17" height="5.17" fill="#18188c"/>
<rect x="1217.14" y="830.89" width="5.17" height="5.17" fill="#000080"/>
<rect x="1222.16" y="830.89" width="5.17" height="5.17" fill="#1a1a8d"/>
<rect x="1227.18" y="830.89" width="5.17" height="5.17" fill="#6c6cb6"/>
<rect x="1232.20" y="830.89" width="5.17" height="5.17" fill="#c0c0e0"/>
<rect x="1237.22" y="830.89" width="5.17" height="5.17" fill="#fcb6b7"/>
<rect x="1242.25" y="830.89" width="5.17" height="5.17" fill="#ff2525"/>
<rect x="1247.27" y="830.89" width="5.17" height="5.17" fill="#ff0000"/>
<rect x="1252.29" y="830.89" width="5.17" height="5.17" fill="#ff3a3a"/>
<rect x="1257.31" y="830.89" width="5.17" height="5.17" fill="#ffb5b5"/>
<rect x="1262.33" y="830.89" width="5.17" height="5.17" fill="#dcdbfe"/>
<rect x="1267.36" y="830.89" width="5.17" height="5.17" fill="#5858ff"/>
<rect x="1272.38" y="830.89" width="5.17" height="5.17" fill="#0101ff"/>
<rect x="1277.40" y="830.89" width="5.17" height="5.17" fill="#0000e8"/>
<rect x="1282.42" y="830.89" width="5.17" height="5.17" fill="#000072"/>
<rect x="1287.44" y="830.89" width="5.17" height="5.17" fill="#030308"/>
<rect x="1292.47" y="830.89" width="5.17" height="5.17" fill="#555555"/>
<rect x="1297.49" y="830.89" width="5.17" height="5.17" fill="#c7c7c7"/>
<rect x="388.51" y="835.91" width="5.17" height="5.17" fill="#371d32"/>
<rect x="393.53" y="835.91" width="5.17" height="5.17" fill="#f30008"/>
<rect x="398.55" y="835.91" width="5.17" height="5.17" fill="#1b0073"/>
<rect x="403.57" y="835.91" width="5.17" height="5.17" fill="#4c4ca6"/>
<rect x="1217.14" y="835.91" width="5.17" height="5.17" fill="#c4c4e1"/>
<rect x="1222.16" y="835.91" width="5.17" height="5.17" fill="#6161b0"/>
<rect x="1227.18" y="835.91" width="5.17" height="5.17" fill="#18188c"/>
<rect x="1232.20" y="835.91" width="5.17" height="5.17" fill="#000080"/>
<rect x="1237.22" y="835.91" width="5.17" height="5.17" fill="#14148a"/>
<rect x="1242.25" y="835.91" width="5.17" height="5.17" fill="#6d65ae"/>
<rect x="1247.27" y="835.91" width="5.17" height="5.17" fill="#cb718c"/>
<rect x="1252.29" y="835.91" width="5.17" height="5.17" fill="#fd3435"/>
<rect x="1257.31" y="835.91" width="5.17" height="5.17" fill="#ff0000"/>
<rect x="1262.33" y="835.91" width="5.17" height="5.17" fill="#ff2f2f"/>
<rect x="1267.36" y="835.91" width="5.17" height="5.17" fill="#ffa2a2"/>
<rect x="1272.38" y="835.91" width="5.17" height="5.17" fill="#d1ccfa"/>
<rect x="1277.40" y="835.91" width="5.17" height="5.17" fill="#5151ff"/>
<rect x="1282.42" y="835.91" width="5.17" height="5.17" fill="#0101ff"/>
<rect x="1287.44" y="835.91" width="5.17" height="5.17" fill="#0000da"/>
<rect x="1292.47" y="835.91" width="5.17" height="5.17" fill="#000063"/>
<rect x="1297.49" y="835.91" width="5.17" height="5.17" fill="#000009"/>
<rect x="1302.51" y="835.91" width="5.17" height="5.17" fill="#101010"/>
<rect x="1307.53" y="835.91" width="5.17" height="5.17" fill="#757575"/>
<rect x="1312.55" y="835.91" width="5.17" height="5.17" fill="#b1b1b1"/>
<rect x="383.48" y="840.93" width="5.17" height="5.17" fill="#b4b4b4"/>
<rect x="388.51" y="840.93" width="5.17" height="5.17" fill="#81000d"/>
<rect x="393.53" y="840.93" width="5.17" height="5.17" fill="#8e0039"/>
<rect x="398.55" y="840.93" width="5.17" height="5.17" fill="#010180"/>
<rect x="403.57" y="840.93" width="5.17" height="5.17" fill="#cbcbe5"/>
<rect x="1232.20" y="840.93" width="5.17" height="5.17" fill="#bdbdde"/>
<rect x="1237.22" y="840.93" width="5.17" height="5.17" fill="#6767b3"/>
<rect x="1242.25" y="840.93" width="5.17" height="5.17" fill="#111189"/>
<rect x="1247.27" y="840.93" width="5.17" height="5.17" fill="#000080"/>
<rect x="1252.29" y="840.93" width="5.17" height="5.17" fill="#0e0d86"/>
<rect x="1257.31" y="840.93" width="5.17" height="5.17" fill="#77276b"/>
<rect x="1262.33" y="840.93" width="5.17" height="5.17" fill="#d91226"/>
<rect x="1267.36" y="840.93" width="5.17" height="5.17" fill="#ff0000"/>
<rect x="1272.38" y="840.93" width="5.17" height="5.17" fill="#ff1010"/>
<rect x="1277.40" y="840.93" width="5.17" height="5.17" fill="#ff7878"/>
<rect x="1282.42" y="840.93" width="5.17" height="5.17" fill="#cca4d7"/>
<rect x="1287.44" y="840.93" width="5.17" height="5.17" fill="#3e3eff"/>
<rect x="1292.47" y="840.93" width="5.17" height="5.17" fill="#0000ff"/>
<rect x="1297.49" y="840.93" width="5.17" height="5.17" fill="#0000f9"/>
<rect x="1302.51" y="840.93" width="5.17" height="5.17" fill="#0000ab"/>
<rect x="1307.53" y="840.93" width="5.17" height="5.17" fill="#000060"/>
<rect x="1312.55" y="840.93" width="5.17" height="5.17" fill="#00000d"/>
<rect x="1317.58" y="840.93" width="5.17" height="5.17" fill="#1f1f1f"/>
<rect x="1322.60" y="840.93" width="5.17" height="5.17" fill="#8f8f8f"/>
<rect x="383.48" y="845.95" width="5.17" height="5.17" fill="#5b5557"/>
<rect x="388.51" y="845.95" width="5.17" height="5.17" fill="#df0006"/>
<rect x="393.53" y="845.95" width="5.17" height="5.17" fill="#1b0073"/>
<rect x="398.55" y="845.95" width="5.17" height="5.17" fill="#4c4ca6"/>
<rect x="1247.27" y="845.95" width="5.17" height="5.17" fill="#aeaed7"/>
<rect x="1252.29" y="845.95" width="5.17" height="5.17" fill="#6363b1"/>
<rect x="1257.31" y="845.95" width="5.17" height="5.17" fill="#060683"/>
<rect x="1262.33" y="845.95" width="5.17" height="5.17" fill="#000080"/>
<rect x="1267.36" y="845.95" width="5.17" height="5.17" fill="#210070"/>
<rect x="1272.38" y="845.95" width="5.17" height="5.17" fill="#9d0334"/>
<rect x="1277.40" y="845.95" width="5.17" height="5.17" fill="#d70014"/>
<rect x="1282.42" y="845.95" width="5.17" height="5.17" fill="#ff0000"/>
<rect x="1287.44" y="845.95" width="5.17" height="5.17" fill="#ff2424"/>
<rect x="1292.47" y="845.95" width="5.17" height="5.17" fill="#d46a96"/>
<rect x="1297.49" y="845.95" width="5.17" height="5.17" fill="#826dea"/>
<rect x="1302.51" y="845.95" width="5.17" height="5.17" fill="#3636ff"/>
<rect x="1307.53" y="845.95" width="5.17" height="5.17" fill="#0101ff"/>
<rect x="1312.55" y="845.95" width="5.17" height="5.17" fill="#0000f7"/>
<rect x="1317.58" y="845.95" width="5.17" height="5.17" fill="#0000a5"/>
<rect x="1322.60" y="845.95" width="5.17" height="5.17" fill="#00003d"/>
<rect x="1327.62" y="845.95" width="5.17" height="5.17" fill="#535357"/>
<rect x="1332.64" y="845.95" width="5.17" height="5.17" fill="#eeeeee"/>
<rect x="378.46" y="850.98" width="5.17" height="5.17" fill="#f0f0f0"/>
<rect x="383.48" y="850.98" width="5.17" height="5.17" fill="#550a1e"/>
<rect x="388.51" y="850.98" width="5.17" height="5.17" fill="#910037"/>
<rect x="393.53" y="850.98" width="5.17" height="5.17" fill="#010180"/>
<rect x="398.55" y="850.98" width="5.17" height="5.17" fill="#cbcbe5"/>
<rect x="1257.31" y="850.98" width="5.17" height="5.17" fill="#f1f1f8"/>
<rect x="1262.33" y="850.98" width="5.17" height="5.17" fill="#a8a8d4"/>
<rect x="1267.36" y="850.98" width="5.17" height="5.17" fill="#4c4ca6"/>
<rect x="1272.38" y="850.98" width="5.17" height="5.17" fill="#000080"/>
<rect x="1277.40" y="850.98" width="5.17" height="5.17" fill="#000080"/>
<rect x="1282.42" y="850.98" width="5.17" height="5.17" fill="#4e0962"/>
<rect x="1287.44" y="850.98" width="5.17" height="5.17" fill="#a80833"/>
<rect x="1292.47" y="850.98" width="5.17" height="5.17" fill="#e9000b"/>
<rect x="1297.49" y="850.98" width="5.17" height="5.17" fill="#ff0202"/>
<rect x="1302.51" y="850.98" width="5.17" height="5.17" fill="#ff4a4a"/>
<rect x="1307.53" y="850.98" width="5.17" height="5.17" fill="#dd7a9d"/>
<rect x="1312.55" y="850.98" width="5.17" height="5.17" fill="#806ceb"/>
<rect x="1317.58" y="850.98" width="5.17" height="5.17" fill="#1f1fff"/>
<rect x="1322.60" y="850.98" width="5.17" height="5.17" fill="#0000ff"/>
<rect x="1327.62" y="850.98" width="5.17" height="5.17" fill="#0000e7"/>
<rect x="1332.64" y="850.98" width="5.17" height="5.17" fill="#010192"/>
<rect x="1337.66" y="850.98" width="5.17" height="5.17" fill="#242437"/>
<rect x="1342.69" y="850.98" width="5.17" height="5.17" fill="#696969"/>
<rect x="1347.71" y="850.98" width="5.17" height="5.17" fill="#bfbfbf"/>
<rect x="1352.73" y="850.98" width="5.17" height="5.17" fill="#f3f3f3"/>
<rect x="378.46" y="856.00" width="5.17" height="5.17" fill="#959595"/>
<rect x="383.48" y="856.00" width="5.17" height="5.17" fill="#ab0023"/>
<rect x="388.51" y="856.00" width="5.17" height="5.17" fill="#180074"/>
<rect x="393.53" y="856.00" width="5.17" height="5.17" fill="#4c4ca6"/>
<rect x="1272.38" y="856.00" width="5.17" height="5.17" fill="#d4d4e9"/>
<rect x="1277.40" y="856.00" width="5.17" height="5.17" fill="#9b9bcd"/>
<rect x="1282.42" y="856.00" width="5.17" height="5.17" fill="#1f1f8f"/>
<rect x="1287.44" y="856.00" width="5.17" height="5.17" fill="#000080"/>
<rect x="1292.47" y="856.00" width="5.17" height="5.17" fill="#01007f"/>
<rect x="1297.49" y="856.00" width="5.17" height="5.17" fill="#2f0068"/>
<rect x="1302.51" y="856.00" width="5.17" height="5.17" fill="#8c003a"/>
<rect x="1307.53" y="856.00" width="5.17" height="5.17" fill="#f50005"/>
<rect x="1312.55" y="856.00" width="5.17" height="5.17" fill="#ff0404"/>
<rect x="1317.58" y="856.00" width="5.17" height="5.17" fill="#f7424a"/>
<rect x="1322.60" y="856.00" width="5.17" height="5.17" fill="#c0609f"/>
<rect x="1327.62" y="856.00" width="5.17" height="5.17" fill="#6e68f8"/>
<rect x="1332.64" y="856.00" width="5.17" height="5.17" fill="#0c0cff"/>
<rect x="1337.66" y="856.00" width="5.17" height="5.17" fill="#0000f1"/>
<rect x="1342.69" y="856.00" width="5.17" height="5.17" fill="#0000a9"/>
<rect x="1347.71" y="856.00" width="5.17" height="5.17" fill="#000054"/>
<rect x="1352.73" y="856.00" width="5.17" height="5.17" fill="#030303"/>
<rect x="1357.75" y="856.00" width="5.17" height="5.17" fill="#343434"/>
<rect x="1362.77" y="856.00" width="5.17" height="5.17" fill="#828282"/>
<rect x="1367.80" y="856.00" width="5.17" height="5.17" fill="#b9b9b9"/>
<rect x="1372.82" y="856.00" width="5.17" height="5.17" fill="#e8e8e8"/>
<rect x="378.46" y="861.02" width="5.17" height="5.17" fill="#593759"/>
<rect x="383.48" y="861.02" width="5.17" height="5.17" fill="#8e003b"/>
<rect x="388.51" y="861.02" width="5.17" height="5.17" fill="#010180"/>
<rect x="393.53" y="861.02" width="5.17" height="5.17" fill="#cbcbe5"/>
<rect x="1287.44" y="861.02" width="5.17" height="5.17" fill="#d4d4e9"/>
<rect x="1292.47" y="861.02" width="5.17" height="5.17" fill="#8f8fc7"/>
<rect x="1297.49" y="861.02" width="5.17" height="5.17" fill="#4949a4"/>
<rect x="1302.51" y="861.02" width="5.17" height="5.17" fill="#010181"/>
<rect x="1307.53" y="861.02" width="5.17" height="5.17" fill="#120077"/>
<rect x="1312.55" y="861.02" width="5.17" height="5.17" fill="#46005d"/>
<rect x="1317.58" y="861.02" width="5.17" height="5.17" fill="#6f0048"/>
<rect x="1322.60" y="861.02" width="5.17" height="5.17" fill="#d40015"/>
<rect x="1327.62" y="861.02" width="5.17" height="5.17" fill="#f6151a"/>
<rect x="1332.64" y="861.02" width="5.17" height="5.17" fill="#e27693"/>
<rect x="1337.66" y="861.02" width="5.17" height="5.17" fill="#7f3ebf"/>
<rect x="1342.69" y="861.02" width="5.17" height="5.17" fill="#2a28fd"/>
<rect x="1347.71" y="861.02" width="5.17" height="5.17" fill="#0000ff"/>
<rect x="1352.73" y="861.02" width="5.17" height="5.17" fill="#1010a4"/>
<rect x="1357.75" y="861.02" width="5.17" height="5.17" fill="#101049"/>
<rect x="1362.77" y="861.02" width="5.17" height="5.17" fill="#040408"/>
<rect x="1367.80" y="861.02" width="5.17" height="5.17" fill="#000000"/>
<rect x="1372.82" y="861.02" width="5.17" height="5.17" fill="#000000"/>
<rect x="1377.84" y="861.02" width="5.17" height="5.17" fill="#222222"/>
<rect x="1382.86" y="861.02" width="5.17" height="5.17" fill="#656565"/>
<rect x="1387.88" y="861.02" width="5.17" height="5.17" fill="#b4b4b4"/>
<rect x="1392.91" y="861.02" width="5.17" height="5.17" fill="#f4f4f4"/>
<rect x="373.44" y="866.04" width="5.17" height="5.17" fill="#d7d7d7"/>
<rect x="378.46" y="866.04" width="5.17" height="5.17" fill="#880022"/>
<rect x="383.48" y="866.04" width="5.17" height="5.17" fill="#170074"/>
<rect x="388.51" y="866.04" width="5.17" height="5.17" fill="#4c4ca6"/>
<rect x="1302.51" y="866.04" width="5.17" height="5.17" fill="#d4d4ea"/>
<rect x="1307.53" y="866.04" width="5.17" height="5.17" fill="#6f6fb7"/>
<rect x="1312.55" y="866.04" width="5.17" height="5.17" fill="#4949a4"/>
<rect x="1317.58" y="866.04" width="5.17" height="5.17" fill="#0a0a85"/>
<rect x="1322.60" y="866.04" width="5.17" height="5.17" fill="#000080"/>
<rect x="1327.62" y="866.04" width="5.17" height="5.17" fill="#0f0079"/>
<rect x="1332.64" y="866.04" width="5.17" height="5.17" fill="#47005c"/>
<rect x="1337.66" y="866.04" width="5.17" height="5.17" fill="#950035"/>
<rect x="1342.69" y="866.04" width="5.17" height="5.17" fill="#c51e3b"/>
<rect x="1347.71" y="866.04" width="5.17" height="5.17" fill="#b1064b"/>
<rect x="1352.73" y="866.04" width="5.17" height="5.17" fill="#980067"/>
<rect x="1357.75" y="866.04" width="5.17" height="5.17" fill="#5e00a1"/>
<rect x="1362.77" y="866.04" width="5.17" height="5.17" fill="#1807e7"/>
<rect x="1367.80" y="866.04" width="5.17" height="5.17" fill="#1212ca"/>
<rect x="1372.82" y="866.04" width="5.17" height="5.17" fill="#0b0b9b"/>
<rect x="1377.84" y="866.04" width="5.17" height="5.17" fill="#181866"/>
<rect x="1382.86" y="866.04" width="5.17" height="5.17" fill="#00002a"/>
<rect x="1387.88" y="866.04" width="5.17" height="5.17" fill="#000003"/>
<rect x="1392.91" y="866.04" width="5.17" height="5.17" fill="#141414"/>
<rect x="1397.93" y="866.04" width="5.17" height="5.17" fill="#8f8f8f"/>
<rect x="1402.95" y="866.04" width="5.17" height="5.17" fill="#e1e1e1"/>
<rect x="373.44" y="871.06" width="5.17" height="5.17" fill="#897285"/>
<rect x="378.46" y="871.06" width="5.17" height="5.17" fill="#830041"/>
<rect x="383.48" y="871.06" width="5.17" height="5.17" fill="#010180"/>
<rect x="388.51" y="871.06" width="5.17" height="5.17" fill="#cbcbe5"/>
<rect x="1317.58" y="871.06" width="5.17" height="5.17" fill="#ebebf5"/>
<rect x="1322.60" y="871.06" width="5.17" height="5.17" fill="#b6b6da"/>
<rect x="1327.62" y="871.06" width="5.17" height="5.17" fill="#8181c0"/>
<rect x="1332.64" y="871.06" width="5.17" height="5.17" fill="#323299"/>
<rect x="1337.66" y="871.06" width="5.17" height="5.17" fill="#040482"/>
<rect x="1342.69" y="871.06" width="5.17" height="5.17" fill="#000080"/>
<rect x="1347.71" y="871.06" width="5.17" height="5.17" fill="#08007c"/>
<rect x="1352.73" y="871.06" width="5.17" height="5.17" fill="#500058"/>
<rect x="1357.75" y="871.06" width="5.17" height="5.17" fill="#88003c"/>
<rect x="1362.77" y="871.06" width="5.17" height="5.17" fill="#ad0038"/>
<rect x="1367.80" y="871.06" width="5.17" height="5.17" fill="#4e01b1"/>
<rect x="1372.82" y="871.06" width="5.17" height="5.17" fill="#5d00a2"/>
<rect x="1377.84" y="871.06" width="5.17" height="5.17" fill="#5e00a1"/>
<rect x="1382.86" y="871.06" width="5.17" height="5.17" fill="#5900a6"/>
<rect x="1387.88" y="871.06" width="5.17" height="5.17" fill="#4300a9"/>
<rect x="1392.91" y="871.06" width="5.17" height="5.17" fill="#27007a"/>
<rect x="1397.93" y="871.06" width="5.17" height="5.17" fill="#08002b"/>
<rect x="1402.95" y="871.06" width="5.17" height="5.17" fill="#010101"/>
<rect x="1407.97" y="871.06" width="5.17" height="5.17" fill="#282828"/>
<rect x="1412.99" y="871.06" width="5.17" height="5.17" fill="#474747"/>
<rect x="1418.02" y="871.06" width="5.17" height="5.17" fill="#a6a6a6"/>
<rect x="1423.04" y="871.06" width="5.17" height="5.17" fill="#d3d3d3"/>
<rect x="368.42" y="876.09" width="5.17" height="5.17" fill="#f4f4f4"/>
<rect x="373.44" y="876.09" width="5.17" height="5.17" fill="#8e1241"/>
<rect x="378.46" y="876.09" width="5.17" height="5.17" fill="#0c007a"/>
<rect x="383.48" y="876.09" width="5.17" height="5.17" fill="#5252a9"/>
<rect x="1337.66" y="876.09" width="5.17" height="5.17" fill="#ededf6"/>
<rect x="1342.69" y="876.09" width="5.17" height="5.17" fill="#c9c9e4"/>
<rect x="1347.71" y="876.09" width="5.17" height="5.17" fill="#8181c0"/>
<rect x="1352.73" y="876.09" width="5.17" height="5.17" fill="#333399"/>
<rect x="1357.75" y="876.09" width="5.17" height="5.17" fill="#030382"/>
<rect x="1362.77" y="876.09" width="5.17" height="5.17" fill="#000080"/>
<rect x="1367.80" y="876.09" width="5.17" height="5.17" fill="#1d0071"/>
<rect x="1372.82" y="876.09" width="5.17" height="5.17" fill="#730046"/>
<rect x="1377.84" y="876.09" width="5.17" height="5.17" fill="#b80024"/>
<rect x="1382.86" y="876.09" width="5.17" height="5.17" fill="#f80004"/>
<rect x="1387.88" y="876.09" width="5.17" height="5.17" fill="#ff0000"/>
<rect x="1392.91" y="876.09" width="5.17" height="5.17" fill="#ff0000"/>
<rect x="1397.93" y="876.09" width="5.17" height="5.17" fill="#eb0013"/>
<rect x="1402.95" y="876.09" width="5.17" height="5.17" fill="#b10019"/>
<rect x="1407.97" y="876.09" width="5.17" height="5.17" fill="#690113"/>
<rect x="1412.99" y="876.09" width="5.17" height="5.17" fill="#170129"/>
<rect x="1418.02" y="876.09" width="5.17" height="5.17" fill="#000018"/>
<rect x="1423.04" y="876.09" width="5.17" height="5.17" fill="#000001"/>
<rect x="1428.06" y="876.09" width="5.17" height="5.17" fill="#0a0a0a"/>
<rect x="1433.08" y="876.09" width="5.17" height="5.17" fill="#505050"/>
<rect x="1438.10" y="876.09" width="5.17" height="5.17" fill="#b7b7b7"/>
<rect x="368.42" y="881.11" width="5.17" height="5.17" fill="#ac7b9b"/>
<rect x="373.44" y="881.11" width="5.17" height="5.17" fill="#3f0062"/>
<rect x="378.46" y="881.11" width="5.17" height="5.17" fill="#1a1a8d"/>
<rect x="383.48" y="881.11" width="5.17" height="5.17" fill="#e7e7f3"/>
<rect x="1357.75" y="881.11" width="5.17" height="5.17" fill="#f4f4fa"/>
<rect x="1362.77" y="881.11" width="5.17" height="5.17" fill="#babadd"/>
<rect x="1367.80" y="881.11" width="5.17" height="5.17" fill="#6b6bb5"/>
<rect x="1372.82" y="881.11" width="5.17" height="5.17" fill="#15158a"/>
<rect x="1377.84" y="881.11" width="5.17" height="5.17" fill="#000080"/>
<rect x="1382.86" y="881.11" width="5.17" height="5.17" fill="#05007e"/>
<rect x="1387.88" y="881.11" width="5.17" height="5.17" fill="#33086e"/>
<rect x="1392.91" y="881.11" width="5.17" height="5.17" fill="#51075e"/>
<rect x="1397.93" y="881.11" width="5.17" height="5.17" fill="#9b1c4e"/>
<rect x="1402.95" y="881.11" width="5.17" height="5.17" fill="#bc0223"/>
<rect x="1407.97" y="881.11" width="5.17" height="5.17" fill="#f60004"/>
<rect x="1412.99" y="881.11" width="5.17" height="5.17" fill="#fa0005"/>
<rect x="1418.02" y="881.11" width="5.17" height="5.17" fill="#c2003d"/>
<rect x="1423.04" y="881.11" width="5.17" height="5.17" fill="#89006d"/>
<rect x="1428.06" y="881.11" width="5.17" height="5.17" fill="#440097"/>
<rect x="1433.08" y="881.11" width="5.17" height="5.17" fill="#2e0085"/>
<rect x="1438.10" y="881.11" width="5.17" height="5.17" fill="#030070"/>
<rect x="1443.13" y="881.11" width="5.17" height="5.17" fill="#0a065c"/>
<rect x="1448.15" y="881.11" width="5.17" height="5.17" fill="#383867"/>
<rect x="1453.17" y="881.11" width="5.17" height="5.17" fill="#58585b"/>
<rect x="1458.19" y="881.11" width="5.17" height="5.17" fill="#757575"/>
<rect x="1463.21" y="881.11" width="5.17" height="5.17" fill="#979797"/>
<rect x="1468.24" y="881.11" width="5.17" height="5.17" fill="#c7c7c7"/>
<rect x="1473.26" y="881.11" width="5.17" height="5.17" fill="#f6f6f6"/>
<rect x="358.37" y="886.13" width="5.17" height="5.17" fill="#ebebeb"/>
<rect x="363.40" y="886.13" width="5.17" height="5.17" fill="#a77ea1"/>
<rect x="368.42" y="886.13" width="5.17" height="5.17" fill="#390169"/>
<rect x="373.44" y="886.13" width="5.17" height="5.17" fill="#030381"/>
<rect x="378.46" y="886.13" width="5.17" height="5.17" fill="#bfbfdf"/>
<rect x="1377.84" y="886.13" width="5.17" height="5.17" fill="#cecee7"/>
<rect x="1382.86" y="886.13" width="5.17" height="5.17" fill="#8f8fc7"/>
<rect x="1387.88" y="886.13" width="5.17" height="5.17" fill="#5e5eaf"/>
<rect x="1392.91" y="886.13" width="5.17" height="5.17" fill="#37379c"/>
<rect x="1397.93" y="886.13" width="5.17" height="5.17" fill="#010181"/>
<rect x="1402.95" y="886.13" width="5.17" height="5.17" fill="#000080"/>
<rect x="1407.97" y="886.13" width="5.17" height="5.17" fill="#06007d"/>
<rect x="1412.99" y="886.13" width="5.17" height="5.17" fill="#24006e"/>
<rect x="1418.02" y="886.13" width="5.17" height="5.17" fill="#770044"/>
<rect x="1423.04" y="886.13" width="5.17" height="5.17" fill="#b10027"/>
<rect x="1428.06" y="886.13" width="5.17" height="5.17" fill="#e00010"/>
<rect x="1433.08" y="886.13" width="5.17" height="5.17" fill="#db0012"/>
<rect x="1438.10" y="886.13" width="5.17" height="5.17" fill="#e00010"/>
<rect x="1443.13" y="886.13" width="5.17" height="5.17" fill="#f2000b"/>
<rect x="1448.15" y="886.13" width="5.17" height="5.17" fill="#c1003e"/>
<rect x="1453.17" y="886.13" width="5.17" height="5.17" fill="#950065"/>
<rect x="1458.19" y="886.13" width="5.17" height="5.17" fill="#7e0073"/>
<rect x="1463.21" y="886.13" width="5.17" height="5.17" fill="#590062"/>
<rect x="1468.24" y="886.13" width="5.17" height="5.17" fill="#220073"/>
<rect x="1473.26" y="886.13" width="5.17" height="5.17" fill="#050484"/>
<rect x="1478.28" y="886.13" width="5.17" height="5.17" fill="#1a1a99"/>
<rect x="1483.30" y="886.13" width="5.17" height="5.17" fill="#4343a6"/>
<rect x="1488.32" y="886.13" width="5.17" height="5.17" fill="#767698"/>
<rect x="1493.35" y="886.13" width="5.17" height="5.17" fill="#878787"/>
<rect x="1498.37" y="886.13" width="5.17" height="5.17" fill="#b6b6b6"/>
<rect x="1503.39" y="886.13" width="5.17" height="5.17" fill="#cdcdcd"/>
<rect x="1508.41" y="886.13" width="5.17" height="5.17" fill="#ededed"/>
<rect x="348.33" y="891.15" width="5.17" height="5.17" fill="#b1b1ba"/>
<rect x="353.35" y="891.15" width="5.17" height="5.17" fill="#816396"/>
<rect x="358.37" y="891.15" width="5.17" height="5.17" fill="#3a0753"/>
<rect x="363.40" y="891.15" width="5.17" height="5.17" fill="#120078"/>
<rect x="368.42" y="891.15" width="5.17" height="5.17" fill="#080884"/>
<rect x="373.44" y="891.15" width="5.17" height="5.17" fill="#a3a3d1"/>
<rect x="1397.93" y="891.15" width="5.17" height="5.17" fill="#ededf6"/>
<rect x="1402.95" y="891.15" width="5.17" height="5.17" fill="#cccce6"/>
<rect x="1407.97" y="891.15" width="5.17" height="5.17" fill="#8787c3"/>
<rect x="1412.99" y="891.15" width="5.17" height="5.17" fill="#5c5cae"/>
<rect x="1418.02" y="891.15" width="5.17" height="5.17" fill="#0d0d87"/>
<rect x="1423.04" y="891.15" width="5.17" height="5.17" fill="#000080"/>
<rect x="1428.06" y="891.15" width="5.17" height="5.17" fill="#000080"/>
<rect x="1433.08" y="891.15" width="5.17" height="5.17" fill="#000080"/>
<rect x="1438.10" y="891.15" width="5.17" height="5.17" fill="#000080"/>
<rect x="1443.13" y="891.15" width="5.17" height="5.17" fill="#0b007a"/>
<rect x="1448.15" y="891.15" width="5.17" height="5.17" fill="#3e0061"/>
<rect x="1453.17" y="891.15" width="5.17" height="5.17" fill="#740046"/>
<rect x="1458.19" y="891.15" width="5.17" height="5.17" fill="#86003d"/>
<rect x="1463.21" y="891.15" width="5.17" height="5.17" fill="#a1002f"/>
<rect x="1468.24" y="891.15" width="5.17" height="5.17" fill="#b80024"/>
<rect x="1473.26" y="891.15" width="5.17" height="5.17" fill="#af002d"/>
<rect x="1478.28" y="891.15" width="5.17" height="5.17" fill="#8c0050"/>
<rect x="1483.30" y="891.15" width="5.17" height="5.17" fill="#830064"/>
<rect x="1488.32" y="891.15" width="5.17" height="5.17" fill="#980067"/>
<rect x="1493.35" y="891.15" width="5.17" height="5.17" fill="#960066"/>
<rect x="1498.37" y="891.15" width="5.17" height="5.17" fill="#5c0079"/>
<rect x="1503.39" y="891.15" width="5.17" height="5.17" fill="#38008c"/>
<rect x="1508.41" y="891.15" width="5.17" height="5.17" fill="#26008b"/>
<rect x="1513.43" y="891.15" width="5.17" height="5.17" fill="#120177"/>
<rect x="1518.46" y="891.15" width="5.17" height="5.17" fill="#29298b"/>
<rect x="1523.48" y="891.15" width="5.17" height="5.17" fill="#69699f"/>
<rect x="1528.50" y="891.15" width="5.17" height="5.17" fill="#9c9cb1"/>
<rect x="1533.52" y="891.15" width="5.17" height="5.17" fill="#c0c0c5"/>
<rect x="1538.54" y="891.15" width="5.17" height="5.17" fill="#d9d9d9"/>
<rect x="1543.57" y="891.15" width="5.17" height="5.17" fill="#ebebeb"/>
<rect x="328.24" y="896.17" width="5.17" height="5.17" fill="#dbdbf9"/>
<rect x="333.26" y="896.17" width="5.17" height="5.17" fill="#9e9ef1"/>
<rect x="338.29" y="896.17" width="5.17" height="5.17" fill="#7777d7"/>
<rect x="343.31" y="896.17" width="5.17" height="5.17" fill="#383093"/>
<rect x="348.33" y="896.17" width="5.17" height="5.17" fill="#170074"/>
<rect x="353.35" y="896.17" width="5.17" height="5.17" fill="#02007f"/>
<rect x="358.37" y="896.17" width="5.17" height="5.17" fill="#030382"/>
<rect x="363.40" y="896.17" width="5.17" height="5.17" fill="#5353a9"/>
<rect x="368.42" y="896.17" width="5.17" height="5.17" fill="#d6d6ea"/>
<rect x="1423.04" y="896.17" width="5.17" height="5.17" fill="#d0d0e8"/>
<rect x="1428.06" y="896.17" width="5.17" height="5.17" fill="#a5a5d2"/>
<rect x="1433.08" y="896.17" width="5.17" height="5.17" fill="#b1b1d8"/>
<rect x="1438.10" y="896.17" width="5.17" height="5.17" fill="#ababd5"/>
<rect x="1443.13" y="896.17" width="5.17" height="5.17" fill="#7c7cbe"/>
<rect x="1448.15" y="896.17" width="5.17" height="5.17" fill="#4343a1"/>
<rect x="1453.17" y="896.17" width="5.17" height="5.17" fill="#15158a"/>
<rect x="1458.19" y="896.17" width="5.17" height="5.17" fill="#060683"/>
<rect x="1463.21" y="896.17" width="5.17" height="5.17" fill="#000080"/>
<rect x="1468.24" y="896.17" width="5.17" height="5.17" fill="#000080"/>
<rect x="1473.26" y="896.17" width="5.17" height="5.17" fill="#000080"/>
<rect x="1478.28" y="896.17" width="5.17" height="5.17" fill="#000080"/>
<rect x="1483.30" y="896.17" width="5.17" height="5.17" fill="#000080"/>
<rect x="1488.32" y="896.17" width="5.17" height="5.17" fill="#06007d"/>
<rect x="1493.35" y="896.17" width="5.17" height="5.17" fill="#0d007a"/>
<rect x="1498.37" y="896.17" width="5.17" height="5.17" fill="#29006c"/>
<rect x="1503.39" y="896.17" width="5.17" height="5.17" fill="#46005d"/>
<rect x="1508.41" y="896.17" width="5.17" height="5.17" fill="#47005c"/>
<rect x="1513.43" y="896.17" width="5.17" height="5.17" fill="#540056"/>
<rect x="1518.46" y="896.17" width="5.17" height="5.17" fill="#5a005d"/>
<rect x="1523.48" y="896.17" width="5.17" height="5.17" fill="#530073"/>
<rect x="1528.50" y="896.17" width="5.17" height="5.17" fill="#68006b"/>
<rect x="1533.52" y="896.17" width="5.17" height="5.17" fill="#5c0074"/>
<rect x="1538.54" y="896.17" width="5.17" height="5.17" fill="#7e003e"/>
<rect x="1543.57" y="896.17" width="5.17" height="5.17" fill="#620047"/>
<rect x="1548.59" y="896.17" width="5.17" height="5.17" fill="#491a8d"/>
<rect x="273.00" y="901.20" width="5.17" height="5.17" fill="#ded0e9"/>
<rect x="278.02" y="901.20" width="5.17" height="5.17" fill="#c999b6"/>
<rect x="283.04" y="901.20" width="5.17" height="5.17" fill="#c68eac"/>
<rect x="288.07" y="901.20" width="5.17" height="5.17" fill="#b886b0"/>
<rect x="293.09" y="901.20" width="5.17" height="5.17" fill="#bd7594"/>
<rect x="298.11" y="901.20" width="5.17" height="5.17" fill="#945a96"/>
<rect x="303.13" y="901.20" width="5.17" height="5.17" fill="#67559a"/>
<rect x="308.15" y="901.20" width="5.17" height="5.17" fill="#8c548f"/>
<rect x="313.18" y="901.20" width="5.17" height="5.17" fill="#5650b2"/>
<rect x="318.20" y="901.20" width="5.17" height="5.17" fill="#4d3a9e"/>
<rect x="323.22" y="901.20" width="5.17" height="5.17" fill="#171385"/>
<rect x="328.24" y="901.20" width="5.17" height="5.17" fill="#00008e"/>
<rect x="333.26" y="901.20" width="5.17" height="5.17" fill="#000080"/>
<rect x="338.29" y="901.20" width="5.17" height="5.17" fill="#000080"/>
<rect x="343.31" y="901.20" width="5.17" height="5.17" fill="#040482"/>
<rect x="348.33" y="901.20" width="5.17" height="5.17" fill="#4c4ba5"/>
<rect x="353.35" y="901.20" width="5.17" height="5.17" fill="#9292c9"/>
<rect x="358.37" y="901.20" width="5.17" height="5.17" fill="#e7e7f3"/>
<rect x="1463.21" y="901.20" width="5.17" height="5.17" fill="#eeeef6"/>
<rect x="1468.24" y="901.20" width="5.17" height="5.17" fill="#cecee7"/>
<rect x="1473.26" y="901.20" width="5.17" height="5.17" fill="#d2d2e8"/>
<rect x="1478.28" y="901.20" width="5.17" height="5.17" fill="#d4d4e9"/>
<rect x="1483.30" y="901.20" width="5.17" height="5.17" fill="#babadd"/>
<rect x="1488.32" y="901.20" width="5.17" height="5.17" fill="#8282c1"/>
<rect x="1493.35" y="901.20" width="5.17" height="5.17" fill="#7d7dbe"/>
<rect x="1498.37" y="901.20" width="5.17" height="5.17" fill="#6161b0"/>
<rect x="1503.39" y="901.20" width="5.17" height="5.17" fill="#4141a0"/>
<rect x="1508.41" y="901.20" width="5.17" height="5.17" fill="#4040a0"/>
<rect x="1513.43" y="901.20" width="5.17" height="5.17" fill="#3d3d9e"/>
<rect x="1518.46" y="901.20" width="5.17" height="5.17" fill="#1a1a8d"/>
<rect x="1523.48" y="901.20" width="5.17" height="5.17" fill="#010181"/>
<rect x="1528.50" y="901.20" width="5.17" height="5.17" fill="#000080"/>
<rect x="1533.52" y="901.20" width="5.17" height="5.17" fill="#000080"/>
<rect x="1538.54" y="901.20" width="5.17" height="5.17" fill="#000080"/>
<rect x="1543.57" y="901.20" width="5.17" height="5.17" fill="#000080"/>
<rect x="1548.59" y="901.20" width="5.17" height="5.17" fill="#09037e"/>
<rect x="1553.61" y="901.20" width="5.17" height="5.17" fill="#f8f6fa"/>
<rect x="273.00" y="906.22" width="5.17" height="5.17" fill="#4e48a3"/>
<rect x="278.02" y="906.22" width="5.17" height="5.17" fill="#000080"/>
<rect x="283.04" y="906.22" width="5.17" height="5.17" fill="#000080"/>
<rect x="288.07" y="906.22" width="5.17" height="5.17" fill="#000080"/>
<rect x="293.09" y="906.22" width="5.17" height="5.17" fill="#000080"/>
<rect x="298.11" y="906.22" width="5.17" height="5.17" fill="#000080"/>
<rect x="303.13" y="906.22" width="5.17" height="5.17" fill="#0b0b87"/>
<rect x="308.15" y="906.22" width="5.17" height="5.17" fill="#010181"/>
<rect x="313.18" y="906.22" width="5.17" height="5.17" fill="#16168b"/>
<rect x="318.20" y="906.22" width="5.17" height="5.17" fill="#1d1d8e"/>
<rect x="323.22" y="906.22" width="5.17" height="5.17" fill="#4242a1"/>
<rect x="328.24" y="906.22" width="5.17" height="5.17" fill="#6a63ae"/>
<rect x="333.26" y="906.22" width="5.17" height="5.17" fill="#9988bc"/>
<rect x="338.29" y="906.22" width="5.17" height="5.17" fill="#d4c0d5"/>
<rect x="343.31" y="906.22" width="5.17" height="5.17" fill="#f0edf4"/>
<rect x="1528.50" y="906.22" width="5.17" height="5.17" fill="#e7e7f3"/>
<rect x="1533.52" y="906.22" width="5.17" height="5.17" fill="#cccce6"/>
<rect x="1538.54" y="906.22" width="5.17" height="5.17" fill="#babadd"/>
<rect x="1543.57" y="906.22" width="5.17" height="5.17" fill="#babadd"/>
<rect x="1548.59" y="906.22" width="5.17" height="5.17" fill="#cbcbe5"/>
<rect x="273.00" y="911.24" width="5.17" height="5.17" fill="#e0e0f0"/>
<rect x="278.02" y="911.24" width="5.17" height="5.17" fill="#bdbdde"/>
<rect x="283.04" y="911.24" width="5.17" height="5.17" fill="#bfbfdf"/>
<rect x="288.07" y="911.24" width="5.17" height="5.17" fill="#bbbbdd"/>
<rect x="293.09" y="911.24" width="5.17" height="5.17" fill="#c9c9e4"/>
<rect x="298.11" y="911.24" width="5.17" height="5.17" fill="#dfdfef"/>
</g>
<text transform="translate(102.43,79.98) scale(1.0129,1)" font-size="53.67" font-weight="normal" fill="#000" >3000</text>
<text transform="translate(100.93,361.37) scale(1.0128,1)" font-size="54.38" font-weight="normal" fill="#000" >2000</text>
<clipPath id="c1_1"><polygon points="93.23,596.49 155.34,596.49 155.34,647.41 118.30,647.41 118.30,655.60 113.34,655.60 113.34,647.41 93.23,647.41"/></clipPath>
<text x="99.23" y="652.60" font-size="56.11" fill="#000" clip-path="url(#c1_1)">1</text>
<text transform="translate(128.91,652.46) scale(0.9692,1)" font-size="55.08" font-weight="normal" fill="#000" >000</text>
<text transform="translate(178.85,933.26) scale(0.9581,1)" font-size="54.80" font-weight="normal" fill="#000" >0</text>
<text transform="translate(21.85,501.70) scale(0.9453,1)" font-size="57.85" font-weight="normal" fill="#000" >I</text>
<text transform="translate(37.44,501.70) scale(0.9724,1)" font-size="55.20" font-weight="normal" fill="#000" >n</text>
<text transform="translate(65.45,501.63) scale(0.6029,1)" font-size="59.76" font-weight="normal" fill="#000" >t</text>
<text transform="translate(77.50,501.70) scale(1.1470,1)" font-size="43.95" font-weight="normal" fill="#000" >.</text>
<text transform="translate(650.74,1079.18) scale(1.0288,1)" font-size="53.25" font-weight="normal" fill="#000" >400</text>
<text transform="translate(1226.85,1079.37) scale(0.9945,1)" font-size="54.10" font-weight="normal" fill="#000" >500</text>
<text transform="translate(792.57,1124.29) scale(0.9958,1)" font-size="53.53" font-weight="normal" fill="#000" >Wavelength</text>
<text transform="translate(1588.81,1034.80) scale(1.0144,1)" font-size="54.82" font-weight="normal" fill="#000" >nm</text>
<text transform="translate(1165.64,90.37) scale(0.9568,1)" font-size="53.64" font-weight="normal" fill="#000" stroke="#000" stroke-width="1">[</text>
<text transform="translate(1180.58,91.53) scale(0.9479,1)" font-size="58.05" font-weight="bold" fill="#000" >6</text>
<text transform="translate(1212.11,90.37) scale(0.9381,1)" font-size="53.64" font-weight="normal" fill="#000" stroke="#000" stroke-width="1">]</text>
<text transform="translate(1242.10,87.54) scale(1.0454,1)" font-size="49.03" font-weight="normal" fill="#000" stroke="#000" stroke-width="1.1">=</text>
<text transform="translate(1468.71,105.46) scale(0.9747,1)" font-size="54.94" font-weight="normal" fill="#000" >0</text>
<text transform="translate(1567.24,106.00) scale(0.9589,1)" font-size="58.00" font-weight="normal" fill="#000" >M</text>
<text transform="translate(1306.06,175.70) scale(1.0207,1)" font-size="56.25" font-weight="normal" fill="#000" >7</text>
<text transform="translate(1330.75,175.70) scale(1.1618,1)" font-size="54.24" font-weight="normal" fill="#000" >.</text>
<clipPath id="c1_2"><polygon points="1343.08,119.45 1405.33,119.45 1405.33,170.50 1368.20,170.50 1368.20,178.70 1363.23,178.70 1363.23,170.50 1343.08,170.50"/></clipPath>
<text x="1349.08" y="175.70" font-size="56.25" fill="#000" clip-path="url(#c1_2)">1</text>
<text transform="translate(1387.85,177.44) scale(1.0466,1)" font-size="64.08" font-weight="normal" fill="#000" stroke="#fff" stroke-width="1.5">×</text>
<clipPath id="c1_3"><polygon points="1434.28,119.45 1496.53,119.45 1496.53,170.50 1459.40,170.50 1459.40,178.70 1454.43,178.70 1454.43,170.50 1434.28,170.50"/></clipPath>
<text x="1440.28" y="175.70" font-size="56.25" fill="#000" clip-path="url(#c1_3)">1</text>
<text transform="translate(1469.35,175.65) scale(0.9364,1)" font-size="56.07" font-weight="normal" fill="#000" >0</text>
<text transform="translate(1492.68,155.30) scale(1.0667,1)" font-size="38.40" font-weight="normal" fill="#000" >-</text>
<text transform="translate(1507.92,155.69) scale(0.9457,1)" font-size="41.71" font-weight="normal" fill="#000" >5</text>
<text transform="translate(1573.82,175.70) scale(0.9700,1)" font-size="56.25" font-weight="normal" fill="#000" >M</text>
<clipPath id="c1_4"><polygon points="1286.88,190.45 1349.13,190.45 1349.13,241.50 1312.00,241.50 1312.00,249.70 1307.03,249.70 1307.03,241.50 1286.88,241.50"/></clipPath>
<text x="1292.88" y="246.70" font-size="56.25" fill="#000" clip-path="url(#c1_4)">1</text>
<text transform="translate(1321.72,246.70) scale(0.9853,1)" font-size="56.14" font-weight="normal" fill="#000" >2</text>
<text transform="translate(1345.25,246.70) scale(1.1812,1)" font-size="54.24" font-weight="normal" fill="#000" >.</text>
<text transform="translate(1363.09,246.65) scale(0.9434,1)" font-size="55.89" font-weight="normal" fill="#000" >5</text>
<text transform="translate(1402.95,247.82) scale(1.0503,1)" font-size="63.86" font-weight="normal" fill="#000" stroke="#fff" stroke-width="1.5">×</text>
<clipPath id="c1_5"><polygon points="1448.88,190.45 1511.13,190.45 1511.13,241.50 1474.00,241.50 1474.00,249.70 1469.03,249.70 1469.03,241.50 1448.88,241.50"/></clipPath>
<text x="1454.88" y="246.70" font-size="56.25" fill="#000" clip-path="url(#c1_5)">1</text>
<text transform="translate(1478.41,246.65) scale(0.9551,1)" font-size="56.07" font-weight="normal" fill="#000" >0</text>
<text transform="translate(1507.68,221.20) scale(1.0667,1)" font-size="38.40" font-weight="normal" fill="#000" >-</text>
<text transform="translate(1523.16,221.30) scale(0.8717,1)" font-size="41.13" font-weight="normal" fill="#000" >5</text>
<text transform="translate(1574.27,246.70) scale(0.9496,1)" font-size="56.83" font-weight="normal" fill="#000" >M</text>
<clipPath id="c1_6"><polygon points="1286.69,260.27 1349.52,260.27 1349.52,311.85 1312.00,311.85 1312.00,320.10 1306.98,320.10 1306.98,311.85 1286.69,311.85"/></clipPath>
<text x="1292.69" y="317.10" font-size="56.83" fill="#000" clip-path="url(#c1_6)">1</text>
<text transform="translate(1321.24,316.95) scale(0.9999,1)" font-size="56.36" font-weight="normal" fill="#000" >6</text>
<text transform="translate(1345.25,317.10) scale(1.1812,1)" font-size="54.24" font-weight="normal" fill="#000" >.</text>
<text transform="translate(1361.27,317.10) scale(1.0064,1)" font-size="56.83" font-weight="normal" fill="#000" >7</text>
<text transform="translate(1402.95,319.04) scale(1.0181,1)" font-size="65.88" font-weight="normal" fill="#000" stroke="#fff" stroke-width="1.5">×</text>
<clipPath id="c1_7"><polygon points="1448.69,260.27 1511.52,260.27 1511.52,311.85 1474.00,311.85 1474.00,320.10 1468.98,320.10 1468.98,311.85 1448.69,311.85"/></clipPath>
<text x="1454.69" y="317.10" font-size="56.83" fill="#000" clip-path="url(#c1_7)">1</text>
<text transform="translate(1478.41,316.95) scale(0.9503,1)" font-size="56.36" font-weight="normal" fill="#000" >0</text>
<text transform="translate(1507.68,292.00) scale(1.0667,1)" font-size="38.40" font-weight="normal" fill="#000" >-</text>
<text transform="translate(1523.16,291.69) scale(0.8597,1)" font-size="41.71" font-weight="normal" fill="#000" >5</text>
<text transform="translate(1574.27,317.10) scale(0.9399,1)" font-size="57.41" font-weight="normal" fill="#000" >M</text>
<polygon points="1036.3,132.1 1079.6,156.7 1079.6,206.5 1036.3,230.6 992.7,206.5 992.7,156.7" fill="none" stroke="#148214" stroke-width="4.2" stroke-linejoin="miter"/>
<path d="M1036.3 142.4L1071 163.2M1003 160.6L1003 202.1M1037.3 220.3L1071 200.3M1079.6 156.7L1121.1 132.8M992.7 206.5L973.2 217.7" stroke="#148214" stroke-width="4.2" fill="none"/>
<path d="M1121.1 132.8L1143.2 143.7" stroke="#000" stroke-width="4.2" fill="none"/>
<text transform="translate(866.99,256.76) scale(1.0350,1)" font-size="44.91" font-weight="normal" fill="#148214" >MeO</text>
<text transform="translate(1149.90,180.16) scale(1.0136,1)" font-size="44.77" font-weight="normal" fill="#000" >CO</text>
<text transform="translate(1215.23,185.20) scale(1.0529,1)" font-size="35.23" font-weight="normal" fill="#000" >2</text>
<text transform="translate(1235.40,180.00) scale(1.0391,1)" font-size="44.62" font-weight="normal" fill="#000" >H</text>
</svg>
</body></html>
